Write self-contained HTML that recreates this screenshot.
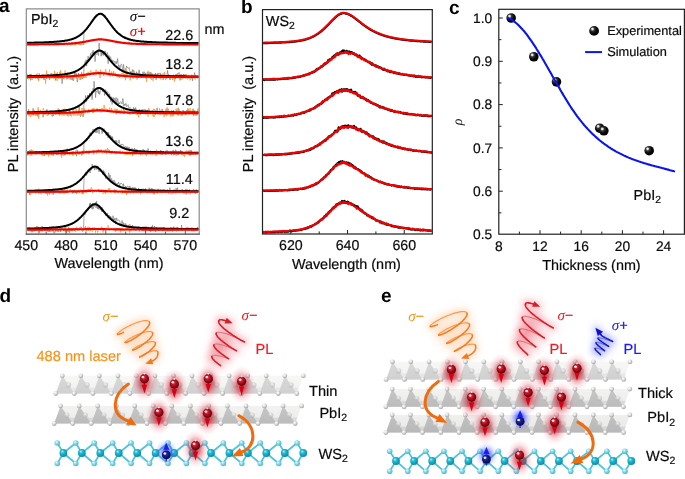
<!DOCTYPE html>
<html><head><meta charset="utf-8"><style>
html,body{margin:0;padding:0;background:#fff;}
svg{display:block;} text{text-rendering:geometricPrecision;}
</style></head><body>
<svg style="will-change:transform" width="685" height="479" viewBox="0 0 685 479">
<defs><radialGradient id="gblk" cx="0.36" cy="0.33" r="0.7" fx="0.33" fy="0.3"><stop offset="0" stop-color="#ffffff"/><stop offset="0.12" stop-color="#e0e0e0"/><stop offset="0.28" stop-color="#3a3a3a"/><stop offset="0.6" stop-color="#080808"/><stop offset="1" stop-color="#000"/></radialGradient>
<filter id="blur3" x="-50%" y="-50%" width="200%" height="200%"><feGaussianBlur stdDeviation="3"/></filter><filter id="blur4" x="-50%" y="-50%" width="200%" height="200%"><feGaussianBlur stdDeviation="4"/></filter>
<radialGradient id="gI" cx="0.42" cy="0.38" r="0.62" fx="0.35" fy="0.3"><stop offset="0" stop-color="#ffffff"/><stop offset="0.45" stop-color="#e2e2e2"/><stop offset="1" stop-color="#a0a0a0"/></radialGradient>
<radialGradient id="gPb" cx="0.4" cy="0.35" r="0.65"><stop offset="0" stop-color="#f4f4f4" stop-opacity="0.8"/><stop offset="1" stop-color="#b0b0b0" stop-opacity="0.6"/></radialGradient>
<radialGradient id="gS" cx="0.42" cy="0.4" r="0.62" fx="0.35" fy="0.3"><stop offset="0" stop-color="#e8fbff"/><stop offset="0.45" stop-color="#86dcee"/><stop offset="1" stop-color="#48b4cc"/></radialGradient>
<radialGradient id="gW" cx="0.42" cy="0.4" r="0.62" fx="0.35" fy="0.3"><stop offset="0" stop-color="#b8f4fc"/><stop offset="0.35" stop-color="#22bcd4"/><stop offset="1" stop-color="#0a8aa2"/></radialGradient>
<radialGradient id="gR" cx="0.45" cy="0.42" r="0.6" fx="0.38" fy="0.34"><stop offset="0" stop-color="#f06070"/><stop offset="0.35" stop-color="#c81828"/><stop offset="0.8" stop-color="#800410"/><stop offset="1" stop-color="#4a0006"/></radialGradient><radialGradient id="gHL" cx="0.5" cy="0.5" r="0.5"><stop offset="0" stop-color="#fff" stop-opacity="1"/><stop offset="0.5" stop-color="#fff" stop-opacity="0.8"/><stop offset="1" stop-color="#fff" stop-opacity="0"/></radialGradient>
<radialGradient id="gB" cx="0.45" cy="0.42" r="0.6" fx="0.38" fy="0.34"><stop offset="0" stop-color="#6070e0"/><stop offset="0.35" stop-color="#1c2490"/><stop offset="0.8" stop-color="#0a0e60"/><stop offset="1" stop-color="#02043a"/></radialGradient>
<radialGradient id="glowR" cx="0.5" cy="0.5" r="0.5"><stop offset="0" stop-color="#b80c1a" stop-opacity="0.85"/><stop offset="0.35" stop-color="#c41c2c" stop-opacity="0.55"/><stop offset="0.7" stop-color="#e05060" stop-opacity="0.18"/><stop offset="1" stop-color="#ff8090" stop-opacity="0"/></radialGradient>
<radialGradient id="glowB" cx="0.5" cy="0.5" r="0.5"><stop offset="0" stop-color="#1018e8" stop-opacity="0.8"/><stop offset="0.35" stop-color="#2030f0" stop-opacity="0.5"/><stop offset="0.7" stop-color="#5060ff" stop-opacity="0.15"/><stop offset="1" stop-color="#8090ff" stop-opacity="0"/></radialGradient>
<radialGradient id="glowO" cx="0.5" cy="0.5" r="0.5"><stop offset="0" stop-color="#fcd2aa" stop-opacity="0.45"/><stop offset="0.6" stop-color="#fde0c8" stop-opacity="0.25"/><stop offset="1" stop-color="#fff0e4" stop-opacity="0"/></radialGradient>
<radialGradient id="glowPL" cx="0.5" cy="0.5" r="0.5"><stop offset="0" stop-color="#d82838" stop-opacity="0.5"/><stop offset="0.5" stop-color="#e85060" stop-opacity="0.25"/><stop offset="1" stop-color="#ffb0b8" stop-opacity="0"/></radialGradient>
<radialGradient id="glowBL" cx="0.5" cy="0.5" r="0.5"><stop offset="0" stop-color="#5060e0" stop-opacity="0.45"/><stop offset="0.6" stop-color="#8090f0" stop-opacity="0.18"/><stop offset="1" stop-color="#c0c8ff" stop-opacity="0"/></radialGradient>
<linearGradient id="band1" gradientUnits="userSpaceOnUse" x1="0" y1="375.8" x2="0" y2="393.5"><stop offset="0" stop-color="#f7f7f6"/><stop offset="0.62" stop-color="#f3f3f2"/><stop offset="0.7" stop-color="#e7e7e7"/><stop offset="1" stop-color="#e7e7e7"/></linearGradient><linearGradient id="tri1" gradientUnits="userSpaceOnUse" x1="0" y1="375.8" x2="0" y2="393.5"><stop offset="0" stop-color="#d9d9d9"/><stop offset="1" stop-color="#d0d0d0"/></linearGradient><linearGradient id="band2" gradientUnits="userSpaceOnUse" x1="0" y1="405.9" x2="0" y2="423.5"><stop offset="0" stop-color="#f2f2f1"/><stop offset="0.62" stop-color="#eeeeed"/><stop offset="0.7" stop-color="#dadada"/><stop offset="1" stop-color="#dadada"/></linearGradient><linearGradient id="tri2" gradientUnits="userSpaceOnUse" x1="0" y1="405.9" x2="0" y2="423.5"><stop offset="0" stop-color="#c6c6c6"/><stop offset="1" stop-color="#bcbcbc"/></linearGradient><linearGradient id="band3" gradientUnits="userSpaceOnUse" x1="0" y1="361.8" x2="0" y2="379.4"><stop offset="0" stop-color="#f7f7f6"/><stop offset="0.62" stop-color="#f3f3f2"/><stop offset="0.7" stop-color="#e7e7e7"/><stop offset="1" stop-color="#e7e7e7"/></linearGradient><linearGradient id="tri3" gradientUnits="userSpaceOnUse" x1="0" y1="361.8" x2="0" y2="379.4"><stop offset="0" stop-color="#d9d9d9"/><stop offset="1" stop-color="#d0d0d0"/></linearGradient><linearGradient id="band4" gradientUnits="userSpaceOnUse" x1="0" y1="389.1" x2="0" y2="406.8"><stop offset="0" stop-color="#f2f2f1"/><stop offset="0.62" stop-color="#eeeeed"/><stop offset="0.7" stop-color="#dadada"/><stop offset="1" stop-color="#dadada"/></linearGradient><linearGradient id="tri4" gradientUnits="userSpaceOnUse" x1="0" y1="389.1" x2="0" y2="406.8"><stop offset="0" stop-color="#c6c6c6"/><stop offset="1" stop-color="#bcbcbc"/></linearGradient><linearGradient id="band5" gradientUnits="userSpaceOnUse" x1="0" y1="414.9" x2="0" y2="432.5"><stop offset="0" stop-color="#efefee"/><stop offset="0.62" stop-color="#ebebea"/><stop offset="0.7" stop-color="#d6d6d6"/><stop offset="1" stop-color="#d6d6d6"/></linearGradient><linearGradient id="tri5" gradientUnits="userSpaceOnUse" x1="0" y1="414.9" x2="0" y2="432.5"><stop offset="0" stop-color="#c2c2c2"/><stop offset="1" stop-color="#b8b8b8"/></linearGradient></defs>
<rect width="685" height="479" fill="#fff"/>
<path d="M27.1,44.7L27.6,43.6L28.1,43.8L28.6,44.0L29.1,43.4L29.6,43.8L30.1,43.8L30.6,42.9L31.1,44.3L31.6,44.1L32.1,43.5L32.6,43.7L33.1,44.1L33.6,43.7L34.1,43.7L34.6,43.1L35.1,44.1L35.6,43.9L36.1,43.9L36.6,43.0L37.1,44.6L37.6,43.9L38.1,43.6L38.6,44.8L39.1,43.8L39.6,43.1L40.1,43.6L40.6,42.6L41.1,44.3L41.6,43.6L42.1,43.4L42.6,44.4L43.1,42.9L43.6,44.1L44.1,42.7L44.6,43.5L45.1,43.2L45.6,44.6L46.1,44.7L46.6,43.6L47.1,44.2L47.6,43.7L48.1,44.1L48.6,43.4L49.1,42.9L49.6,42.9L50.1,44.0L50.6,45.0L51.1,43.9L51.6,43.5L52.1,44.8L52.6,43.9L53.1,43.9L53.6,43.9L54.1,43.7L54.6,43.6L55.1,43.0L55.6,44.1L56.1,43.8L56.6,44.4L57.1,43.6L57.6,42.8L58.1,43.7L58.6,44.7L59.1,43.6L59.6,43.3L60.1,43.2L60.6,43.2L61.1,43.6L61.6,43.2L62.1,44.6L62.6,43.6L63.1,43.9L63.6,44.6L64.1,44.6L64.6,43.7L65.1,44.0L65.6,44.2L66.1,43.7L66.6,42.8L67.1,44.2L67.6,44.3L68.1,44.0L68.6,43.3L69.1,43.7L69.6,43.5L70.1,43.6L70.6,44.5L71.1,44.6L71.6,44.2L72.1,44.1L72.6,44.2L73.1,43.8L73.6,43.8L74.1,43.4L74.6,43.8L75.1,45.1L75.6,44.3L76.1,43.6L76.6,43.5L77.1,43.3L77.6,44.0L78.1,44.0L78.6,42.9L79.1,44.1L79.6,43.5L80.1,44.7L80.6,43.9L81.1,44.9L81.6,43.5L82.1,43.6L82.6,44.0L83.1,44.5L83.6,44.2L84.1,30.8L84.6,31.2L85.1,30.5L85.6,29.7L86.1,28.9L86.6,30.0L87.1,27.9L87.6,26.9L88.1,27.3L88.6,26.3L89.1,25.5L89.6,25.4L90.1,24.5L90.6,23.7L91.1,23.5L91.6,22.3L92.1,20.8L92.6,20.3L93.1,19.5L93.6,19.4L94.1,17.7L94.6,16.4L95.1,17.4L95.6,15.6L96.1,14.5L96.6,16.0L97.1,14.6L97.6,15.3L98.1,14.0L98.6,13.2L99.1,12.9L99.6,13.4L100.1,13.6L100.6,13.1L101.1,13.6L101.6,12.7L102.1,14.3L102.6,13.0L103.1,14.7L103.6,15.9L104.1,16.7L104.6,17.8L105.1,15.5L105.6,18.1L106.1,19.1L106.6,19.5L107.1,18.6L107.6,20.4L108.1,22.3L108.6,20.3L109.1,22.6L109.6,23.8L110.1,23.1L110.6,24.7L111.1,24.2L111.6,25.1L112.1,25.8L112.6,27.1L113.1,27.6L113.6,29.0L114.1,28.2L114.6,29.4L115.1,30.7L115.6,31.0L116.1,30.3L116.6,32.1L117.1,31.9L117.6,32.9L118.1,33.3L118.6,34.3L119.1,34.1L119.6,33.2L120.1,33.9L120.6,35.6L121.1,35.4L121.6,36.5L122.1,36.3L122.6,36.0L123.1,37.4L123.6,36.6L124.1,36.1L124.6,38.8L125.1,36.7L125.6,38.4L126.1,38.8L126.6,38.5L127.1,37.7L127.6,39.4L128.1,38.2L128.6,38.4L129.1,39.1L129.6,39.9L130.1,39.8L130.6,40.2L131.1,39.6L131.6,39.9L132.1,39.5L132.6,40.0L133.1,40.6L133.6,40.2L134.1,40.7L134.6,40.3L135.1,40.3L135.6,40.8L136.1,40.7L136.6,41.2L137.1,41.0L137.6,41.9L138.1,41.0L138.6,41.0L139.1,40.6L139.6,41.3L140.1,41.7L140.6,41.0L141.1,41.4L141.6,41.8L142.1,41.4L142.6,41.3L143.1,42.1L143.6,41.7L144.1,41.9L144.6,42.3L145.1,42.3L145.6,41.6L146.1,41.5L146.6,42.0L147.1,41.8L147.6,40.9L148.1,42.6L148.6,42.0L149.1,42.4L149.6,41.4L150.1,42.7L150.6,41.8L151.1,42.1L151.6,41.4L152.1,42.1L152.6,42.1L153.1,42.1L153.6,42.5L154.1,42.3L154.6,42.8L155.1,42.1L155.6,41.8L156.1,42.3L156.6,42.7L157.1,43.0L157.6,42.8L158.1,41.5L158.6,42.6L159.1,43.2L159.6,42.5L160.1,42.2L160.6,42.7L161.1,42.3L161.6,42.9L162.1,42.5L162.6,43.3L163.1,42.8L163.6,42.2L164.1,42.9L164.6,43.1L165.1,42.3L165.6,42.4L166.1,41.5L166.6,43.1L167.1,42.4L167.6,41.6L168.1,41.8L168.6,42.6L169.1,43.1L169.6,42.7L170.1,43.0L170.6,42.2L171.1,42.1L171.6,43.2L172.1,43.0L172.6,42.8L173.1,43.5L173.6,42.3L174.1,42.6L174.6,43.3L175.1,43.8L175.6,42.8L176.1,43.7L176.6,42.6L177.1,43.0L177.6,42.8L178.1,42.1L178.6,43.0L179.1,43.4L179.6,42.8L180.1,42.9L180.6,43.6L181.1,42.3L181.6,42.2L182.1,42.6L182.6,42.3L183.1,43.6L183.6,43.1L184.1,42.5L184.6,42.7L185.1,44.4L185.6,42.7L186.1,42.6L186.6,43.2L187.1,43.3L187.6,43.1L188.1,42.6L188.6,42.4L189.1,43.3L189.6,43.0L190.1,42.2L190.6,43.6L191.1,43.4L191.6,42.9L192.1,42.9L192.6,43.2L193.1,42.7L193.6,42.4L194.1,43.2L194.6,42.3L195.1,43.3L195.6,42.4L196.1,43.0L196.6,43.0L197.1,44.0L197.6,42.6L198.1,42.4L198.6,42.8" fill="none" stroke="#6e6e6e" stroke-width="0.6"/>
<path d="M27.1,44.1L27.6,45.6L28.1,44.5L28.6,44.4L29.1,44.3L29.6,44.5L30.1,44.9L30.6,44.9L31.1,44.8L31.6,44.5L32.1,44.0L32.6,44.7L33.1,45.2L33.6,45.0L34.1,44.5L34.6,44.9L35.1,44.4L35.6,44.6L36.1,44.1L36.6,44.5L37.1,44.7L37.6,44.5L38.1,44.9L38.6,45.4L39.1,45.1L39.6,44.5L40.1,44.3L40.6,44.3L41.1,44.2L41.6,44.6L42.1,44.8L42.6,44.7L43.1,44.7L43.6,44.7L44.1,44.5L44.6,44.3L45.1,45.3L45.6,45.0L46.1,44.2L46.6,44.2L47.1,44.4L47.6,44.6L48.1,45.1L48.6,45.0L49.1,45.0L49.6,45.0L50.1,45.0L50.6,44.9L51.1,44.8L51.6,44.6L52.1,43.9L52.6,44.5L53.1,45.3L53.6,44.4L54.1,44.3L54.6,45.0L55.1,44.6L55.6,44.4L56.1,45.2L56.6,44.8L57.1,44.9L57.6,44.4L58.1,44.8L58.6,44.8L59.1,44.9L59.6,45.1L60.1,45.1L60.6,44.7L61.1,44.9L61.6,44.1L62.1,44.9L62.6,44.9L63.1,44.4L63.6,44.3L64.1,44.6L64.6,44.1L65.1,44.7L65.6,44.7L66.1,44.2L66.6,44.6L67.1,45.0L67.6,45.0L68.1,45.0L68.6,44.5L69.1,44.5L69.6,44.4L70.1,44.8L70.6,45.5L71.1,45.2L71.6,45.2L72.1,45.1L72.6,44.0L73.1,44.5L73.6,44.4L74.1,45.1L74.6,45.3L75.1,44.3L75.6,44.6L76.1,44.8L76.6,44.4L77.1,44.3L77.6,44.3L78.1,45.0L78.6,44.2L79.1,45.1L79.6,44.6L80.1,44.9L80.6,45.2L81.1,44.3L81.6,44.3L82.1,44.8L82.6,44.2L83.1,44.3L83.6,44.6L84.1,41.9L84.6,41.3L85.1,41.5L85.6,41.8L86.1,42.0L86.6,40.6L87.1,41.8L87.6,41.6L88.1,40.7L88.6,40.4L89.1,41.1L89.6,40.6L90.1,40.8L90.6,41.0L91.1,40.4L91.6,40.5L92.1,40.5L92.6,40.6L93.1,40.8L93.6,40.7L94.1,40.1L94.6,39.8L95.1,40.8L95.6,40.0L96.1,39.8L96.6,39.2L97.1,39.9L97.6,39.2L98.1,39.3L98.6,38.9L99.1,39.2L99.6,39.4L100.1,38.8L100.6,39.0L101.1,39.4L101.6,38.9L102.1,39.0L102.6,39.2L103.1,39.0L103.6,39.8L104.1,39.2L104.6,40.0L105.1,40.1L105.6,39.3L106.1,39.9L106.6,39.8L107.1,39.6L107.6,40.0L108.1,40.1L108.6,40.6L109.1,40.8L109.6,40.1L110.1,40.5L110.6,40.9L111.1,41.3L111.6,40.0L112.1,41.5L112.6,41.1L113.1,41.8L113.6,41.2L114.1,41.1L114.6,41.5L115.1,42.1L115.6,41.7L116.1,40.8L116.6,42.2L117.1,41.3L117.6,41.7L118.1,41.7L118.6,41.5L119.1,41.8L119.6,42.0L120.1,42.2L120.6,42.5L121.1,42.5L121.6,42.1L122.1,42.7L122.6,43.2L123.1,43.2L123.6,43.0L124.1,43.2L124.6,43.4L125.1,43.6L125.6,43.8L126.1,43.1L126.6,43.1L127.1,43.9L127.6,43.9L128.1,44.0L128.6,42.5L129.1,43.4L129.6,42.2L130.1,43.8L130.6,43.6L131.1,43.6L131.6,43.6L132.1,44.2L132.6,43.6L133.1,44.1L133.6,44.0L134.1,43.9L134.6,44.0L135.1,43.9L135.6,43.4L136.1,44.1L136.6,44.2L137.1,43.8L137.6,44.2L138.1,44.3L138.6,43.4L139.1,43.9L139.6,43.8L140.1,43.6L140.6,44.1L141.1,43.7L141.6,43.9L142.1,44.2L142.6,44.2L143.1,44.2L143.6,45.0L144.1,43.9L144.6,44.2L145.1,43.6L145.6,44.3L146.1,44.6L146.6,44.6L147.1,43.9L147.6,44.1L148.1,44.7L148.6,44.2L149.1,44.6L149.6,43.8L150.1,44.8L150.6,44.6L151.1,44.4L151.6,43.9L152.1,44.2L152.6,44.3L153.1,44.4L153.6,44.2L154.1,44.2L154.6,44.4L155.1,44.8L155.6,43.5L156.1,43.7L156.6,43.7L157.1,44.0L157.6,43.6L158.1,44.5L158.6,44.4L159.1,44.2L159.6,44.1L160.1,44.4L160.6,44.4L161.1,44.5L161.6,44.0L162.1,44.6L162.6,43.8L163.1,44.9L163.6,43.1L164.1,44.1L164.6,43.9L165.1,44.7L165.6,43.8L166.1,45.1L166.6,43.8L167.1,45.2L167.6,44.6L168.1,44.4L168.6,44.6L169.1,45.3L169.6,44.8L170.1,43.5L170.6,44.9L171.1,44.5L171.6,43.8L172.1,44.7L172.6,43.9L173.1,44.5L173.6,44.5L174.1,44.2L174.6,44.7L175.1,44.0L175.6,44.5L176.1,44.2L176.6,44.4L177.1,45.2L177.6,44.5L178.1,44.0L178.6,44.4L179.1,44.1L179.6,44.5L180.1,44.5L180.6,44.5L181.1,44.5L181.6,44.2L182.1,44.6L182.6,44.9L183.1,44.2L183.6,44.4L184.1,44.5L184.6,45.0L185.1,44.9L185.6,44.2L186.1,44.5L186.6,43.9L187.1,44.1L187.6,44.5L188.1,44.7L188.6,44.9L189.1,44.3L189.6,43.9L190.1,44.6L190.6,44.4L191.1,44.6L191.6,44.5L192.1,44.8L192.6,44.7L193.1,44.8L193.6,44.3L194.1,44.9L194.6,44.3L195.1,44.5L195.6,45.2L196.1,44.6L196.6,44.0L197.1,45.1L197.6,44.9L198.1,44.9L198.6,44.6" fill="none" stroke="#f39428" stroke-width="0.7"/>
<path d="M27.1,42.8L27.6,42.8L28.1,42.8L28.6,42.8L29.1,42.8L29.6,42.8L30.1,42.7L30.6,42.7L31.1,42.7L31.6,42.7L32.1,42.7L32.6,42.7L33.1,42.7L33.6,42.7L34.1,42.7L34.6,42.6L35.1,42.6L35.6,42.6L36.1,42.6L36.6,42.6L37.1,42.6L37.6,42.6L38.1,42.6L38.6,42.5L39.1,42.5L39.6,42.5L40.1,42.5L40.6,42.5L41.1,42.5L41.6,42.4L42.1,42.4L42.6,42.4L43.1,42.4L43.6,42.4L44.1,42.3L44.6,42.3L45.1,42.3L45.6,42.3L46.1,42.3L46.6,42.2L47.1,42.2L47.6,42.2L48.1,42.2L48.6,42.2L49.1,42.1L49.6,42.1L50.1,42.1L50.6,42.1L51.1,42.0L51.6,42.0L52.1,42.0L52.6,41.9L53.1,41.9L53.6,41.9L54.1,41.8L54.6,41.8L55.1,41.8L55.6,41.7L56.1,41.7L56.6,41.7L57.1,41.6L57.6,41.6L58.1,41.5L58.6,41.5L59.1,41.4L59.6,41.4L60.1,41.3L60.6,41.3L61.1,41.2L61.6,41.2L62.1,41.1L62.6,41.1L63.1,41.0L63.6,40.9L64.1,40.9L64.6,40.8L65.1,40.7L65.6,40.6L66.1,40.6L66.6,40.5L67.1,40.4L67.6,40.3L68.1,40.2L68.6,40.1L69.1,39.9L69.6,39.8L70.1,39.7L70.6,39.6L71.1,39.4L71.6,39.3L72.1,39.1L72.6,39.0L73.1,38.8L73.6,38.6L74.1,38.4L74.6,38.2L75.1,38.0L75.6,37.8L76.1,37.5L76.6,37.3L77.1,37.0L77.6,36.7L78.1,36.4L78.6,36.1L79.1,35.8L79.6,35.4L80.1,35.1L80.6,34.7L81.1,34.3L81.6,33.9L82.1,33.5L82.6,33.0L83.1,32.6L83.6,32.1L84.1,31.6L84.6,31.0L85.1,30.5L85.6,29.9L86.1,29.4L86.6,28.8L87.1,28.2L87.6,27.5L88.1,26.9L88.6,26.2L89.1,25.5L89.6,24.9L90.1,24.2L90.6,23.5L91.1,22.7L91.6,22.0L92.1,21.3L92.6,20.6L93.1,19.9L93.6,19.2L94.1,18.6L94.6,17.9L95.1,17.3L95.6,16.7L96.1,16.2L96.6,15.7L97.1,15.2L97.6,14.8L98.1,14.5L98.6,14.2L99.1,14.0L99.6,13.9L100.1,13.8L100.6,13.8L101.1,13.9L101.6,14.0L102.1,14.3L102.6,14.6L103.1,14.9L103.6,15.3L104.1,15.8L104.6,16.3L105.1,16.8L105.6,17.4L106.1,18.1L106.6,18.7L107.1,19.4L107.6,20.1L108.1,20.8L108.6,21.5L109.1,22.2L109.6,22.9L110.1,23.6L110.6,24.3L111.1,25.0L111.6,25.7L112.1,26.4L112.6,27.0L113.1,27.7L113.6,28.3L114.1,28.9L114.6,29.5L115.1,30.1L115.6,30.6L116.1,31.2L116.6,31.7L117.1,32.2L117.6,32.7L118.1,33.1L118.6,33.6L119.1,34.0L119.6,34.4L120.1,34.8L120.6,35.2L121.1,35.5L121.6,35.9L122.1,36.2L122.6,36.5L123.1,36.8L123.6,37.1L124.1,37.3L124.6,37.6L125.1,37.8L125.6,38.0L126.1,38.2L126.6,38.4L127.1,38.6L127.6,38.8L128.1,39.0L128.6,39.2L129.1,39.3L129.6,39.5L130.1,39.6L130.6,39.7L131.1,39.9L131.6,40.0L132.1,40.1L132.6,40.2L133.1,40.3L133.6,40.4L134.1,40.5L134.6,40.6L135.1,40.7L135.6,40.7L136.1,40.8L136.6,40.9L137.1,40.9L137.6,41.0L138.1,41.1L138.6,41.1L139.1,41.2L139.6,41.2L140.1,41.3L140.6,41.4L141.1,41.4L141.6,41.5L142.1,41.5L142.6,41.5L143.1,41.6L143.6,41.6L144.1,41.7L144.6,41.7L145.1,41.7L145.6,41.8L146.1,41.8L146.6,41.8L147.1,41.9L147.6,41.9L148.1,41.9L148.6,42.0L149.1,42.0L149.6,42.0L150.1,42.1L150.6,42.1L151.1,42.1L151.6,42.1L152.1,42.2L152.6,42.2L153.1,42.2L153.6,42.2L154.1,42.3L154.6,42.3L155.1,42.3L155.6,42.3L156.1,42.3L156.6,42.4L157.1,42.4L157.6,42.4L158.1,42.4L158.6,42.4L159.1,42.4L159.6,42.5L160.1,42.5L160.6,42.5L161.1,42.5L161.6,42.5L162.1,42.5L162.6,42.6L163.1,42.6L163.6,42.6L164.1,42.6L164.6,42.6L165.1,42.6L165.6,42.6L166.1,42.6L166.6,42.7L167.1,42.7L167.6,42.7L168.1,42.7L168.6,42.7L169.1,42.7L169.6,42.7L170.1,42.7L170.6,42.7L171.1,42.8L171.6,42.8L172.1,42.8L172.6,42.8L173.1,42.8L173.6,42.8L174.1,42.8L174.6,42.8L175.1,42.8L175.6,42.8L176.1,42.9L176.6,42.9L177.1,42.9L177.6,42.9L178.1,42.9L178.6,42.9L179.1,42.9L179.6,42.9L180.1,42.9L180.6,42.9L181.1,42.9L181.6,42.9L182.1,42.9L182.6,42.9L183.1,43.0L183.6,43.0L184.1,43.0L184.6,43.0L185.1,43.0L185.6,43.0L186.1,43.0L186.6,43.0L187.1,43.0L187.6,43.0L188.1,43.0L188.6,43.0L189.1,43.0L189.6,43.0L190.1,43.0L190.6,43.0L191.1,43.0L191.6,43.0L192.1,43.1L192.6,43.1L193.1,43.1L193.6,43.1L194.1,43.1L194.6,43.1L195.1,43.1L195.6,43.1L196.1,43.1L196.6,43.1L197.1,43.1L197.6,43.1L198.1,43.1L198.6,43.1" fill="none" stroke="#000" stroke-width="2.0" stroke-linejoin="round"/>
<path d="M27.1,44.4L27.6,44.4L28.1,44.4L28.6,44.4L29.1,44.4L29.6,44.4L30.1,44.4L30.6,44.4L31.1,44.4L31.6,44.4L32.1,44.4L32.6,44.4L33.1,44.4L33.6,44.4L34.1,44.4L34.6,44.4L35.1,44.4L35.6,44.4L36.1,44.4L36.6,44.4L37.1,44.4L37.6,44.4L38.1,44.3L38.6,44.3L39.1,44.3L39.6,44.3L40.1,44.3L40.6,44.3L41.1,44.3L41.6,44.3L42.1,44.3L42.6,44.3L43.1,44.3L43.6,44.3L44.1,44.3L44.6,44.3L45.1,44.3L45.6,44.3L46.1,44.3L46.6,44.3L47.1,44.3L47.6,44.3L48.1,44.2L48.6,44.2L49.1,44.2L49.6,44.2L50.1,44.2L50.6,44.2L51.1,44.2L51.6,44.2L52.1,44.2L52.6,44.2L53.1,44.2L53.6,44.2L54.1,44.2L54.6,44.1L55.1,44.1L55.6,44.1L56.1,44.1L56.6,44.1L57.1,44.1L57.6,44.1L58.1,44.1L58.6,44.1L59.1,44.0L59.6,44.0L60.1,44.0L60.6,44.0L61.1,44.0L61.6,44.0L62.1,44.0L62.6,43.9L63.1,43.9L63.6,43.9L64.1,43.9L64.6,43.9L65.1,43.8L65.6,43.8L66.1,43.8L66.6,43.8L67.1,43.7L67.6,43.7L68.1,43.7L68.6,43.6L69.1,43.6L69.6,43.6L70.1,43.5L70.6,43.5L71.1,43.5L71.6,43.4L72.1,43.4L72.6,43.4L73.1,43.3L73.6,43.3L74.1,43.2L74.6,43.2L75.1,43.1L75.6,43.1L76.1,43.0L76.6,43.0L77.1,42.9L77.6,42.8L78.1,42.8L78.6,42.7L79.1,42.6L79.6,42.6L80.1,42.5L80.6,42.4L81.1,42.4L81.6,42.3L82.1,42.2L82.6,42.1L83.1,42.0L83.6,41.9L84.1,41.9L84.6,41.8L85.1,41.7L85.6,41.6L86.1,41.5L86.6,41.4L87.1,41.3L87.6,41.2L88.1,41.1L88.6,41.0L89.1,40.9L89.6,40.8L90.1,40.7L90.6,40.6L91.1,40.5L91.6,40.4L92.1,40.3L92.6,40.2L93.1,40.1L93.6,40.0L94.1,40.0L94.6,39.9L95.1,39.8L95.6,39.7L96.1,39.7L96.6,39.6L97.1,39.6L97.6,39.5L98.1,39.5L98.6,39.4L99.1,39.4L99.6,39.4L100.1,39.4L100.6,39.4L101.1,39.4L101.6,39.4L102.1,39.5L102.6,39.5L103.1,39.5L103.6,39.6L104.1,39.6L104.6,39.7L105.1,39.8L105.6,39.8L106.1,39.9L106.6,40.0L107.1,40.1L107.6,40.2L108.1,40.2L108.6,40.3L109.1,40.4L109.6,40.5L110.1,40.6L110.6,40.7L111.1,40.8L111.6,40.9L112.1,41.0L112.6,41.1L113.1,41.2L113.6,41.3L114.1,41.4L114.6,41.5L115.1,41.6L115.6,41.7L116.1,41.8L116.6,41.9L117.1,42.0L117.6,42.1L118.1,42.1L118.6,42.2L119.1,42.3L119.6,42.4L120.1,42.4L120.6,42.5L121.1,42.6L121.6,42.7L122.1,42.7L122.6,42.8L123.1,42.9L123.6,42.9L124.1,43.0L124.6,43.0L125.1,43.1L125.6,43.1L126.1,43.2L126.6,43.2L127.1,43.3L127.6,43.3L128.1,43.4L128.6,43.4L129.1,43.4L129.6,43.5L130.1,43.5L130.6,43.6L131.1,43.6L131.6,43.6L132.1,43.7L132.6,43.7L133.1,43.7L133.6,43.7L134.1,43.8L134.6,43.8L135.1,43.8L135.6,43.8L136.1,43.9L136.6,43.9L137.1,43.9L137.6,43.9L138.1,43.9L138.6,44.0L139.1,44.0L139.6,44.0L140.1,44.0L140.6,44.0L141.1,44.0L141.6,44.0L142.1,44.1L142.6,44.1L143.1,44.1L143.6,44.1L144.1,44.1L144.6,44.1L145.1,44.1L145.6,44.1L146.1,44.1L146.6,44.2L147.1,44.2L147.6,44.2L148.1,44.2L148.6,44.2L149.1,44.2L149.6,44.2L150.1,44.2L150.6,44.2L151.1,44.2L151.6,44.2L152.1,44.2L152.6,44.2L153.1,44.3L153.6,44.3L154.1,44.3L154.6,44.3L155.1,44.3L155.6,44.3L156.1,44.3L156.6,44.3L157.1,44.3L157.6,44.3L158.1,44.3L158.6,44.3L159.1,44.3L159.6,44.3L160.1,44.3L160.6,44.3L161.1,44.3L161.6,44.3L162.1,44.3L162.6,44.3L163.1,44.4L163.6,44.4L164.1,44.4L164.6,44.4L165.1,44.4L165.6,44.4L166.1,44.4L166.6,44.4L167.1,44.4L167.6,44.4L168.1,44.4L168.6,44.4L169.1,44.4L169.6,44.4L170.1,44.4L170.6,44.4L171.1,44.4L171.6,44.4L172.1,44.4L172.6,44.4L173.1,44.4L173.6,44.4L174.1,44.4L174.6,44.4L175.1,44.4L175.6,44.4L176.1,44.4L176.6,44.4L177.1,44.4L177.6,44.4L178.1,44.4L178.6,44.4L179.1,44.4L179.6,44.4L180.1,44.4L180.6,44.4L181.1,44.4L181.6,44.4L182.1,44.4L182.6,44.5L183.1,44.5L183.6,44.5L184.1,44.5L184.6,44.5L185.1,44.5L185.6,44.5L186.1,44.5L186.6,44.5L187.1,44.5L187.6,44.5L188.1,44.5L188.6,44.5L189.1,44.5L189.6,44.5L190.1,44.5L190.6,44.5L191.1,44.5L191.6,44.5L192.1,44.5L192.6,44.5L193.1,44.5L193.6,44.5L194.1,44.5L194.6,44.5L195.1,44.5L195.6,44.5L196.1,44.5L196.6,44.5L197.1,44.5L197.6,44.5L198.1,44.5L198.6,44.5" fill="none" stroke="#f40000" stroke-width="2.1" stroke-linejoin="round"/>
<path d="M27.1,73.7L27.6,78.9L28.1,77.6L28.6,77.1L29.1,75.7L29.6,78.5L30.1,73.9L30.6,80.4L31.1,77.7L31.6,74.3L32.1,78.3L32.6,76.1L33.1,76.1L33.6,76.6L34.1,76.8L34.6,77.5L35.1,78.4L35.6,77.8L36.1,75.7L36.6,74.6L37.1,75.5L37.6,77.7L38.1,78.6L38.6,80.3L39.1,74.6L39.6,77.1L40.1,76.6L40.6,76.3L41.1,77.2L41.6,76.5L42.1,76.5L42.6,75.8L43.1,77.7L43.6,78.9L44.1,80.0L44.6,76.0L45.1,75.1L45.6,76.5L46.1,75.5L46.6,78.9L47.1,75.5L47.6,77.1L48.1,74.5L48.6,76.4L49.1,77.3L49.6,79.8L50.1,75.7L50.6,77.7L51.1,73.2L51.6,74.8L52.1,75.5L52.6,76.1L53.1,77.8L53.6,78.1L54.1,74.0L54.6,78.0L55.1,74.9L55.6,80.4L56.1,77.6L56.6,77.3L57.1,76.7L57.6,76.9L58.1,77.0L58.6,75.7L59.1,78.4L59.6,77.5L60.1,78.4L60.6,76.9L61.1,78.3L61.6,75.6L62.1,83.7L62.6,75.6L63.1,76.1L63.6,78.8L64.1,79.3L64.6,75.5L65.1,73.8L65.6,74.3L66.1,75.1L66.6,75.5L67.1,76.7L67.6,79.0L68.1,79.1L68.6,75.8L69.1,78.0L69.6,76.6L70.1,79.7L70.6,76.7L71.1,75.5L71.6,78.4L72.1,80.0L72.6,75.9L73.1,80.9L73.6,80.4L74.1,76.4L74.6,72.8L75.1,75.7L75.6,76.2L76.1,78.1L76.6,73.5L77.1,82.0L77.6,81.9L78.1,75.4L78.6,73.0L79.1,76.6L79.6,77.9L80.1,79.9L80.6,78.5L81.1,76.5L81.6,72.7L82.1,78.1L82.6,78.9L83.1,76.2L83.6,77.6L84.1,65.7L84.6,64.2L85.1,61.5L85.6,64.6L86.1,59.7L86.6,66.2L87.1,59.8L87.6,62.8L88.1,56.1L88.6,61.3L89.1,59.2L89.6,60.6L90.1,56.0L90.6,53.5L91.1,56.6L91.6,55.9L92.1,52.0L92.6,53.8L93.1,50.0L93.6,55.2L94.1,51.7L94.6,54.1L95.1,61.6L95.6,53.9L96.1,54.3L96.6,54.8L97.1,52.3L97.6,50.7L98.1,55.2L98.6,55.6L99.1,43.0L99.6,51.7L100.1,51.2L100.6,50.5L101.1,56.3L101.6,50.8L102.1,55.3L102.6,51.1L103.1,51.7L103.6,55.4L104.1,51.2L104.6,53.3L105.1,50.8L105.6,51.9L106.1,57.0L106.6,57.0L107.1,52.5L107.6,52.9L108.1,63.7L108.6,55.4L109.1,55.2L109.6,58.8L110.1,56.5L110.6,58.0L111.1,57.9L111.6,62.4L112.1,59.8L112.6,64.0L113.1,60.7L113.6,60.8L114.1,61.8L114.6,61.4L115.1,63.7L115.6,63.4L116.1,61.2L116.6,63.7L117.1,62.4L117.6,58.7L118.1,63.8L118.6,66.6L119.1,65.2L119.6,67.6L120.1,68.4L120.6,65.3L121.1,64.3L121.6,64.2L122.1,66.8L122.6,68.3L123.1,70.0L123.6,64.4L124.1,69.2L124.6,69.9L125.1,72.9L125.6,68.7L126.1,68.6L126.6,65.9L127.1,67.7L127.6,67.4L128.1,67.9L128.6,68.4L129.1,67.5L129.6,70.6L130.1,71.8L130.6,72.8L131.1,71.4L131.6,73.8L132.1,74.1L132.6,69.4L133.1,72.0L133.6,70.3L134.1,71.0L134.6,73.4L135.1,73.0L135.6,76.1L136.1,77.4L136.6,71.7L137.1,73.4L137.6,73.6L138.1,74.0L138.6,75.2L139.1,69.8L139.6,75.4L140.1,73.9L140.6,76.4L141.1,77.1L141.6,77.8L142.1,74.4L142.6,72.2L143.1,71.7L143.6,74.3L144.1,72.3L144.6,71.9L145.1,74.3L145.6,73.2L146.1,76.3L146.6,78.7L147.1,74.7L147.6,75.8L148.1,72.3L148.6,75.6L149.1,74.0L149.6,73.3L150.1,71.9L150.6,78.3L151.1,72.5L151.6,73.2L152.1,75.5L152.6,76.0L153.1,76.0L153.6,75.7L154.1,73.9L154.6,77.0L155.1,75.9L155.6,73.0L156.1,79.9L156.6,75.0L157.1,77.4L157.6,73.1L158.1,73.6L158.6,74.7L159.1,75.4L159.6,77.6L160.1,72.8L160.6,76.1L161.1,74.0L161.6,76.8L162.1,76.2L162.6,74.9L163.1,79.9L163.6,75.8L164.1,77.9L164.6,73.7L165.1,75.7L165.6,76.1L166.1,76.2L166.6,75.3L167.1,74.5L167.6,70.4L168.1,75.0L168.6,74.4L169.1,75.6L169.6,77.6L170.1,80.0L170.6,77.0L171.1,77.9L171.6,77.2L172.1,77.4L172.6,77.2L173.1,75.6L173.6,75.5L174.1,76.7L174.6,79.4L175.1,77.6L175.6,79.0L176.1,73.9L176.6,76.7L177.1,76.9L177.6,77.1L178.1,73.8L178.6,72.9L179.1,72.4L179.6,75.5L180.1,80.4L180.6,75.0L181.1,74.1L181.6,76.9L182.1,75.7L182.6,76.6L183.1,75.5L183.6,74.0L184.1,75.3L184.6,77.6L185.1,76.9L185.6,78.5L186.1,74.4L186.6,78.2L187.1,76.5L187.6,76.7L188.1,78.6L188.6,76.1L189.1,76.9L189.6,77.5L190.1,77.6L190.6,77.9L191.1,78.7L191.6,77.4L192.1,75.6L192.6,80.8L193.1,76.4L193.6,77.1L194.1,75.1L194.6,72.6L195.1,75.1L195.6,76.6L196.1,77.4L196.6,76.5L197.1,76.7L197.6,78.3L198.1,78.3L198.6,76.5" fill="none" stroke="#6e6e6e" stroke-width="0.6"/>
<path d="M27.1,76.9L27.6,75.9L28.1,77.3L28.6,79.3L29.1,77.7L29.6,76.7L30.1,74.6L30.6,76.5L31.1,74.8L31.6,77.8L32.1,80.0L32.6,79.1L33.1,75.9L33.6,75.2L34.1,75.5L34.6,77.9L35.1,74.6L35.6,78.6L36.1,77.7L36.6,74.7L37.1,73.4L37.6,79.2L38.1,75.5L38.6,80.8L39.1,73.0L39.6,74.9L40.1,75.3L40.6,77.6L41.1,78.4L41.6,76.0L42.1,78.2L42.6,74.5L43.1,76.1L43.6,74.7L44.1,76.0L44.6,75.8L45.1,77.7L45.6,83.7L46.1,74.4L46.6,70.5L47.1,78.4L47.6,77.2L48.1,74.6L48.6,75.1L49.1,78.6L49.6,75.5L50.1,78.6L50.6,77.4L51.1,77.5L51.6,75.9L52.1,73.5L52.6,74.9L53.1,78.4L53.6,76.5L54.1,78.5L54.6,70.8L55.1,78.3L55.6,79.0L56.1,72.8L56.6,77.7L57.1,80.8L57.6,72.2L58.1,79.0L58.6,77.1L59.1,78.7L59.6,71.8L60.1,75.6L60.6,70.3L61.1,76.4L61.6,75.9L62.1,75.4L62.6,79.2L63.1,75.9L63.6,74.7L64.1,75.3L64.6,74.7L65.1,70.5L65.6,78.0L66.1,78.5L66.6,79.5L67.1,72.2L67.6,75.5L68.1,77.4L68.6,77.4L69.1,75.8L69.6,77.2L70.1,76.3L70.6,74.5L71.1,76.7L71.6,77.2L72.1,79.4L72.6,77.3L73.1,79.7L73.6,79.5L74.1,75.6L74.6,74.9L75.1,75.9L75.6,70.5L76.1,75.5L76.6,78.4L77.1,78.4L77.6,79.4L78.1,77.6L78.6,76.2L79.1,77.9L79.6,75.3L80.1,77.4L80.6,75.6L81.1,79.3L81.6,71.9L82.1,78.7L82.6,78.8L83.1,77.0L83.6,77.8L84.1,75.3L84.6,77.3L85.1,77.9L85.6,74.7L86.1,77.8L86.6,73.3L87.1,75.2L87.6,75.2L88.1,71.8L88.6,74.8L89.1,72.8L89.6,75.6L90.1,72.3L90.6,70.5L91.1,71.3L91.6,73.8L92.1,74.0L92.6,74.3L93.1,72.1L93.6,75.0L94.1,72.4L94.6,73.0L95.1,75.2L95.6,73.0L96.1,69.6L96.6,74.6L97.1,73.2L97.6,72.4L98.1,71.1L98.6,71.9L99.1,74.4L99.6,73.4L100.1,78.1L100.6,69.6L101.1,73.5L101.6,73.8L102.1,72.3L102.6,71.5L103.1,72.0L103.6,76.0L104.1,72.5L104.6,73.9L105.1,73.4L105.6,69.2L106.1,72.4L106.6,72.6L107.1,73.6L107.6,74.0L108.1,76.0L108.6,74.9L109.1,72.3L109.6,69.4L110.1,76.6L110.6,73.1L111.1,74.1L111.6,71.5L112.1,72.4L112.6,76.2L113.1,74.5L113.6,71.1L114.1,74.7L114.6,74.4L115.1,72.7L115.6,75.6L116.1,74.5L116.6,75.1L117.1,77.0L117.6,74.0L118.1,77.4L118.6,74.8L119.1,74.9L119.6,78.0L120.1,76.3L120.6,74.8L121.1,75.4L121.6,76.1L122.1,72.9L122.6,77.1L123.1,75.8L123.6,73.3L124.1,74.1L124.6,77.6L125.1,73.5L125.6,80.2L126.1,68.6L126.6,76.5L127.1,71.2L127.6,76.0L128.1,75.2L128.6,77.1L129.1,76.6L129.6,75.6L130.1,80.4L130.6,77.8L131.1,74.9L131.6,77.0L132.1,70.8L132.6,75.2L133.1,78.8L133.6,71.5L134.1,74.4L134.6,74.2L135.1,78.0L135.6,76.7L136.1,76.5L136.6,78.3L137.1,79.7L137.6,78.1L138.1,73.2L138.6,77.3L139.1,77.1L139.6,74.3L140.1,73.4L140.6,75.8L141.1,76.0L141.6,76.5L142.1,75.2L142.6,76.9L143.1,77.2L143.6,76.1L144.1,73.8L144.6,75.5L145.1,73.6L145.6,76.6L146.1,78.4L146.6,81.9L147.1,72.5L147.6,75.7L148.1,70.8L148.6,77.2L149.1,75.0L149.6,76.9L150.1,78.6L150.6,76.5L151.1,76.6L151.6,79.9L152.1,78.4L152.6,73.6L153.1,80.8L153.6,75.4L154.1,77.3L154.6,75.9L155.1,75.9L155.6,75.4L156.1,78.0L156.6,75.3L157.1,74.3L157.6,75.7L158.1,76.8L158.6,72.9L159.1,78.3L159.6,75.4L160.1,78.2L160.6,79.5L161.1,77.4L161.6,77.8L162.1,75.9L162.6,75.5L163.1,73.1L163.6,76.5L164.1,75.8L164.6,72.2L165.1,77.4L165.6,79.8L166.1,77.6L166.6,79.1L167.1,76.3L167.6,74.9L168.1,77.0L168.6,76.2L169.1,74.7L169.6,78.9L170.1,77.2L170.6,75.6L171.1,77.2L171.6,75.6L172.1,78.1L172.6,80.0L173.1,75.7L173.6,74.6L174.1,79.6L174.6,81.5L175.1,75.7L175.6,75.1L176.1,74.6L176.6,76.9L177.1,77.1L177.6,73.1L178.1,78.5L178.6,75.3L179.1,75.8L179.6,74.5L180.1,79.6L180.6,79.0L181.1,79.5L181.6,75.3L182.1,79.5L182.6,77.5L183.1,78.3L183.6,78.1L184.1,76.3L184.6,76.6L185.1,74.0L185.6,75.9L186.1,76.5L186.6,74.7L187.1,77.1L187.6,79.4L188.1,76.0L188.6,75.1L189.1,75.3L189.6,77.3L190.1,80.3L190.6,77.3L191.1,77.1L191.6,74.6L192.1,77.6L192.6,78.2L193.1,76.2L193.6,76.9L194.1,75.7L194.6,78.4L195.1,79.6L195.6,77.7L196.1,78.0L196.6,77.1L197.1,75.7L197.6,75.5L198.1,76.2L198.6,77.2" fill="none" stroke="#f39428" stroke-width="0.7"/>
<path d="M27.1,76.2L27.6,76.2L28.1,76.2L28.6,76.1L29.1,76.1L29.6,76.1L30.1,76.1L30.6,76.1L31.1,76.1L31.6,76.1L32.1,76.1L32.6,76.1L33.1,76.1L33.6,76.0L34.1,76.0L34.6,76.0L35.1,76.0L35.6,76.0L36.1,76.0L36.6,76.0L37.1,76.0L37.6,76.0L38.1,75.9L38.6,75.9L39.1,75.9L39.6,75.9L40.1,75.9L40.6,75.9L41.1,75.9L41.6,75.8L42.1,75.8L42.6,75.8L43.1,75.8L43.6,75.8L44.1,75.8L44.6,75.7L45.1,75.7L45.6,75.7L46.1,75.7L46.6,75.7L47.1,75.6L47.6,75.6L48.1,75.6L48.6,75.6L49.1,75.5L49.6,75.5L50.1,75.5L50.6,75.5L51.1,75.5L51.6,75.4L52.1,75.4L52.6,75.4L53.1,75.3L53.6,75.3L54.1,75.3L54.6,75.2L55.1,75.2L55.6,75.2L56.1,75.1L56.6,75.1L57.1,75.1L57.6,75.0L58.1,75.0L58.6,75.0L59.1,74.9L59.6,74.9L60.1,74.8L60.6,74.8L61.1,74.7L61.6,74.7L62.1,74.6L62.6,74.6L63.1,74.5L63.6,74.4L64.1,74.4L64.6,74.3L65.1,74.2L65.6,74.1L66.1,74.1L66.6,74.0L67.1,73.9L67.6,73.8L68.1,73.7L68.6,73.6L69.1,73.5L69.6,73.4L70.1,73.2L70.6,73.1L71.1,73.0L71.6,72.8L72.1,72.7L72.6,72.5L73.1,72.4L73.6,72.2L74.1,72.0L74.6,71.8L75.1,71.6L75.6,71.4L76.1,71.1L76.6,70.9L77.1,70.6L77.6,70.4L78.1,70.1L78.6,69.8L79.1,69.5L79.6,69.2L80.1,68.8L80.6,68.5L81.1,68.1L81.6,67.7L82.1,67.3L82.6,66.9L83.1,66.4L83.6,66.0L84.1,65.5L84.6,65.0L85.1,64.5L85.6,64.0L86.1,63.4L86.6,62.9L87.1,62.3L87.6,61.7L88.1,61.1L88.6,60.5L89.1,59.9L89.6,59.3L90.1,58.7L90.6,58.0L91.1,57.4L91.6,56.8L92.1,56.2L92.6,55.6L93.1,55.0L93.6,54.4L94.1,53.8L94.6,53.3L95.1,52.8L95.6,52.3L96.1,51.9L96.6,51.5L97.1,51.2L97.6,51.0L98.1,50.8L98.6,50.6L99.1,50.5L99.6,50.5L100.1,50.5L100.6,50.7L101.1,50.8L101.6,51.1L102.1,51.3L102.6,51.7L103.1,52.1L103.6,52.5L104.1,53.0L104.6,53.5L105.1,54.0L105.6,54.6L106.1,55.2L106.6,55.8L107.1,56.4L107.6,57.0L108.1,57.7L108.6,58.3L109.1,58.9L109.6,59.6L110.1,60.2L110.6,60.8L111.1,61.4L111.6,62.0L112.1,62.5L112.6,63.1L113.1,63.6L113.6,64.2L114.1,64.7L114.6,65.2L115.1,65.7L115.6,66.1L116.1,66.6L116.6,67.0L117.1,67.4L117.6,67.8L118.1,68.2L118.6,68.6L119.1,68.9L119.6,69.3L120.1,69.6L120.6,69.9L121.1,70.2L121.6,70.5L122.1,70.7L122.6,71.0L123.1,71.2L123.6,71.5L124.1,71.7L124.6,71.9L125.1,72.1L125.6,72.3L126.1,72.4L126.6,72.6L127.1,72.7L127.6,72.9L128.1,73.0L128.6,73.2L129.1,73.3L129.6,73.4L130.1,73.5L130.6,73.6L131.1,73.7L131.6,73.8L132.1,73.9L132.6,74.0L133.1,74.1L133.6,74.2L134.1,74.2L134.6,74.3L135.1,74.4L135.6,74.5L136.1,74.5L136.6,74.6L137.1,74.6L137.6,74.7L138.1,74.7L138.6,74.8L139.1,74.8L139.6,74.9L140.1,74.9L140.6,75.0L141.1,75.0L141.6,75.1L142.1,75.1L142.6,75.1L143.1,75.2L143.6,75.2L144.1,75.2L144.6,75.3L145.1,75.3L145.6,75.3L146.1,75.4L146.6,75.4L147.1,75.4L147.6,75.4L148.1,75.5L148.6,75.5L149.1,75.5L149.6,75.5L150.1,75.6L150.6,75.6L151.1,75.6L151.6,75.6L152.1,75.6L152.6,75.7L153.1,75.7L153.6,75.7L154.1,75.7L154.6,75.7L155.1,75.8L155.6,75.8L156.1,75.8L156.6,75.8L157.1,75.8L157.6,75.8L158.1,75.9L158.6,75.9L159.1,75.9L159.6,75.9L160.1,75.9L160.6,75.9L161.1,75.9L161.6,76.0L162.1,76.0L162.6,76.0L163.1,76.0L163.6,76.0L164.1,76.0L164.6,76.0L165.1,76.0L165.6,76.1L166.1,76.1L166.6,76.1L167.1,76.1L167.6,76.1L168.1,76.1L168.6,76.1L169.1,76.1L169.6,76.1L170.1,76.1L170.6,76.2L171.1,76.2L171.6,76.2L172.1,76.2L172.6,76.2L173.1,76.2L173.6,76.2L174.1,76.2L174.6,76.2L175.1,76.2L175.6,76.2L176.1,76.2L176.6,76.2L177.1,76.3L177.6,76.3L178.1,76.3L178.6,76.3L179.1,76.3L179.6,76.3L180.1,76.3L180.6,76.3L181.1,76.3L181.6,76.3L182.1,76.3L182.6,76.3L183.1,76.3L183.6,76.3L184.1,76.3L184.6,76.3L185.1,76.3L185.6,76.4L186.1,76.4L186.6,76.4L187.1,76.4L187.6,76.4L188.1,76.4L188.6,76.4L189.1,76.4L189.6,76.4L190.1,76.4L190.6,76.4L191.1,76.4L191.6,76.4L192.1,76.4L192.6,76.4L193.1,76.4L193.6,76.4L194.1,76.4L194.6,76.4L195.1,76.4L195.6,76.4L196.1,76.4L196.6,76.4L197.1,76.4L197.6,76.5L198.1,76.5L198.6,76.5" fill="none" stroke="#000" stroke-width="2.0" stroke-linejoin="round"/>
<path d="M27.1,77.0L27.6,77.0L28.1,76.9L28.6,76.9L29.1,76.9L29.6,76.9L30.1,76.9L30.6,76.9L31.1,76.9L31.6,76.9L32.1,76.9L32.6,76.9L33.1,76.9L33.6,76.9L34.1,76.9L34.6,76.9L35.1,76.9L35.6,76.9L36.1,76.9L36.6,76.9L37.1,76.9L37.6,76.9L38.1,76.9L38.6,76.9L39.1,76.9L39.6,76.9L40.1,76.9L40.6,76.9L41.1,76.9L41.6,76.9L42.1,76.9L42.6,76.9L43.1,76.9L43.6,76.9L44.1,76.9L44.6,76.9L45.1,76.8L45.6,76.8L46.1,76.8L46.6,76.8L47.1,76.8L47.6,76.8L48.1,76.8L48.6,76.8L49.1,76.8L49.6,76.8L50.1,76.8L50.6,76.8L51.1,76.8L51.6,76.8L52.1,76.8L52.6,76.8L53.1,76.8L53.6,76.8L54.1,76.7L54.6,76.7L55.1,76.7L55.6,76.7L56.1,76.7L56.6,76.7L57.1,76.7L57.6,76.7L58.1,76.7L58.6,76.7L59.1,76.7L59.6,76.6L60.1,76.6L60.6,76.6L61.1,76.6L61.6,76.6L62.1,76.6L62.6,76.6L63.1,76.5L63.6,76.5L64.1,76.5L64.6,76.5L65.1,76.5L65.6,76.5L66.1,76.4L66.6,76.4L67.1,76.4L67.6,76.4L68.1,76.4L68.6,76.3L69.1,76.3L69.6,76.3L70.1,76.2L70.6,76.2L71.1,76.2L71.6,76.2L72.1,76.1L72.6,76.1L73.1,76.1L73.6,76.0L74.1,76.0L74.6,75.9L75.1,75.9L75.6,75.9L76.1,75.8L76.6,75.8L77.1,75.7L77.6,75.7L78.1,75.6L78.6,75.6L79.1,75.5L79.6,75.5L80.1,75.4L80.6,75.3L81.1,75.3L81.6,75.2L82.1,75.2L82.6,75.1L83.1,75.0L83.6,75.0L84.1,74.9L84.6,74.8L85.1,74.7L85.6,74.7L86.1,74.6L86.6,74.5L87.1,74.4L87.6,74.4L88.1,74.3L88.6,74.2L89.1,74.1L89.6,74.1L90.1,74.0L90.6,73.9L91.1,73.8L91.6,73.8L92.1,73.7L92.6,73.6L93.1,73.6L93.6,73.5L94.1,73.4L94.6,73.4L95.1,73.3L95.6,73.3L96.1,73.2L96.6,73.2L97.1,73.2L97.6,73.1L98.1,73.1L98.6,73.1L99.1,73.1L99.6,73.1L100.1,73.1L100.6,73.1L101.1,73.1L101.6,73.2L102.1,73.2L102.6,73.2L103.1,73.3L103.6,73.3L104.1,73.4L104.6,73.4L105.1,73.5L105.6,73.5L106.1,73.6L106.6,73.7L107.1,73.7L107.6,73.8L108.1,73.9L108.6,73.9L109.1,74.0L109.6,74.1L110.1,74.2L110.6,74.2L111.1,74.3L111.6,74.4L112.1,74.5L112.6,74.5L113.1,74.6L113.6,74.7L114.1,74.8L114.6,74.8L115.1,74.9L115.6,75.0L116.1,75.0L116.6,75.1L117.1,75.2L117.6,75.2L118.1,75.3L118.6,75.4L119.1,75.4L119.6,75.5L120.1,75.5L120.6,75.6L121.1,75.6L121.6,75.7L122.1,75.7L122.6,75.8L123.1,75.8L123.6,75.9L124.1,75.9L124.6,76.0L125.1,76.0L125.6,76.0L126.1,76.1L126.6,76.1L127.1,76.1L127.6,76.2L128.1,76.2L128.6,76.2L129.1,76.3L129.6,76.3L130.1,76.3L130.6,76.3L131.1,76.4L131.6,76.4L132.1,76.4L132.6,76.4L133.1,76.4L133.6,76.5L134.1,76.5L134.6,76.5L135.1,76.5L135.6,76.5L136.1,76.6L136.6,76.6L137.1,76.6L137.6,76.6L138.1,76.6L138.6,76.6L139.1,76.6L139.6,76.6L140.1,76.7L140.6,76.7L141.1,76.7L141.6,76.7L142.1,76.7L142.6,76.7L143.1,76.7L143.6,76.7L144.1,76.7L144.6,76.7L145.1,76.8L145.6,76.8L146.1,76.8L146.6,76.8L147.1,76.8L147.6,76.8L148.1,76.8L148.6,76.8L149.1,76.8L149.6,76.8L150.1,76.8L150.6,76.8L151.1,76.8L151.6,76.8L152.1,76.8L152.6,76.8L153.1,76.8L153.6,76.8L154.1,76.9L154.6,76.9L155.1,76.9L155.6,76.9L156.1,76.9L156.6,76.9L157.1,76.9L157.6,76.9L158.1,76.9L158.6,76.9L159.1,76.9L159.6,76.9L160.1,76.9L160.6,76.9L161.1,76.9L161.6,76.9L162.1,76.9L162.6,76.9L163.1,76.9L163.6,76.9L164.1,76.9L164.6,76.9L165.1,76.9L165.6,76.9L166.1,76.9L166.6,76.9L167.1,76.9L167.6,76.9L168.1,76.9L168.6,76.9L169.1,76.9L169.6,76.9L170.1,76.9L170.6,76.9L171.1,77.0L171.6,77.0L172.1,77.0L172.6,77.0L173.1,77.0L173.6,77.0L174.1,77.0L174.6,77.0L175.1,77.0L175.6,77.0L176.1,77.0L176.6,77.0L177.1,77.0L177.6,77.0L178.1,77.0L178.6,77.0L179.1,77.0L179.6,77.0L180.1,77.0L180.6,77.0L181.1,77.0L181.6,77.0L182.1,77.0L182.6,77.0L183.1,77.0L183.6,77.0L184.1,77.0L184.6,77.0L185.1,77.0L185.6,77.0L186.1,77.0L186.6,77.0L187.1,77.0L187.6,77.0L188.1,77.0L188.6,77.0L189.1,77.0L189.6,77.0L190.1,77.0L190.6,77.0L191.1,77.0L191.6,77.0L192.1,77.0L192.6,77.0L193.1,77.0L193.6,77.0L194.1,77.0L194.6,77.0L195.1,77.0L195.6,77.0L196.1,77.0L196.6,77.0L197.1,77.0L197.6,77.0L198.1,77.0L198.6,77.0" fill="none" stroke="#f40000" stroke-width="2.1" stroke-linejoin="round"/>
<path d="M27.1,114.1L27.6,112.8L28.1,114.6L28.6,111.4L29.1,113.9L29.6,114.2L30.1,113.2L30.6,112.9L31.1,113.5L31.6,112.3L32.1,112.9L32.6,114.6L33.1,108.4L33.6,115.4L34.1,114.1L34.6,113.7L35.1,111.6L35.6,112.6L36.1,112.3L36.6,114.5L37.1,114.4L37.6,115.3L38.1,113.4L38.6,109.8L39.1,111.6L39.6,112.7L40.1,113.8L40.6,110.7L41.1,112.4L41.6,113.4L42.1,112.2L42.6,112.9L43.1,117.2L43.6,113.2L44.1,114.3L44.6,113.7L45.1,112.0L45.6,114.2L46.1,112.5L46.6,109.7L47.1,109.4L47.6,113.8L48.1,112.2L48.6,115.2L49.1,113.4L49.6,112.6L50.1,112.7L50.6,111.4L51.1,112.6L51.6,111.9L52.1,116.5L52.6,113.0L53.1,110.8L53.6,115.8L54.1,113.9L54.6,111.0L55.1,114.1L55.6,114.9L56.1,114.2L56.6,114.1L57.1,113.5L57.6,112.4L58.1,112.5L58.6,112.1L59.1,113.5L59.6,115.5L60.1,111.5L60.6,112.1L61.1,111.5L61.6,113.1L62.1,115.0L62.6,112.6L63.1,113.7L63.6,109.1L64.1,112.9L64.6,114.1L65.1,112.1L65.6,110.3L66.1,114.0L66.6,113.0L67.1,115.7L67.6,112.1L68.1,112.9L68.6,112.5L69.1,113.4L69.6,109.9L70.1,115.7L70.6,114.4L71.1,112.8L71.6,112.5L72.1,114.2L72.6,113.9L73.1,112.4L73.6,112.9L74.1,113.9L74.6,112.4L75.1,112.6L75.6,112.4L76.1,112.5L76.6,110.7L77.1,111.3L77.6,113.9L78.1,114.6L78.6,113.1L79.1,105.9L79.6,110.2L80.1,114.0L80.6,116.7L81.1,115.7L81.6,112.8L82.1,112.4L82.6,112.3L83.1,117.0L83.6,113.7L84.1,99.6L84.6,103.4L85.1,102.6L85.6,95.5L86.1,98.2L86.6,102.0L87.1,97.1L87.6,95.0L88.1,97.5L88.6,99.1L89.1,97.3L89.6,93.2L90.1,94.8L90.6,96.5L91.1,95.5L91.6,91.3L92.1,99.6L92.6,93.4L93.1,88.2L93.6,91.0L94.1,81.2L94.6,89.3L95.1,90.8L95.6,97.6L96.1,91.0L96.6,91.3L97.1,92.3L97.6,90.6L98.1,88.1L98.6,93.9L99.1,91.4L99.6,94.4L100.1,92.9L100.6,87.2L101.1,88.7L101.6,89.0L102.1,89.3L102.6,91.9L103.1,90.3L103.6,88.8L104.1,91.9L104.6,95.5L105.1,92.2L105.6,89.6L106.1,91.2L106.6,91.3L107.1,91.4L107.6,91.7L108.1,93.1L108.6,95.9L109.1,96.6L109.6,93.7L110.1,97.2L110.6,101.7L111.1,97.9L111.6,96.8L112.1,104.4L112.6,99.2L113.1,97.4L113.6,101.1L114.1,97.9L114.6,99.0L115.1,102.3L115.6,99.1L116.1,97.5L116.6,102.4L117.1,102.9L117.6,98.6L118.1,100.9L118.6,104.1L119.1,102.6L119.6,104.0L120.1,102.4L120.6,101.6L121.1,102.1L121.6,102.8L122.1,104.0L122.6,98.8L123.1,98.6L123.6,105.6L124.1,106.1L124.6,103.9L125.1,105.4L125.6,103.7L126.1,103.4L126.6,106.6L127.1,106.4L127.6,105.9L128.1,104.7L128.6,107.5L129.1,107.5L129.6,107.4L130.1,107.9L130.6,107.7L131.1,109.5L131.6,109.5L132.1,112.1L132.6,111.6L133.1,109.2L133.6,107.3L134.1,110.8L134.6,108.7L135.1,112.6L135.6,107.5L136.1,109.4L136.6,113.0L137.1,110.4L137.6,111.8L138.1,111.7L138.6,109.8L139.1,112.2L139.6,109.3L140.1,110.3L140.6,114.6L141.1,110.7L141.6,111.7L142.1,109.3L142.6,113.5L143.1,109.7L143.6,110.0L144.1,110.3L144.6,109.8L145.1,109.0L145.6,110.9L146.1,110.6L146.6,111.3L147.1,109.9L147.6,110.0L148.1,111.0L148.6,111.6L149.1,110.1L149.6,111.6L150.1,111.3L150.6,113.5L151.1,112.8L151.6,112.6L152.1,113.5L152.6,110.7L153.1,114.1L153.6,112.1L154.1,111.0L154.6,112.5L155.1,110.1L155.6,114.9L156.1,112.3L156.6,109.4L157.1,107.7L157.6,111.1L158.1,111.1L158.6,112.7L159.1,113.5L159.6,111.4L160.1,112.9L160.6,110.5L161.1,113.9L161.6,114.1L162.1,108.9L162.6,111.2L163.1,111.5L163.6,110.8L164.1,113.9L164.6,112.9L165.1,112.3L165.6,110.2L166.1,108.8L166.6,110.6L167.1,111.9L167.6,110.7L168.1,108.7L168.6,109.7L169.1,111.5L169.6,112.8L170.1,111.4L170.6,111.9L171.1,112.1L171.6,112.1L172.1,114.2L172.6,111.0L173.1,112.6L173.6,110.1L174.1,114.2L174.6,113.5L175.1,113.9L175.6,112.5L176.1,112.1L176.6,110.2L177.1,112.9L177.6,114.6L178.1,107.8L178.6,115.3L179.1,111.0L179.6,113.2L180.1,111.0L180.6,112.1L181.1,113.7L181.6,112.1L182.1,115.4L182.6,112.5L183.1,110.0L183.6,111.4L184.1,111.6L184.6,111.8L185.1,113.3L185.6,115.2L186.1,112.5L186.6,110.3L187.1,110.7L187.6,110.2L188.1,113.3L188.6,112.5L189.1,110.7L189.6,111.9L190.1,114.0L190.6,113.3L191.1,111.6L191.6,113.8L192.1,113.2L192.6,111.6L193.1,108.7L193.6,115.6L194.1,110.7L194.6,114.2L195.1,112.3L195.6,113.6L196.1,113.2L196.6,113.0L197.1,112.3L197.6,112.6L198.1,113.7L198.6,113.3" fill="none" stroke="#6e6e6e" stroke-width="0.6"/>
<path d="M27.1,115.2L27.6,115.0L28.1,113.9L28.6,109.0L29.1,116.3L29.6,113.1L30.1,114.2L30.6,116.8L31.1,115.6L31.6,113.1L32.1,115.2L32.6,114.3L33.1,112.2L33.6,113.5L34.1,110.0L34.6,110.4L35.1,113.6L35.6,115.8L36.1,111.4L36.6,115.4L37.1,113.5L37.6,116.5L38.1,107.3L38.6,118.7L39.1,114.1L39.6,112.8L40.1,113.7L40.6,109.9L41.1,113.9L41.6,112.7L42.1,114.2L42.6,112.7L43.1,108.3L43.6,108.5L44.1,112.0L44.6,110.9L45.1,114.8L45.6,111.2L46.1,114.0L46.6,112.9L47.1,116.1L47.6,113.4L48.1,113.6L48.6,111.4L49.1,113.9L49.6,114.4L50.1,113.0L50.6,114.5L51.1,111.3L51.6,112.8L52.1,114.0L52.6,112.6L53.1,115.5L53.6,114.4L54.1,112.1L54.6,111.5L55.1,113.2L55.6,111.9L56.1,112.5L56.6,111.1L57.1,114.6L57.6,113.5L58.1,108.3L58.6,114.7L59.1,109.0L59.6,114.3L60.1,112.8L60.6,114.5L61.1,114.1L61.6,114.2L62.1,115.6L62.6,109.8L63.1,111.3L63.6,115.4L64.1,115.9L64.6,108.6L65.1,115.3L65.6,114.8L66.1,110.7L66.6,112.1L67.1,113.8L67.6,113.1L68.1,116.5L68.6,114.3L69.1,114.9L69.6,112.0L70.1,111.0L70.6,112.1L71.1,115.8L71.6,116.6L72.1,111.7L72.6,113.0L73.1,108.6L73.6,115.6L74.1,110.9L74.6,111.0L75.1,115.6L75.6,111.7L76.1,109.0L76.6,114.5L77.1,115.7L77.6,112.2L78.1,111.3L78.6,109.5L79.1,115.5L79.6,111.2L80.1,111.8L80.6,115.3L81.1,113.6L81.6,111.7L82.1,107.8L82.6,114.1L83.1,115.1L83.6,113.7L84.1,111.6L84.6,108.5L85.1,112.5L85.6,112.4L86.1,111.8L86.6,111.4L87.1,111.5L87.6,113.0L88.1,110.5L88.6,108.9L89.1,112.7L89.6,110.3L90.1,110.4L90.6,111.7L91.1,110.4L91.6,110.7L92.1,108.7L92.6,113.1L93.1,108.2L93.6,113.0L94.1,108.3L94.6,109.2L95.1,109.7L95.6,112.1L96.1,110.8L96.6,109.6L97.1,108.1L97.6,112.2L98.1,110.5L98.6,111.2L99.1,110.0L99.6,109.5L100.1,111.6L100.6,110.9L101.1,112.5L101.6,110.8L102.1,107.9L102.6,111.9L103.1,110.6L103.6,110.1L104.1,104.9L104.6,109.1L105.1,111.0L105.6,109.6L106.1,108.5L106.6,111.9L107.1,110.8L107.6,109.2L108.1,111.8L108.6,111.7L109.1,110.6L109.6,107.7L110.1,108.9L110.6,112.7L111.1,110.8L111.6,108.1L112.1,111.1L112.6,111.5L113.1,112.7L113.6,112.3L114.1,112.3L114.6,110.2L115.1,108.6L115.6,110.6L116.1,114.3L116.6,108.9L117.1,113.5L117.6,109.2L118.1,109.6L118.6,112.2L119.1,110.5L119.6,111.6L120.1,110.0L120.6,112.4L121.1,113.7L121.6,109.5L122.1,113.2L122.6,112.9L123.1,113.7L123.6,108.1L124.1,114.0L124.6,110.2L125.1,111.9L125.6,111.6L126.1,110.6L126.6,110.9L127.1,111.1L127.6,112.8L128.1,113.7L128.6,112.0L129.1,114.0L129.6,112.8L130.1,114.7L130.6,110.2L131.1,112.9L131.6,112.6L132.1,112.9L132.6,113.3L133.1,114.2L133.6,113.0L134.1,113.7L134.6,112.2L135.1,112.5L135.6,111.6L136.1,114.7L136.6,114.2L137.1,115.1L137.6,111.9L138.1,112.5L138.6,117.3L139.1,114.8L139.6,110.2L140.1,114.2L140.6,113.5L141.1,112.2L141.6,110.9L142.1,111.3L142.6,111.9L143.1,111.4L143.6,110.7L144.1,112.2L144.6,111.3L145.1,114.2L145.6,114.8L146.1,112.6L146.6,112.3L147.1,114.1L147.6,112.7L148.1,116.6L148.6,108.1L149.1,108.6L149.6,110.9L150.1,113.8L150.6,114.3L151.1,112.1L151.6,113.0L152.1,112.4L152.6,113.8L153.1,116.6L153.6,108.8L154.1,117.0L154.6,109.1L155.1,112.4L155.6,113.9L156.1,112.9L156.6,113.9L157.1,113.9L157.6,114.4L158.1,111.2L158.6,114.1L159.1,111.8L159.6,108.2L160.1,114.5L160.6,112.2L161.1,113.6L161.6,113.6L162.1,113.2L162.6,110.8L163.1,113.9L163.6,113.4L164.1,117.1L164.6,111.1L165.1,115.0L165.6,112.3L166.1,112.5L166.6,116.2L167.1,107.3L167.6,114.5L168.1,113.3L168.6,111.4L169.1,112.7L169.6,112.7L170.1,112.7L170.6,116.5L171.1,113.9L171.6,109.9L172.1,116.5L172.6,113.8L173.1,114.7L173.6,116.0L174.1,111.6L174.6,113.7L175.1,112.8L175.6,112.5L176.1,108.5L176.6,113.3L177.1,115.2L177.6,114.5L178.1,113.6L178.6,115.3L179.1,108.9L179.6,113.2L180.1,113.8L180.6,113.7L181.1,115.7L181.6,111.9L182.1,115.6L182.6,112.8L183.1,114.4L183.6,113.3L184.1,112.7L184.6,114.1L185.1,114.2L185.6,111.5L186.1,114.9L186.6,112.7L187.1,113.3L187.6,108.2L188.1,113.1L188.6,108.8L189.1,114.7L189.6,112.7L190.1,108.3L190.6,112.8L191.1,110.7L191.6,113.2L192.1,110.9L192.6,112.8L193.1,114.7L193.6,115.5L194.1,115.8L194.6,110.1L195.1,111.4L195.6,115.0L196.1,116.0L196.6,111.6L197.1,115.6L197.6,109.0L198.1,108.3L198.6,113.3" fill="none" stroke="#f39428" stroke-width="0.7"/>
<path d="M27.1,112.3L27.6,112.3L28.1,112.3L28.6,112.3L29.1,112.3L29.6,112.3L30.1,112.2L30.6,112.2L31.1,112.2L31.6,112.2L32.1,112.2L32.6,112.2L33.1,112.2L33.6,112.2L34.1,112.2L34.6,112.2L35.1,112.1L35.6,112.1L36.1,112.1L36.6,112.1L37.1,112.1L37.6,112.1L38.1,112.1L38.6,112.1L39.1,112.0L39.6,112.0L40.1,112.0L40.6,112.0L41.1,112.0L41.6,112.0L42.1,112.0L42.6,111.9L43.1,111.9L43.6,111.9L44.1,111.9L44.6,111.9L45.1,111.9L45.6,111.8L46.1,111.8L46.6,111.8L47.1,111.8L47.6,111.8L48.1,111.7L48.6,111.7L49.1,111.7L49.6,111.7L50.1,111.6L50.6,111.6L51.1,111.6L51.6,111.6L52.1,111.5L52.6,111.5L53.1,111.5L53.6,111.5L54.1,111.4L54.6,111.4L55.1,111.4L55.6,111.3L56.1,111.3L56.6,111.3L57.1,111.2L57.6,111.2L58.1,111.2L58.6,111.1L59.1,111.1L59.6,111.0L60.1,111.0L60.6,110.9L61.1,110.9L61.6,110.8L62.1,110.8L62.6,110.7L63.1,110.7L63.6,110.6L64.1,110.5L64.6,110.5L65.1,110.4L65.6,110.3L66.1,110.2L66.6,110.1L67.1,110.1L67.6,110.0L68.1,109.9L68.6,109.8L69.1,109.7L69.6,109.5L70.1,109.4L70.6,109.3L71.1,109.1L71.6,109.0L72.1,108.9L72.6,108.7L73.1,108.5L73.6,108.4L74.1,108.2L74.6,108.0L75.1,107.8L75.6,107.5L76.1,107.3L76.6,107.1L77.1,106.8L77.6,106.5L78.1,106.3L78.6,106.0L79.1,105.7L79.6,105.3L80.1,105.0L80.6,104.6L81.1,104.3L81.6,103.9L82.1,103.5L82.6,103.1L83.1,102.6L83.6,102.2L84.1,101.7L84.6,101.2L85.1,100.8L85.6,100.2L86.1,99.7L86.6,99.2L87.1,98.6L87.6,98.1L88.1,97.5L88.6,96.9L89.1,96.3L89.6,95.7L90.1,95.1L90.6,94.5L91.1,94.0L91.6,93.4L92.1,92.8L92.6,92.2L93.1,91.7L93.6,91.1L94.1,90.6L94.6,90.2L95.1,89.7L95.6,89.3L96.1,89.0L96.6,88.7L97.1,88.4L97.6,88.2L98.1,88.1L98.6,88.0L99.1,88.0L99.6,88.0L100.1,88.1L100.6,88.3L101.1,88.5L101.6,88.8L102.1,89.1L102.6,89.5L103.1,89.9L103.6,90.4L104.1,90.8L104.6,91.4L105.1,91.9L105.6,92.4L106.1,93.0L106.6,93.6L107.1,94.2L107.6,94.8L108.1,95.4L108.6,96.0L109.1,96.6L109.6,97.2L110.1,97.7L110.6,98.3L111.1,98.9L111.6,99.4L112.1,99.9L112.6,100.5L113.1,101.0L113.6,101.4L114.1,101.9L114.6,102.4L115.1,102.8L115.6,103.2L116.1,103.6L116.6,104.0L117.1,104.4L117.6,104.8L118.1,105.1L118.6,105.5L119.1,105.8L119.6,106.1L120.1,106.4L120.6,106.7L121.1,106.9L121.6,107.2L122.1,107.4L122.6,107.6L123.1,107.8L123.6,108.0L124.1,108.2L124.6,108.4L125.1,108.6L125.6,108.8L126.1,108.9L126.6,109.1L127.1,109.2L127.6,109.3L128.1,109.5L128.6,109.6L129.1,109.7L129.6,109.8L130.1,109.9L130.6,110.0L131.1,110.1L131.6,110.2L132.1,110.3L132.6,110.3L133.1,110.4L133.6,110.5L134.1,110.6L134.6,110.6L135.1,110.7L135.6,110.7L136.1,110.8L136.6,110.8L137.1,110.9L137.6,110.9L138.1,111.0L138.6,111.0L139.1,111.1L139.6,111.1L140.1,111.2L140.6,111.2L141.1,111.2L141.6,111.3L142.1,111.3L142.6,111.3L143.1,111.4L143.6,111.4L144.1,111.4L144.6,111.5L145.1,111.5L145.6,111.5L146.1,111.6L146.6,111.6L147.1,111.6L147.6,111.6L148.1,111.7L148.6,111.7L149.1,111.7L149.6,111.7L150.1,111.7L150.6,111.8L151.1,111.8L151.6,111.8L152.1,111.8L152.6,111.8L153.1,111.9L153.6,111.9L154.1,111.9L154.6,111.9L155.1,111.9L155.6,111.9L156.1,112.0L156.6,112.0L157.1,112.0L157.6,112.0L158.1,112.0L158.6,112.0L159.1,112.1L159.6,112.1L160.1,112.1L160.6,112.1L161.1,112.1L161.6,112.1L162.1,112.1L162.6,112.1L163.1,112.1L163.6,112.2L164.1,112.2L164.6,112.2L165.1,112.2L165.6,112.2L166.1,112.2L166.6,112.2L167.1,112.2L167.6,112.2L168.1,112.2L168.6,112.3L169.1,112.3L169.6,112.3L170.1,112.3L170.6,112.3L171.1,112.3L171.6,112.3L172.1,112.3L172.6,112.3L173.1,112.3L173.6,112.3L174.1,112.3L174.6,112.4L175.1,112.4L175.6,112.4L176.1,112.4L176.6,112.4L177.1,112.4L177.6,112.4L178.1,112.4L178.6,112.4L179.1,112.4L179.6,112.4L180.1,112.4L180.6,112.4L181.1,112.4L181.6,112.4L182.1,112.4L182.6,112.5L183.1,112.5L183.6,112.5L184.1,112.5L184.6,112.5L185.1,112.5L185.6,112.5L186.1,112.5L186.6,112.5L187.1,112.5L187.6,112.5L188.1,112.5L188.6,112.5L189.1,112.5L189.6,112.5L190.1,112.5L190.6,112.5L191.1,112.5L191.6,112.5L192.1,112.5L192.6,112.5L193.1,112.5L193.6,112.5L194.1,112.6L194.6,112.6L195.1,112.6L195.6,112.6L196.1,112.6L196.6,112.6L197.1,112.6L197.6,112.6L198.1,112.6L198.6,112.6" fill="none" stroke="#000" stroke-width="2.0" stroke-linejoin="round"/>
<path d="M27.1,113.1L27.6,113.1L28.1,113.1L28.6,113.1L29.1,113.1L29.6,113.1L30.1,113.1L30.6,113.1L31.1,113.1L31.6,113.1L32.1,113.1L32.6,113.1L33.1,113.1L33.6,113.1L34.1,113.1L34.6,113.1L35.1,113.1L35.6,113.1L36.1,113.1L36.6,113.1L37.1,113.1L37.6,113.1L38.1,113.1L38.6,113.1L39.1,113.1L39.6,113.1L40.1,113.0L40.6,113.0L41.1,113.0L41.6,113.0L42.1,113.0L42.6,113.0L43.1,113.0L43.6,113.0L44.1,113.0L44.6,113.0L45.1,113.0L45.6,113.0L46.1,113.0L46.6,113.0L47.1,113.0L47.6,113.0L48.1,113.0L48.6,113.0L49.1,113.0L49.6,113.0L50.1,113.0L50.6,113.0L51.1,113.0L51.6,113.0L52.1,113.0L52.6,113.0L53.1,113.0L53.6,113.0L54.1,112.9L54.6,112.9L55.1,112.9L55.6,112.9L56.1,112.9L56.6,112.9L57.1,112.9L57.6,112.9L58.1,112.9L58.6,112.9L59.1,112.9L59.6,112.9L60.1,112.9L60.6,112.9L61.1,112.8L61.6,112.8L62.1,112.8L62.6,112.8L63.1,112.8L63.6,112.8L64.1,112.8L64.6,112.8L65.1,112.8L65.6,112.7L66.1,112.7L66.6,112.7L67.1,112.7L67.6,112.7L68.1,112.7L68.6,112.6L69.1,112.6L69.6,112.6L70.1,112.6L70.6,112.6L71.1,112.5L71.6,112.5L72.1,112.5L72.6,112.5L73.1,112.4L73.6,112.4L74.1,112.4L74.6,112.4L75.1,112.3L75.6,112.3L76.1,112.3L76.6,112.2L77.1,112.2L77.6,112.2L78.1,112.1L78.6,112.1L79.1,112.0L79.6,112.0L80.1,112.0L80.6,111.9L81.1,111.9L81.6,111.8L82.1,111.8L82.6,111.7L83.1,111.7L83.6,111.6L84.1,111.6L84.6,111.5L85.1,111.5L85.6,111.4L86.1,111.4L86.6,111.3L87.1,111.3L87.6,111.2L88.1,111.2L88.6,111.1L89.1,111.1L89.6,111.0L90.1,111.0L90.6,110.9L91.1,110.9L91.6,110.8L92.1,110.8L92.6,110.7L93.1,110.7L93.6,110.6L94.1,110.6L94.6,110.6L95.1,110.5L95.6,110.5L96.1,110.5L96.6,110.4L97.1,110.4L97.6,110.4L98.1,110.4L98.6,110.4L99.1,110.4L99.6,110.4L100.1,110.4L100.6,110.4L101.1,110.4L101.6,110.5L102.1,110.5L102.6,110.5L103.1,110.5L103.6,110.6L104.1,110.6L104.6,110.7L105.1,110.7L105.6,110.7L106.1,110.8L106.6,110.8L107.1,110.9L107.6,110.9L108.1,111.0L108.6,111.0L109.1,111.1L109.6,111.1L110.1,111.2L110.6,111.3L111.1,111.3L111.6,111.4L112.1,111.4L112.6,111.5L113.1,111.5L113.6,111.6L114.1,111.6L114.6,111.7L115.1,111.7L115.6,111.8L116.1,111.8L116.6,111.9L117.1,111.9L117.6,111.9L118.1,112.0L118.6,112.0L119.1,112.1L119.6,112.1L120.1,112.1L120.6,112.2L121.1,112.2L121.6,112.2L122.1,112.3L122.6,112.3L123.1,112.3L123.6,112.4L124.1,112.4L124.6,112.4L125.1,112.5L125.6,112.5L126.1,112.5L126.6,112.5L127.1,112.5L127.6,112.6L128.1,112.6L128.6,112.6L129.1,112.6L129.6,112.6L130.1,112.7L130.6,112.7L131.1,112.7L131.6,112.7L132.1,112.7L132.6,112.7L133.1,112.8L133.6,112.8L134.1,112.8L134.6,112.8L135.1,112.8L135.6,112.8L136.1,112.8L136.6,112.8L137.1,112.8L137.6,112.9L138.1,112.9L138.6,112.9L139.1,112.9L139.6,112.9L140.1,112.9L140.6,112.9L141.1,112.9L141.6,112.9L142.1,112.9L142.6,112.9L143.1,112.9L143.6,112.9L144.1,112.9L144.6,113.0L145.1,113.0L145.6,113.0L146.1,113.0L146.6,113.0L147.1,113.0L147.6,113.0L148.1,113.0L148.6,113.0L149.1,113.0L149.6,113.0L150.1,113.0L150.6,113.0L151.1,113.0L151.6,113.0L152.1,113.0L152.6,113.0L153.1,113.0L153.6,113.0L154.1,113.0L154.6,113.0L155.1,113.0L155.6,113.0L156.1,113.0L156.6,113.0L157.1,113.0L157.6,113.0L158.1,113.1L158.6,113.1L159.1,113.1L159.6,113.1L160.1,113.1L160.6,113.1L161.1,113.1L161.6,113.1L162.1,113.1L162.6,113.1L163.1,113.1L163.6,113.1L164.1,113.1L164.6,113.1L165.1,113.1L165.6,113.1L166.1,113.1L166.6,113.1L167.1,113.1L167.6,113.1L168.1,113.1L168.6,113.1L169.1,113.1L169.6,113.1L170.1,113.1L170.6,113.1L171.1,113.1L171.6,113.1L172.1,113.1L172.6,113.1L173.1,113.1L173.6,113.1L174.1,113.1L174.6,113.1L175.1,113.1L175.6,113.1L176.1,113.1L176.6,113.1L177.1,113.1L177.6,113.1L178.1,113.1L178.6,113.1L179.1,113.1L179.6,113.1L180.1,113.1L180.6,113.1L181.1,113.1L181.6,113.1L182.1,113.1L182.6,113.1L183.1,113.1L183.6,113.1L184.1,113.1L184.6,113.1L185.1,113.1L185.6,113.1L186.1,113.1L186.6,113.1L187.1,113.1L187.6,113.1L188.1,113.1L188.6,113.1L189.1,113.1L189.6,113.1L190.1,113.1L190.6,113.1L191.1,113.1L191.6,113.1L192.1,113.1L192.6,113.1L193.1,113.1L193.6,113.1L194.1,113.1L194.6,113.1L195.1,113.1L195.6,113.1L196.1,113.1L196.6,113.1L197.1,113.1L197.6,113.1L198.1,113.1L198.6,113.1" fill="none" stroke="#f40000" stroke-width="2.1" stroke-linejoin="round"/>
<path d="M27.1,154.1L27.6,155.3L28.1,153.5L28.6,151.3L29.1,154.3L29.6,153.6L30.1,152.4L30.6,152.3L31.1,149.5L31.6,152.4L32.1,153.1L32.6,154.0L33.1,153.3L33.6,152.1L34.1,152.9L34.6,153.4L35.1,154.1L35.6,153.7L36.1,154.4L36.6,151.0L37.1,153.6L37.6,153.7L38.1,152.2L38.6,153.6L39.1,152.7L39.6,151.9L40.1,151.8L40.6,154.0L41.1,154.1L41.6,154.7L42.1,154.3L42.6,154.0L43.1,152.0L43.6,153.1L44.1,153.0L44.6,155.9L45.1,152.3L45.6,151.8L46.1,152.1L46.6,154.6L47.1,152.6L47.6,154.3L48.1,152.7L48.6,153.5L49.1,151.5L49.6,152.8L50.1,152.0L50.6,153.1L51.1,152.3L51.6,155.2L52.1,151.6L52.6,152.3L53.1,154.8L53.6,155.5L54.1,153.4L54.6,151.8L55.1,151.8L55.6,152.3L56.1,153.3L56.6,155.1L57.1,154.5L57.6,154.6L58.1,152.8L58.6,154.3L59.1,154.4L59.6,153.9L60.1,153.4L60.6,152.9L61.1,154.8L61.6,155.4L62.1,153.1L62.6,153.9L63.1,154.8L63.6,155.4L64.1,155.7L64.6,153.4L65.1,155.1L65.6,151.8L66.1,150.5L66.6,152.8L67.1,153.9L67.6,151.4L68.1,153.2L68.6,153.6L69.1,153.4L69.6,153.8L70.1,154.9L70.6,153.1L71.1,152.8L71.6,154.1L72.1,154.9L72.6,152.8L73.1,155.3L73.6,154.4L74.1,153.0L74.6,153.4L75.1,152.3L75.6,154.4L76.1,153.5L76.6,156.2L77.1,149.7L77.6,151.6L78.1,152.7L78.6,154.2L79.1,152.9L79.6,152.3L80.1,154.0L80.6,152.8L81.1,153.8L81.6,154.8L82.1,154.9L82.6,150.9L83.1,152.2L83.6,154.1L84.1,141.7L84.6,140.3L85.1,142.0L85.6,140.7L86.1,140.8L86.6,141.0L87.1,138.3L87.6,140.2L88.1,138.1L88.6,137.7L89.1,138.6L89.6,133.1L90.1,132.4L90.6,132.8L91.1,136.0L91.6,134.1L92.1,132.2L92.6,130.7L93.1,128.9L93.6,132.4L94.1,131.3L94.6,131.8L95.1,132.5L95.6,130.9L96.1,132.8L96.6,128.9L97.1,132.7L97.6,130.3L98.1,128.1L98.6,129.5L99.1,133.9L99.6,126.4L100.1,127.8L100.6,128.3L101.1,129.7L101.6,129.7L102.1,133.7L102.6,129.6L103.1,131.7L103.6,129.6L104.1,128.7L104.6,131.1L105.1,131.3L105.6,133.6L106.1,135.3L106.6,132.3L107.1,135.8L107.6,132.3L108.1,138.0L108.6,132.5L109.1,134.8L109.6,136.7L110.1,136.1L110.6,135.2L111.1,138.9L111.6,136.5L112.1,140.2L112.6,136.6L113.1,141.2L113.6,141.2L114.1,141.1L114.6,142.3L115.1,140.7L115.6,140.2L116.1,143.5L116.6,140.4L117.1,141.9L117.6,142.3L118.1,142.6L118.6,142.8L119.1,139.9L119.6,143.7L120.1,144.4L120.6,146.0L121.1,145.6L121.6,143.9L122.1,144.6L122.6,144.0L123.1,145.0L123.6,145.0L124.1,147.5L124.6,146.8L125.1,147.4L125.6,146.3L126.1,146.8L126.6,148.0L127.1,146.5L127.6,148.4L128.1,149.1L128.6,147.4L129.1,148.4L129.6,147.5L130.1,150.9L130.6,149.5L131.1,150.6L131.6,149.0L132.1,148.3L132.6,149.5L133.1,151.5L133.6,152.0L134.1,150.7L134.6,148.2L135.1,150.8L135.6,151.8L136.1,149.2L136.6,151.7L137.1,149.7L137.6,151.1L138.1,151.8L138.6,151.3L139.1,151.1L139.6,152.7L140.1,150.6L140.6,150.8L141.1,150.1L141.6,151.5L142.1,152.3L142.6,151.3L143.1,149.1L143.6,152.0L144.1,152.3L144.6,150.1L145.1,151.3L145.6,151.7L146.1,150.7L146.6,152.0L147.1,151.8L147.6,150.3L148.1,148.4L148.6,150.7L149.1,153.6L149.6,153.3L150.1,151.5L150.6,150.6L151.1,153.7L151.6,152.8L152.1,153.5L152.6,154.2L153.1,152.5L153.6,152.1L154.1,151.1L154.6,152.2L155.1,150.9L155.6,153.4L156.1,151.8L156.6,154.1L157.1,151.7L157.6,152.7L158.1,151.2L158.6,153.3L159.1,151.2L159.6,153.8L160.1,152.9L160.6,150.0L161.1,150.6L161.6,152.6L162.1,152.2L162.6,154.7L163.1,151.2L163.6,152.1L164.1,152.3L164.6,152.6L165.1,154.5L165.6,152.3L166.1,150.4L166.6,154.3L167.1,152.9L167.6,150.6L168.1,151.6L168.6,152.1L169.1,152.6L169.6,153.4L170.1,152.2L170.6,151.8L171.1,151.3L171.6,152.3L172.1,152.6L172.6,153.1L173.1,149.9L173.6,151.4L174.1,153.1L174.6,154.6L175.1,153.6L175.6,149.8L176.1,150.2L176.6,153.2L177.1,152.6L177.6,152.7L178.1,155.0L178.6,151.5L179.1,154.1L179.6,152.7L180.1,151.9L180.6,150.1L181.1,151.2L181.6,154.5L182.1,152.7L182.6,153.6L183.1,153.3L183.6,152.0L184.1,153.7L184.6,153.0L185.1,152.4L185.6,152.3L186.1,151.8L186.6,153.0L187.1,152.5L187.6,154.0L188.1,152.3L188.6,151.6L189.1,150.4L189.6,153.6L190.1,155.7L190.6,152.7L191.1,150.0L191.6,153.8L192.1,151.9L192.6,153.6L193.1,153.2L193.6,153.6L194.1,152.9L194.6,152.4L195.1,154.0L195.6,152.4L196.1,154.2L196.6,152.0L197.1,152.9L197.6,151.9L198.1,153.9L198.6,152.0" fill="none" stroke="#6e6e6e" stroke-width="0.6"/>
<path d="M27.1,153.8L27.6,154.3L28.1,155.1L28.6,151.7L29.1,151.0L29.6,150.1L30.1,154.1L30.6,154.5L31.1,155.7L31.6,152.7L32.1,154.6L32.6,150.3L33.1,153.4L33.6,150.6L34.1,152.4L34.6,151.9L35.1,151.5L35.6,153.3L36.1,152.0L36.6,151.9L37.1,152.3L37.6,152.7L38.1,154.0L38.6,152.8L39.1,152.2L39.6,151.2L40.1,151.7L40.6,153.7L41.1,154.1L41.6,152.5L42.1,154.9L42.6,154.0L43.1,156.2L43.6,152.9L44.1,154.4L44.6,155.4L45.1,153.0L45.6,153.3L46.1,152.7L46.6,153.0L47.1,154.4L47.6,153.6L48.1,152.0L48.6,156.5L49.1,152.4L49.6,154.8L50.1,154.2L50.6,154.2L51.1,154.1L51.6,154.4L52.1,154.4L52.6,155.5L53.1,152.5L53.6,151.7L54.1,151.3L54.6,150.8L55.1,154.0L55.6,151.2L56.1,152.0L56.6,153.7L57.1,153.0L57.6,153.5L58.1,149.9L58.6,151.7L59.1,151.4L59.6,153.3L60.1,153.3L60.6,153.8L61.1,154.9L61.6,157.7L62.1,152.7L62.6,154.2L63.1,154.5L63.6,153.2L64.1,152.1L64.6,152.1L65.1,154.5L65.6,154.0L66.1,152.6L66.6,150.5L67.1,148.5L67.6,154.9L68.1,154.9L68.6,152.1L69.1,153.7L69.6,155.0L70.1,155.0L70.6,152.2L71.1,153.1L71.6,153.3L72.1,151.9L72.6,155.6L73.1,151.1L73.6,153.9L74.1,154.7L74.6,153.9L75.1,154.3L75.6,150.5L76.1,153.4L76.6,154.0L77.1,153.7L77.6,151.7L78.1,153.1L78.6,152.3L79.1,155.1L79.6,152.5L80.1,153.2L80.6,153.1L81.1,153.1L81.6,155.5L82.1,155.2L82.6,153.9L83.1,153.0L83.6,152.8L84.1,149.9L84.6,152.3L85.1,152.6L85.6,151.9L86.1,150.9L86.6,150.8L87.1,153.0L87.6,152.2L88.1,154.0L88.6,152.3L89.1,154.2L89.6,151.6L90.1,152.0L90.6,151.0L91.1,152.9L91.6,151.1L92.1,152.2L92.6,151.8L93.1,150.7L93.6,154.4L94.1,153.0L94.6,151.2L95.1,152.6L95.6,151.9L96.1,150.9L96.6,153.8L97.1,152.5L97.6,151.3L98.1,152.1L98.6,149.1L99.1,152.4L99.6,151.7L100.1,151.7L100.6,151.6L101.1,149.5L101.6,151.2L102.1,153.0L102.6,153.5L103.1,151.8L103.6,150.5L104.1,152.9L104.6,150.6L105.1,150.3L105.6,149.9L106.1,149.1L106.6,154.1L107.1,151.8L107.6,148.2L108.1,150.8L108.6,149.7L109.1,149.9L109.6,151.1L110.1,151.0L110.6,152.8L111.1,154.1L111.6,151.1L112.1,152.0L112.6,150.9L113.1,153.3L113.6,152.5L114.1,152.4L114.6,151.2L115.1,154.2L115.6,152.0L116.1,153.9L116.6,154.0L117.1,151.0L117.6,152.2L118.1,152.8L118.6,151.2L119.1,152.4L119.6,153.0L120.1,150.5L120.6,152.2L121.1,153.1L121.6,152.1L122.1,152.0L122.6,150.9L123.1,152.8L123.6,153.0L124.1,152.7L124.6,154.5L125.1,152.8L125.6,152.3L126.1,155.1L126.6,153.8L127.1,154.3L127.6,154.6L128.1,152.3L128.6,151.7L129.1,155.1L129.6,150.6L130.1,152.3L130.6,155.0L131.1,152.2L131.6,154.0L132.1,152.0L132.6,156.1L133.1,153.0L133.6,154.1L134.1,151.4L134.6,154.0L135.1,154.0L135.6,152.5L136.1,154.0L136.6,152.9L137.1,153.7L137.6,152.5L138.1,152.6L138.6,151.6L139.1,153.7L139.6,152.9L140.1,152.3L140.6,155.3L141.1,153.2L141.6,153.0L142.1,152.3L142.6,154.4L143.1,153.4L143.6,152.2L144.1,152.9L144.6,154.0L145.1,153.4L145.6,154.7L146.1,154.6L146.6,156.0L147.1,152.4L147.6,153.2L148.1,153.0L148.6,153.0L149.1,153.4L149.6,152.8L150.1,154.4L150.6,151.7L151.1,153.4L151.6,154.1L152.1,154.6L152.6,153.3L153.1,153.7L153.6,153.4L154.1,153.9L154.6,153.1L155.1,154.2L155.6,155.0L156.1,156.0L156.6,149.7L157.1,154.4L157.6,153.7L158.1,153.9L158.6,152.8L159.1,153.5L159.6,154.0L160.1,153.4L160.6,152.8L161.1,154.9L161.6,153.5L162.1,153.1L162.6,153.4L163.1,153.1L163.6,152.4L164.1,154.0L164.6,153.1L165.1,151.8L165.6,154.6L166.1,152.9L166.6,151.5L167.1,153.2L167.6,152.4L168.1,153.6L168.6,151.8L169.1,152.8L169.6,151.3L170.1,151.6L170.6,153.4L171.1,152.6L171.6,155.2L172.1,152.4L172.6,153.5L173.1,151.7L173.6,155.2L174.1,153.4L174.6,151.4L175.1,153.6L175.6,153.2L176.1,156.0L176.6,154.7L177.1,152.3L177.6,154.2L178.1,153.2L178.6,152.9L179.1,152.9L179.6,153.0L180.1,152.1L180.6,153.7L181.1,152.7L181.6,153.2L182.1,152.9L182.6,152.4L183.1,155.8L183.6,153.7L184.1,154.2L184.6,156.8L185.1,153.3L185.6,152.5L186.1,151.2L186.6,150.4L187.1,154.1L187.6,151.6L188.1,150.8L188.6,153.4L189.1,153.3L189.6,155.5L190.1,151.5L190.6,154.6L191.1,150.4L191.6,155.0L192.1,153.7L192.6,152.2L193.1,154.9L193.6,153.6L194.1,154.1L194.6,153.4L195.1,154.8L195.6,154.2L196.1,152.2L196.6,152.3L197.1,152.3L197.6,154.4L198.1,154.1L198.6,153.7" fill="none" stroke="#f39428" stroke-width="0.7"/>
<path d="M27.1,152.5L27.6,152.5L28.1,152.5L28.6,152.5L29.1,152.5L29.6,152.5L30.1,152.4L30.6,152.4L31.1,152.4L31.6,152.4L32.1,152.4L32.6,152.4L33.1,152.4L33.6,152.4L34.1,152.4L34.6,152.4L35.1,152.3L35.6,152.3L36.1,152.3L36.6,152.3L37.1,152.3L37.6,152.3L38.1,152.3L38.6,152.3L39.1,152.2L39.6,152.2L40.1,152.2L40.6,152.2L41.1,152.2L41.6,152.2L42.1,152.2L42.6,152.1L43.1,152.1L43.6,152.1L44.1,152.1L44.6,152.1L45.1,152.1L45.6,152.0L46.1,152.0L46.6,152.0L47.1,152.0L47.6,152.0L48.1,151.9L48.6,151.9L49.1,151.9L49.6,151.9L50.1,151.8L50.6,151.8L51.1,151.8L51.6,151.8L52.1,151.7L52.6,151.7L53.1,151.7L53.6,151.7L54.1,151.6L54.6,151.6L55.1,151.6L55.6,151.5L56.1,151.5L56.6,151.5L57.1,151.4L57.6,151.4L58.1,151.4L58.6,151.3L59.1,151.3L59.6,151.2L60.1,151.2L60.6,151.1L61.1,151.1L61.6,151.0L62.1,151.0L62.6,150.9L63.1,150.9L63.6,150.8L64.1,150.7L64.6,150.7L65.1,150.6L65.6,150.5L66.1,150.4L66.6,150.4L67.1,150.3L67.6,150.2L68.1,150.1L68.6,150.0L69.1,149.9L69.6,149.8L70.1,149.6L70.6,149.5L71.1,149.4L71.6,149.2L72.1,149.1L72.6,148.9L73.1,148.8L73.6,148.6L74.1,148.4L74.6,148.2L75.1,148.0L75.6,147.8L76.1,147.6L76.6,147.3L77.1,147.1L77.6,146.8L78.1,146.5L78.6,146.2L79.1,145.9L79.6,145.6L80.1,145.3L80.6,144.9L81.1,144.6L81.6,144.2L82.1,143.8L82.6,143.4L83.1,142.9L83.6,142.5L84.1,142.0L84.6,141.5L85.1,141.1L85.6,140.6L86.1,140.0L86.6,139.5L87.1,138.9L87.6,138.4L88.1,137.8L88.6,137.2L89.1,136.6L89.6,136.0L90.1,135.4L90.6,134.8L91.1,134.2L91.6,133.6L92.1,133.1L92.6,132.5L93.1,131.9L93.6,131.4L94.1,130.9L94.6,130.4L95.1,129.9L95.6,129.5L96.1,129.1L96.6,128.8L97.1,128.5L97.6,128.3L98.1,128.1L98.6,128.0L99.1,128.0L99.6,128.0L100.1,128.1L100.6,128.2L101.1,128.4L101.6,128.7L102.1,129.0L102.6,129.4L103.1,129.8L103.6,130.2L104.1,130.7L104.6,131.2L105.1,131.7L105.6,132.3L106.1,132.8L106.6,133.4L107.1,134.0L107.6,134.6L108.1,135.2L108.6,135.8L109.1,136.4L109.6,137.0L110.1,137.6L110.6,138.2L111.1,138.7L111.6,139.3L112.1,139.8L112.6,140.3L113.1,140.9L113.6,141.4L114.1,141.8L114.6,142.3L115.1,142.8L115.6,143.2L116.1,143.6L116.6,144.0L117.1,144.4L117.6,144.8L118.1,145.1L118.6,145.5L119.1,145.8L119.6,146.1L120.1,146.4L120.6,146.7L121.1,147.0L121.6,147.2L122.1,147.5L122.6,147.7L123.1,147.9L123.6,148.1L124.1,148.3L124.6,148.5L125.1,148.7L125.6,148.9L126.1,149.0L126.6,149.2L127.1,149.3L127.6,149.5L128.1,149.6L128.6,149.7L129.1,149.8L129.6,149.9L130.1,150.0L130.6,150.1L131.1,150.2L131.6,150.3L132.1,150.4L132.6,150.5L133.1,150.6L133.6,150.6L134.1,150.7L134.6,150.8L135.1,150.8L135.6,150.9L136.1,151.0L136.6,151.0L137.1,151.1L137.6,151.1L138.1,151.2L138.6,151.2L139.1,151.3L139.6,151.3L140.1,151.3L140.6,151.4L141.1,151.4L141.6,151.5L142.1,151.5L142.6,151.5L143.1,151.6L143.6,151.6L144.1,151.6L144.6,151.6L145.1,151.7L145.6,151.7L146.1,151.7L146.6,151.8L147.1,151.8L147.6,151.8L148.1,151.8L148.6,151.9L149.1,151.9L149.6,151.9L150.1,151.9L150.6,152.0L151.1,152.0L151.6,152.0L152.1,152.0L152.6,152.0L153.1,152.0L153.6,152.1L154.1,152.1L154.6,152.1L155.1,152.1L155.6,152.1L156.1,152.2L156.6,152.2L157.1,152.2L157.6,152.2L158.1,152.2L158.6,152.2L159.1,152.2L159.6,152.3L160.1,152.3L160.6,152.3L161.1,152.3L161.6,152.3L162.1,152.3L162.6,152.3L163.1,152.3L163.6,152.3L164.1,152.4L164.6,152.4L165.1,152.4L165.6,152.4L166.1,152.4L166.6,152.4L167.1,152.4L167.6,152.4L168.1,152.4L168.6,152.5L169.1,152.5L169.6,152.5L170.1,152.5L170.6,152.5L171.1,152.5L171.6,152.5L172.1,152.5L172.6,152.5L173.1,152.5L173.6,152.5L174.1,152.5L174.6,152.5L175.1,152.6L175.6,152.6L176.1,152.6L176.6,152.6L177.1,152.6L177.6,152.6L178.1,152.6L178.6,152.6L179.1,152.6L179.6,152.6L180.1,152.6L180.6,152.6L181.1,152.6L181.6,152.6L182.1,152.6L182.6,152.6L183.1,152.7L183.6,152.7L184.1,152.7L184.6,152.7L185.1,152.7L185.6,152.7L186.1,152.7L186.6,152.7L187.1,152.7L187.6,152.7L188.1,152.7L188.6,152.7L189.1,152.7L189.6,152.7L190.1,152.7L190.6,152.7L191.1,152.7L191.6,152.7L192.1,152.7L192.6,152.7L193.1,152.7L193.6,152.7L194.1,152.7L194.6,152.8L195.1,152.8L195.6,152.8L196.1,152.8L196.6,152.8L197.1,152.8L197.6,152.8L198.1,152.8L198.6,152.8" fill="none" stroke="#000" stroke-width="2.0" stroke-linejoin="round"/>
<path d="M27.1,153.3L27.6,153.3L28.1,153.3L28.6,153.3L29.1,153.3L29.6,153.3L30.1,153.3L30.6,153.3L31.1,153.3L31.6,153.3L32.1,153.3L32.6,153.3L33.1,153.3L33.6,153.3L34.1,153.3L34.6,153.3L35.1,153.3L35.6,153.3L36.1,153.3L36.6,153.3L37.1,153.3L37.6,153.3L38.1,153.3L38.6,153.3L39.1,153.3L39.6,153.3L40.1,153.3L40.6,153.3L41.1,153.3L41.6,153.3L42.1,153.3L42.6,153.3L43.1,153.3L43.6,153.3L44.1,153.3L44.6,153.3L45.1,153.3L45.6,153.3L46.1,153.3L46.6,153.3L47.1,153.3L47.6,153.3L48.1,153.3L48.6,153.3L49.1,153.3L49.6,153.3L50.1,153.2L50.6,153.2L51.1,153.2L51.6,153.2L52.1,153.2L52.6,153.2L53.1,153.2L53.6,153.2L54.1,153.2L54.6,153.2L55.1,153.2L55.6,153.2L56.1,153.2L56.6,153.2L57.1,153.2L57.6,153.2L58.1,153.2L58.6,153.2L59.1,153.2L59.6,153.2L60.1,153.2L60.6,153.2L61.1,153.1L61.6,153.1L62.1,153.1L62.6,153.1L63.1,153.1L63.6,153.1L64.1,153.1L64.6,153.1L65.1,153.1L65.6,153.1L66.1,153.1L66.6,153.1L67.1,153.0L67.6,153.0L68.1,153.0L68.6,153.0L69.1,153.0L69.6,153.0L70.1,153.0L70.6,153.0L71.1,152.9L71.6,152.9L72.1,152.9L72.6,152.9L73.1,152.9L73.6,152.8L74.1,152.8L74.6,152.8L75.1,152.8L75.6,152.8L76.1,152.7L76.6,152.7L77.1,152.7L77.6,152.7L78.1,152.6L78.6,152.6L79.1,152.6L79.6,152.6L80.1,152.5L80.6,152.5L81.1,152.5L81.6,152.4L82.1,152.4L82.6,152.4L83.1,152.3L83.6,152.3L84.1,152.3L84.6,152.2L85.1,152.2L85.6,152.2L86.1,152.1L86.6,152.1L87.1,152.0L87.6,152.0L88.1,152.0L88.6,151.9L89.1,151.9L89.6,151.9L90.1,151.8L90.6,151.8L91.1,151.7L91.6,151.7L92.1,151.7L92.6,151.6L93.1,151.6L93.6,151.6L94.1,151.6L94.6,151.5L95.1,151.5L95.6,151.5L96.1,151.5L96.6,151.4L97.1,151.4L97.6,151.4L98.1,151.4L98.6,151.4L99.1,151.4L99.6,151.4L100.1,151.4L100.6,151.4L101.1,151.4L101.6,151.4L102.1,151.5L102.6,151.5L103.1,151.5L103.6,151.5L104.1,151.5L104.6,151.6L105.1,151.6L105.6,151.6L106.1,151.7L106.6,151.7L107.1,151.7L107.6,151.8L108.1,151.8L108.6,151.8L109.1,151.9L109.6,151.9L110.1,152.0L110.6,152.0L111.1,152.0L111.6,152.1L112.1,152.1L112.6,152.1L113.1,152.2L113.6,152.2L114.1,152.3L114.6,152.3L115.1,152.3L115.6,152.4L116.1,152.4L116.6,152.4L117.1,152.5L117.6,152.5L118.1,152.5L118.6,152.5L119.1,152.6L119.6,152.6L120.1,152.6L120.6,152.7L121.1,152.7L121.6,152.7L122.1,152.7L122.6,152.8L123.1,152.8L123.6,152.8L124.1,152.8L124.6,152.8L125.1,152.9L125.6,152.9L126.1,152.9L126.6,152.9L127.1,152.9L127.6,152.9L128.1,153.0L128.6,153.0L129.1,153.0L129.6,153.0L130.1,153.0L130.6,153.0L131.1,153.0L131.6,153.0L132.1,153.1L132.6,153.1L133.1,153.1L133.6,153.1L134.1,153.1L134.6,153.1L135.1,153.1L135.6,153.1L136.1,153.1L136.6,153.1L137.1,153.1L137.6,153.2L138.1,153.2L138.6,153.2L139.1,153.2L139.6,153.2L140.1,153.2L140.6,153.2L141.1,153.2L141.6,153.2L142.1,153.2L142.6,153.2L143.1,153.2L143.6,153.2L144.1,153.2L144.6,153.2L145.1,153.2L145.6,153.2L146.1,153.2L146.6,153.2L147.1,153.2L147.6,153.2L148.1,153.2L148.6,153.3L149.1,153.3L149.6,153.3L150.1,153.3L150.6,153.3L151.1,153.3L151.6,153.3L152.1,153.3L152.6,153.3L153.1,153.3L153.6,153.3L154.1,153.3L154.6,153.3L155.1,153.3L155.6,153.3L156.1,153.3L156.6,153.3L157.1,153.3L157.6,153.3L158.1,153.3L158.6,153.3L159.1,153.3L159.6,153.3L160.1,153.3L160.6,153.3L161.1,153.3L161.6,153.3L162.1,153.3L162.6,153.3L163.1,153.3L163.6,153.3L164.1,153.3L164.6,153.3L165.1,153.3L165.6,153.3L166.1,153.3L166.6,153.3L167.1,153.3L167.6,153.3L168.1,153.3L168.6,153.3L169.1,153.3L169.6,153.3L170.1,153.3L170.6,153.3L171.1,153.3L171.6,153.3L172.1,153.3L172.6,153.3L173.1,153.3L173.6,153.3L174.1,153.3L174.6,153.3L175.1,153.3L175.6,153.3L176.1,153.3L176.6,153.3L177.1,153.3L177.6,153.3L178.1,153.3L178.6,153.3L179.1,153.3L179.6,153.3L180.1,153.3L180.6,153.3L181.1,153.3L181.6,153.3L182.1,153.3L182.6,153.3L183.1,153.3L183.6,153.3L184.1,153.3L184.6,153.3L185.1,153.3L185.6,153.3L186.1,153.3L186.6,153.3L187.1,153.3L187.6,153.4L188.1,153.4L188.6,153.4L189.1,153.4L189.6,153.4L190.1,153.4L190.6,153.4L191.1,153.4L191.6,153.4L192.1,153.4L192.6,153.4L193.1,153.4L193.6,153.4L194.1,153.4L194.6,153.4L195.1,153.4L195.6,153.4L196.1,153.4L196.6,153.4L197.1,153.4L197.6,153.4L198.1,153.4L198.6,153.4" fill="none" stroke="#f40000" stroke-width="2.1" stroke-linejoin="round"/>
<path d="M27.1,191.8L27.6,192.9L28.1,191.8L28.6,192.1L29.1,191.6L29.6,194.6L30.1,191.8L30.6,190.7L31.1,191.0L31.6,191.8L32.1,191.3L32.6,192.0L33.1,192.3L33.6,190.4L34.1,191.9L34.6,190.9L35.1,191.0L35.6,190.7L36.1,191.5L36.6,190.9L37.1,191.0L37.6,191.4L38.1,190.2L38.6,193.4L39.1,190.9L39.6,191.3L40.1,192.2L40.6,190.7L41.1,191.9L41.6,189.9L42.1,191.7L42.6,191.9L43.1,191.3L43.6,192.7L44.1,190.8L44.6,192.0L45.1,192.5L45.6,192.4L46.1,191.8L46.6,193.8L47.1,192.8L47.6,192.6L48.1,190.9L48.6,191.9L49.1,191.1L49.6,194.3L50.1,192.3L50.6,190.9L51.1,192.9L51.6,193.2L52.1,191.1L52.6,192.0L53.1,194.8L53.6,191.9L54.1,192.2L54.6,193.2L55.1,191.8L55.6,190.3L56.1,190.6L56.6,192.0L57.1,192.8L57.6,190.7L58.1,189.2L58.6,192.5L59.1,191.5L59.6,191.2L60.1,190.7L60.6,193.2L61.1,191.6L61.6,190.1L62.1,190.5L62.6,191.2L63.1,189.9L63.6,191.1L64.1,193.3L64.6,192.9L65.1,193.1L65.6,193.1L66.1,192.0L66.6,192.3L67.1,189.5L67.6,192.8L68.1,192.6L68.6,192.1L69.1,192.1L69.6,189.7L70.1,191.1L70.6,189.6L71.1,191.1L71.6,190.0L72.1,190.9L72.6,193.4L73.1,190.6L73.6,192.3L74.1,192.1L74.6,191.5L75.1,192.6L75.6,192.4L76.1,191.2L76.6,193.8L77.1,191.6L77.6,192.7L78.1,190.2L78.6,190.4L79.1,192.1L79.6,193.1L80.1,189.8L80.6,189.9L81.1,190.5L81.6,191.1L82.1,191.9L82.6,193.6L83.1,191.5L83.6,192.8L84.1,175.9L84.6,174.3L85.1,173.9L85.6,175.1L86.1,171.9L86.6,175.5L87.1,172.9L87.6,171.7L88.1,169.2L88.6,169.5L89.1,171.2L89.6,170.7L90.1,173.0L90.6,168.0L91.1,170.3L91.6,168.5L92.1,164.1L92.6,165.7L93.1,168.5L93.6,167.1L94.1,166.4L94.6,170.1L95.1,167.3L95.6,168.4L96.1,169.5L96.6,167.0L97.1,169.5L97.6,166.3L98.1,165.9L98.6,171.2L99.1,171.9L99.6,171.0L100.1,168.4L100.6,168.9L101.1,168.9L101.6,169.4L102.1,172.0L102.6,171.3L103.1,174.9L103.6,170.3L104.1,172.8L104.6,172.0L105.1,172.4L105.6,178.5L106.1,178.4L106.6,176.9L107.1,177.5L107.6,178.1L108.1,177.6L108.6,172.8L109.1,174.7L109.6,179.6L110.1,175.0L110.6,181.7L111.1,181.1L111.6,178.5L112.1,181.0L112.6,181.8L113.1,180.1L113.6,184.1L114.1,181.2L114.6,180.5L115.1,184.9L115.6,182.6L116.1,183.2L116.6,184.7L117.1,186.3L117.6,183.4L118.1,183.9L118.6,182.1L119.1,184.3L119.6,186.8L120.1,183.7L120.6,183.8L121.1,182.9L121.6,183.7L122.1,183.9L122.6,184.5L123.1,186.6L123.6,183.7L124.1,187.2L124.6,188.5L125.1,188.1L125.6,186.2L126.1,188.5L126.6,186.9L127.1,186.3L127.6,186.1L128.1,186.1L128.6,187.7L129.1,189.1L129.6,186.1L130.1,186.0L130.6,190.2L131.1,187.6L131.6,191.7L132.1,189.5L132.6,187.3L133.1,190.3L133.6,190.5L134.1,187.1L134.6,189.1L135.1,191.2L135.6,187.6L136.1,190.1L136.6,190.0L137.1,192.1L137.6,191.4L138.1,189.3L138.6,188.0L139.1,189.4L139.6,190.0L140.1,189.9L140.6,189.4L141.1,188.8L141.6,191.6L142.1,189.6L142.6,189.2L143.1,190.4L143.6,190.3L144.1,190.2L144.6,191.7L145.1,189.0L145.6,190.6L146.1,191.5L146.6,189.7L147.1,190.5L147.6,191.2L148.1,191.0L148.6,190.4L149.1,187.8L149.6,189.3L150.1,189.1L150.6,190.1L151.1,190.1L151.6,189.2L152.1,188.4L152.6,191.3L153.1,189.3L153.6,192.5L154.1,194.0L154.6,191.6L155.1,191.2L155.6,189.9L156.1,189.4L156.6,190.2L157.1,191.9L157.6,190.7L158.1,188.7L158.6,191.7L159.1,190.1L159.6,191.7L160.1,190.8L160.6,189.8L161.1,190.2L161.6,191.7L162.1,190.1L162.6,192.4L163.1,189.8L163.6,192.6L164.1,189.2L164.6,189.5L165.1,191.6L165.6,192.7L166.1,190.5L166.6,191.8L167.1,189.8L167.6,189.7L168.1,190.9L168.6,193.5L169.1,190.6L169.6,187.8L170.1,187.9L170.6,190.8L171.1,191.7L171.6,190.5L172.1,191.1L172.6,190.0L173.1,192.5L173.6,191.6L174.1,189.3L174.6,190.2L175.1,192.4L175.6,190.9L176.1,188.1L176.6,190.5L177.1,190.4L177.6,187.7L178.1,191.5L178.6,192.7L179.1,190.3L179.6,189.9L180.1,190.7L180.6,190.4L181.1,190.9L181.6,191.6L182.1,189.1L182.6,190.6L183.1,193.3L183.6,190.8L184.1,191.1L184.6,191.4L185.1,190.0L185.6,189.3L186.1,194.5L186.6,191.7L187.1,189.8L187.6,190.0L188.1,190.5L188.6,189.9L189.1,190.4L189.6,189.4L190.1,189.8L190.6,192.1L191.1,191.2L191.6,190.7L192.1,192.6L192.6,191.9L193.1,190.6L193.6,189.2L194.1,190.4L194.6,192.6L195.1,189.9L195.6,193.7L196.1,190.8L196.6,189.4L197.1,190.5L197.6,192.8L198.1,190.3L198.6,191.6" fill="none" stroke="#6e6e6e" stroke-width="0.6"/>
<path d="M27.1,192.9L27.6,190.4L28.1,191.1L28.6,192.6L29.1,192.8L29.6,191.3L30.1,195.3L30.6,193.4L31.1,193.7L31.6,192.3L32.1,192.3L32.6,190.6L33.1,191.5L33.6,191.9L34.1,192.7L34.6,191.2L35.1,190.7L35.6,193.3L36.1,192.0L36.6,193.0L37.1,192.0L37.6,191.0L38.1,191.8L38.6,188.7L39.1,193.1L39.6,192.5L40.1,193.3L40.6,191.5L41.1,194.3L41.6,193.4L42.1,189.6L42.6,189.6L43.1,192.1L43.6,190.1L44.1,191.6L44.6,191.6L45.1,191.4L45.6,193.7L46.1,192.5L46.6,192.6L47.1,192.1L47.6,195.6L48.1,193.5L48.6,190.9L49.1,192.5L49.6,190.9L50.1,190.6L50.6,191.7L51.1,190.1L51.6,189.5L52.1,190.3L52.6,192.5L53.1,188.3L53.6,192.6L54.1,189.1L54.6,190.8L55.1,191.1L55.6,192.7L56.1,191.6L56.6,190.6L57.1,191.1L57.6,192.1L58.1,193.2L58.6,192.1L59.1,191.7L59.6,191.5L60.1,193.8L60.6,190.8L61.1,191.2L61.6,192.2L62.1,193.4L62.6,189.6L63.1,193.0L63.6,193.3L64.1,192.1L64.6,187.6L65.1,190.9L65.6,191.6L66.1,192.2L66.6,190.2L67.1,191.5L67.6,192.7L68.1,191.1L68.6,191.4L69.1,191.2L69.6,190.0L70.1,191.3L70.6,191.5L71.1,191.3L71.6,190.8L72.1,190.2L72.6,191.2L73.1,190.7L73.6,192.5L74.1,191.1L74.6,189.8L75.1,192.6L75.6,191.7L76.1,192.0L76.6,192.3L77.1,193.1L77.6,190.6L78.1,192.6L78.6,191.9L79.1,191.9L79.6,191.7L80.1,191.2L80.6,192.1L81.1,191.8L81.6,192.7L82.1,193.7L82.6,190.5L83.1,194.3L83.6,193.2L84.1,189.6L84.6,190.9L85.1,191.0L85.6,192.5L86.1,189.8L86.6,193.1L87.1,189.6L87.6,190.5L88.1,190.1L88.6,189.3L89.1,189.4L89.6,190.1L90.1,190.5L90.6,190.1L91.1,187.4L91.6,187.5L92.1,190.5L92.6,193.2L93.1,192.9L93.6,192.3L94.1,190.3L94.6,191.4L95.1,190.1L95.6,190.2L96.1,191.0L96.6,192.1L97.1,190.2L97.6,190.0L98.1,190.8L98.6,188.9L99.1,191.9L99.6,192.2L100.1,192.4L100.6,191.9L101.1,190.2L101.6,190.6L102.1,189.7L102.6,191.4L103.1,193.8L103.6,189.7L104.1,191.9L104.6,192.8L105.1,189.7L105.6,193.8L106.1,190.2L106.6,191.0L107.1,191.7L107.6,192.3L108.1,192.2L108.6,188.1L109.1,190.4L109.6,188.3L110.1,190.6L110.6,192.9L111.1,190.3L111.6,192.1L112.1,192.2L112.6,191.5L113.1,190.6L113.6,190.7L114.1,191.3L114.6,189.2L115.1,193.2L115.6,190.1L116.1,190.6L116.6,190.7L117.1,191.1L117.6,192.0L118.1,193.0L118.6,191.8L119.1,191.0L119.6,191.0L120.1,192.4L120.6,192.6L121.1,191.7L121.6,192.4L122.1,190.3L122.6,193.3L123.1,192.6L123.6,191.8L124.1,191.2L124.6,192.7L125.1,190.2L125.6,192.6L126.1,192.8L126.6,194.8L127.1,191.5L127.6,193.4L128.1,192.4L128.6,189.6L129.1,190.0L129.6,191.0L130.1,193.2L130.6,193.5L131.1,191.4L131.6,192.2L132.1,192.0L132.6,188.5L133.1,193.1L133.6,193.5L134.1,188.8L134.6,190.5L135.1,191.6L135.6,191.6L136.1,193.1L136.6,191.6L137.1,191.0L137.6,192.6L138.1,190.9L138.6,191.3L139.1,192.0L139.6,192.4L140.1,190.9L140.6,194.2L141.1,192.0L141.6,191.7L142.1,192.7L142.6,190.9L143.1,192.1L143.6,188.6L144.1,189.6L144.6,191.3L145.1,191.1L145.6,188.0L146.1,190.9L146.6,192.5L147.1,193.3L147.6,191.1L148.1,193.1L148.6,192.2L149.1,190.2L149.6,190.0L150.1,191.8L150.6,193.1L151.1,187.9L151.6,189.1L152.1,193.0L152.6,193.2L153.1,191.5L153.6,192.6L154.1,194.4L154.6,190.7L155.1,191.3L155.6,191.3L156.1,193.2L156.6,190.7L157.1,191.4L157.6,193.4L158.1,193.1L158.6,192.0L159.1,190.6L159.6,189.8L160.1,191.1L160.6,193.0L161.1,192.4L161.6,192.7L162.1,191.6L162.6,192.0L163.1,192.3L163.6,191.5L164.1,192.2L164.6,190.6L165.1,190.3L165.6,189.6L166.1,191.6L166.6,192.9L167.1,192.4L167.6,189.2L168.1,192.3L168.6,191.9L169.1,191.6L169.6,192.1L170.1,192.6L170.6,193.6L171.1,193.4L171.6,194.3L172.1,192.5L172.6,191.1L173.1,193.5L173.6,190.3L174.1,192.9L174.6,190.5L175.1,191.1L175.6,193.4L176.1,191.1L176.6,193.2L177.1,192.6L177.6,191.7L178.1,192.8L178.6,192.6L179.1,192.0L179.6,191.0L180.1,192.9L180.6,191.4L181.1,191.8L181.6,192.4L182.1,191.7L182.6,192.2L183.1,192.2L183.6,192.2L184.1,192.0L184.6,193.6L185.1,191.2L185.6,191.3L186.1,190.3L186.6,188.9L187.1,189.2L187.6,192.5L188.1,193.7L188.6,190.0L189.1,190.9L189.6,191.1L190.1,194.3L190.6,191.6L191.1,191.6L191.6,191.8L192.1,192.2L192.6,190.4L193.1,192.3L193.6,190.1L194.1,192.0L194.6,192.7L195.1,192.2L195.6,191.0L196.1,191.5L196.6,192.8L197.1,191.2L197.6,190.1L198.1,191.5L198.6,191.2" fill="none" stroke="#f39428" stroke-width="0.7"/>
<path d="M27.1,190.8L27.6,190.8L28.1,190.8L28.6,190.8L29.1,190.8L29.6,190.8L30.1,190.8L30.6,190.8L31.1,190.7L31.6,190.7L32.1,190.7L32.6,190.7L33.1,190.7L33.6,190.7L34.1,190.7L34.6,190.7L35.1,190.6L35.6,190.6L36.1,190.6L36.6,190.6L37.1,190.6L37.6,190.6L38.1,190.6L38.6,190.5L39.1,190.5L39.6,190.5L40.1,190.5L40.6,190.5L41.1,190.4L41.6,190.4L42.1,190.4L42.6,190.4L43.1,190.4L43.6,190.4L44.1,190.3L44.6,190.3L45.1,190.3L45.6,190.3L46.1,190.2L46.6,190.2L47.1,190.2L47.6,190.2L48.1,190.1L48.6,190.1L49.1,190.1L49.6,190.0L50.1,190.0L50.6,190.0L51.1,190.0L51.6,189.9L52.1,189.9L52.6,189.9L53.1,189.8L53.6,189.8L54.1,189.7L54.6,189.7L55.1,189.6L55.6,189.6L56.1,189.6L56.6,189.5L57.1,189.5L57.6,189.4L58.1,189.3L58.6,189.3L59.1,189.2L59.6,189.2L60.1,189.1L60.6,189.0L61.1,189.0L61.6,188.9L62.1,188.8L62.6,188.7L63.1,188.6L63.6,188.5L64.1,188.4L64.6,188.3L65.1,188.2L65.6,188.1L66.1,188.0L66.6,187.8L67.1,187.7L67.6,187.5L68.1,187.4L68.6,187.2L69.1,187.1L69.6,186.9L70.1,186.7L70.6,186.5L71.1,186.3L71.6,186.0L72.1,185.8L72.6,185.6L73.1,185.3L73.6,185.0L74.1,184.7L74.6,184.4L75.1,184.1L75.6,183.8L76.1,183.5L76.6,183.1L77.1,182.7L77.6,182.3L78.1,181.9L78.6,181.5L79.1,181.1L79.6,180.6L80.1,180.1L80.6,179.7L81.1,179.2L81.6,178.6L82.1,178.1L82.6,177.6L83.1,177.0L83.6,176.4L84.1,175.9L84.6,175.3L85.1,174.7L85.6,174.1L86.1,173.5L86.6,172.9L87.1,172.3L87.6,171.7L88.1,171.2L88.6,170.6L89.1,170.1L89.6,169.5L90.1,169.1L90.6,168.6L91.1,168.2L91.6,167.8L92.1,167.5L92.6,167.2L93.1,166.9L93.6,166.8L94.1,166.7L94.6,166.6L95.1,166.6L95.6,166.7L96.1,166.8L96.6,167.0L97.1,167.2L97.6,167.5L98.1,167.9L98.6,168.3L99.1,168.7L99.6,169.1L100.1,169.6L100.6,170.2L101.1,170.7L101.6,171.3L102.1,171.9L102.6,172.4L103.1,173.0L103.6,173.6L104.1,174.2L104.6,174.8L105.1,175.4L105.6,176.0L106.1,176.6L106.6,177.1L107.1,177.7L107.6,178.2L108.1,178.7L108.6,179.3L109.1,179.8L109.6,180.2L110.1,180.7L110.6,181.2L111.1,181.6L111.6,182.0L112.1,182.4L112.6,182.8L113.1,183.2L113.6,183.5L114.1,183.9L114.6,184.2L115.1,184.5L115.6,184.8L116.1,185.1L116.6,185.4L117.1,185.6L117.6,185.9L118.1,186.1L118.6,186.3L119.1,186.5L119.6,186.7L120.1,186.9L120.6,187.1L121.1,187.3L121.6,187.4L122.1,187.6L122.6,187.7L123.1,187.9L123.6,188.0L124.1,188.1L124.6,188.2L125.1,188.3L125.6,188.4L126.1,188.5L126.6,188.6L127.1,188.7L127.6,188.8L128.1,188.9L128.6,189.0L129.1,189.0L129.6,189.1L130.1,189.2L130.6,189.2L131.1,189.3L131.6,189.4L132.1,189.4L132.6,189.5L133.1,189.5L133.6,189.6L134.1,189.6L134.6,189.7L135.1,189.7L135.6,189.7L136.1,189.8L136.6,189.8L137.1,189.9L137.6,189.9L138.1,189.9L138.6,190.0L139.1,190.0L139.6,190.0L140.1,190.1L140.6,190.1L141.1,190.1L141.6,190.1L142.1,190.2L142.6,190.2L143.1,190.2L143.6,190.2L144.1,190.3L144.6,190.3L145.1,190.3L145.6,190.3L146.1,190.4L146.6,190.4L147.1,190.4L147.6,190.4L148.1,190.4L148.6,190.5L149.1,190.5L149.6,190.5L150.1,190.5L150.6,190.5L151.1,190.5L151.6,190.6L152.1,190.6L152.6,190.6L153.1,190.6L153.6,190.6L154.1,190.6L154.6,190.6L155.1,190.7L155.6,190.7L156.1,190.7L156.6,190.7L157.1,190.7L157.6,190.7L158.1,190.7L158.6,190.7L159.1,190.8L159.6,190.8L160.1,190.8L160.6,190.8L161.1,190.8L161.6,190.8L162.1,190.8L162.6,190.8L163.1,190.8L163.6,190.8L164.1,190.9L164.6,190.9L165.1,190.9L165.6,190.9L166.1,190.9L166.6,190.9L167.1,190.9L167.6,190.9L168.1,190.9L168.6,190.9L169.1,190.9L169.6,190.9L170.1,190.9L170.6,191.0L171.1,191.0L171.6,191.0L172.1,191.0L172.6,191.0L173.1,191.0L173.6,191.0L174.1,191.0L174.6,191.0L175.1,191.0L175.6,191.0L176.1,191.0L176.6,191.0L177.1,191.0L177.6,191.0L178.1,191.0L178.6,191.1L179.1,191.1L179.6,191.1L180.1,191.1L180.6,191.1L181.1,191.1L181.6,191.1L182.1,191.1L182.6,191.1L183.1,191.1L183.6,191.1L184.1,191.1L184.6,191.1L185.1,191.1L185.6,191.1L186.1,191.1L186.6,191.1L187.1,191.1L187.6,191.1L188.1,191.1L188.6,191.1L189.1,191.1L189.6,191.1L190.1,191.2L190.6,191.2L191.1,191.2L191.6,191.2L192.1,191.2L192.6,191.2L193.1,191.2L193.6,191.2L194.1,191.2L194.6,191.2L195.1,191.2L195.6,191.2L196.1,191.2L196.6,191.2L197.1,191.2L197.6,191.2L198.1,191.2L198.6,191.2" fill="none" stroke="#000" stroke-width="2.0" stroke-linejoin="round"/>
<path d="M27.1,191.8L27.6,191.8L28.1,191.8L28.6,191.8L29.1,191.8L29.6,191.8L30.1,191.8L30.6,191.8L31.1,191.8L31.6,191.8L32.1,191.8L32.6,191.8L33.1,191.8L33.6,191.7L34.1,191.7L34.6,191.7L35.1,191.7L35.6,191.7L36.1,191.7L36.6,191.7L37.1,191.7L37.6,191.7L38.1,191.7L38.6,191.7L39.1,191.7L39.6,191.7L40.1,191.7L40.6,191.7L41.1,191.7L41.6,191.7L42.1,191.7L42.6,191.7L43.1,191.7L43.6,191.7L44.1,191.7L44.6,191.7L45.1,191.7L45.6,191.7L46.1,191.7L46.6,191.7L47.1,191.7L47.6,191.7L48.1,191.7L48.6,191.7L49.1,191.7L49.6,191.7L50.1,191.7L50.6,191.7L51.1,191.7L51.6,191.7L52.1,191.7L52.6,191.7L53.1,191.7L53.6,191.7L54.1,191.7L54.6,191.7L55.1,191.7L55.6,191.7L56.1,191.7L56.6,191.7L57.1,191.7L57.6,191.7L58.1,191.7L58.6,191.7L59.1,191.7L59.6,191.7L60.1,191.6L60.6,191.6L61.1,191.6L61.6,191.6L62.1,191.6L62.6,191.6L63.1,191.6L63.6,191.6L64.1,191.6L64.6,191.6L65.1,191.6L65.6,191.6L66.1,191.6L66.6,191.6L67.1,191.6L67.6,191.6L68.1,191.5L68.6,191.5L69.1,191.5L69.6,191.5L70.1,191.5L70.6,191.5L71.1,191.5L71.6,191.5L72.1,191.5L72.6,191.4L73.1,191.4L73.6,191.4L74.1,191.4L74.6,191.4L75.1,191.4L75.6,191.4L76.1,191.4L76.6,191.3L77.1,191.3L77.6,191.3L78.1,191.3L78.6,191.3L79.1,191.3L79.6,191.2L80.1,191.2L80.6,191.2L81.1,191.2L81.6,191.2L82.1,191.1L82.6,191.1L83.1,191.1L83.6,191.1L84.1,191.1L84.6,191.1L85.1,191.0L85.6,191.0L86.1,191.0L86.6,191.0L87.1,191.0L87.6,190.9L88.1,190.9L88.6,190.9L89.1,190.9L89.6,190.9L90.1,190.9L90.6,190.9L91.1,190.8L91.6,190.8L92.1,190.8L92.6,190.8L93.1,190.8L93.6,190.8L94.1,190.8L94.6,190.8L95.1,190.8L95.6,190.8L96.1,190.8L96.6,190.8L97.1,190.8L97.6,190.8L98.1,190.8L98.6,190.8L99.1,190.9L99.6,190.9L100.1,190.9L100.6,190.9L101.1,190.9L101.6,190.9L102.1,190.9L102.6,191.0L103.1,191.0L103.6,191.0L104.1,191.0L104.6,191.0L105.1,191.1L105.6,191.1L106.1,191.1L106.6,191.1L107.1,191.1L107.6,191.2L108.1,191.2L108.6,191.2L109.1,191.2L109.6,191.2L110.1,191.2L110.6,191.3L111.1,191.3L111.6,191.3L112.1,191.3L112.6,191.3L113.1,191.3L113.6,191.4L114.1,191.4L114.6,191.4L115.1,191.4L115.6,191.4L116.1,191.4L116.6,191.4L117.1,191.5L117.6,191.5L118.1,191.5L118.6,191.5L119.1,191.5L119.6,191.5L120.1,191.5L120.6,191.5L121.1,191.5L121.6,191.5L122.1,191.6L122.6,191.6L123.1,191.6L123.6,191.6L124.1,191.6L124.6,191.6L125.1,191.6L125.6,191.6L126.1,191.6L126.6,191.6L127.1,191.6L127.6,191.6L128.1,191.6L128.6,191.6L129.1,191.6L129.6,191.6L130.1,191.7L130.6,191.7L131.1,191.7L131.6,191.7L132.1,191.7L132.6,191.7L133.1,191.7L133.6,191.7L134.1,191.7L134.6,191.7L135.1,191.7L135.6,191.7L136.1,191.7L136.6,191.7L137.1,191.7L137.6,191.7L138.1,191.7L138.6,191.7L139.1,191.7L139.6,191.7L140.1,191.7L140.6,191.7L141.1,191.7L141.6,191.7L142.1,191.7L142.6,191.7L143.1,191.7L143.6,191.7L144.1,191.7L144.6,191.7L145.1,191.7L145.6,191.7L146.1,191.7L146.6,191.7L147.1,191.7L147.6,191.7L148.1,191.7L148.6,191.7L149.1,191.7L149.6,191.7L150.1,191.7L150.6,191.7L151.1,191.7L151.6,191.7L152.1,191.7L152.6,191.7L153.1,191.7L153.6,191.7L154.1,191.7L154.6,191.7L155.1,191.7L155.6,191.7L156.1,191.7L156.6,191.8L157.1,191.8L157.6,191.8L158.1,191.8L158.6,191.8L159.1,191.8L159.6,191.8L160.1,191.8L160.6,191.8L161.1,191.8L161.6,191.8L162.1,191.8L162.6,191.8L163.1,191.8L163.6,191.8L164.1,191.8L164.6,191.8L165.1,191.8L165.6,191.8L166.1,191.8L166.6,191.8L167.1,191.8L167.6,191.8L168.1,191.8L168.6,191.8L169.1,191.8L169.6,191.8L170.1,191.8L170.6,191.8L171.1,191.8L171.6,191.8L172.1,191.8L172.6,191.8L173.1,191.8L173.6,191.8L174.1,191.8L174.6,191.8L175.1,191.8L175.6,191.8L176.1,191.8L176.6,191.8L177.1,191.8L177.6,191.8L178.1,191.8L178.6,191.8L179.1,191.8L179.6,191.8L180.1,191.8L180.6,191.8L181.1,191.8L181.6,191.8L182.1,191.8L182.6,191.8L183.1,191.8L183.6,191.8L184.1,191.8L184.6,191.8L185.1,191.8L185.6,191.8L186.1,191.8L186.6,191.8L187.1,191.8L187.6,191.8L188.1,191.8L188.6,191.8L189.1,191.8L189.6,191.8L190.1,191.8L190.6,191.8L191.1,191.8L191.6,191.8L192.1,191.8L192.6,191.8L193.1,191.8L193.6,191.8L194.1,191.8L194.6,191.8L195.1,191.8L195.6,191.8L196.1,191.8L196.6,191.8L197.1,191.8L197.6,191.8L198.1,191.8L198.6,191.8" fill="none" stroke="#f40000" stroke-width="2.1" stroke-linejoin="round"/>
<path d="M27.1,229.8L27.6,229.5L28.1,228.9L28.6,229.0L29.1,227.4L29.6,229.8L30.1,229.8L30.6,230.5L31.1,229.6L31.6,230.1L32.1,232.4L32.6,230.9L33.1,229.4L33.6,229.9L34.1,229.6L34.6,231.2L35.1,226.9L35.6,230.9L36.1,230.1L36.6,226.3L37.1,230.2L37.6,228.9L38.1,228.5L38.6,228.0L39.1,230.0L39.6,232.7L40.1,229.7L40.6,228.5L41.1,229.5L41.6,230.2L42.1,225.9L42.6,229.3L43.1,227.6L43.6,228.1L44.1,227.8L44.6,230.5L45.1,228.5L45.6,228.5L46.1,229.5L46.6,228.4L47.1,228.9L47.6,228.4L48.1,231.8L48.6,229.0L49.1,231.4L49.6,229.8L50.1,231.9L50.6,228.4L51.1,229.8L51.6,226.5L52.1,231.3L52.6,230.4L53.1,229.1L53.6,232.2L54.1,233.3L54.6,231.6L55.1,231.7L55.6,229.7L56.1,227.1L56.6,227.7L57.1,231.0L57.6,227.2L58.1,229.4L58.6,231.8L59.1,230.1L59.6,228.0L60.1,228.5L60.6,231.9L61.1,228.2L61.6,229.0L62.1,227.8L62.6,229.5L63.1,228.8L63.6,231.0L64.1,228.3L64.6,229.0L65.1,226.4L65.6,231.4L66.1,231.3L66.6,229.2L67.1,229.8L67.6,230.2L68.1,231.1L68.6,227.3L69.1,228.3L69.6,232.8L70.1,231.3L70.6,230.4L71.1,229.7L71.6,230.8L72.1,230.9L72.6,230.9L73.1,228.1L73.6,229.6L74.1,230.2L74.6,230.1L75.1,228.1L75.6,229.3L76.1,228.1L76.6,229.0L77.1,230.0L77.6,230.5L78.1,230.6L78.6,229.9L79.1,229.9L79.6,227.6L80.1,229.7L80.6,228.9L81.1,226.7L81.6,228.5L82.1,230.4L82.6,231.5L83.1,229.4L83.6,227.1L84.1,213.5L84.6,211.6L85.1,214.8L85.6,210.0L86.1,212.2L86.6,210.3L87.1,210.9L87.6,208.2L88.1,210.2L88.6,208.6L89.1,207.8L89.6,203.5L90.1,206.1L90.6,202.9L91.1,207.7L91.6,205.6L92.1,209.2L92.6,203.1L93.1,209.1L93.6,206.5L94.1,204.4L94.6,206.4L95.1,202.5L95.6,202.3L96.1,208.1L96.6,201.2L97.1,205.8L97.6,208.9L98.1,206.4L98.6,209.3L99.1,206.3L99.6,205.7L100.1,210.0L100.6,209.8L101.1,208.2L101.6,211.7L102.1,207.1L102.6,211.9L103.1,209.6L103.6,211.3L104.1,211.6L104.6,212.2L105.1,213.4L105.6,215.5L106.1,216.0L106.6,214.0L107.1,214.5L107.6,213.1L108.1,218.1L108.6,217.3L109.1,215.0L109.6,216.8L110.1,219.4L110.6,216.1L111.1,218.0L111.6,217.9L112.1,217.8L112.6,218.7L113.1,215.7L113.6,220.7L114.1,218.7L114.6,219.9L115.1,217.9L115.6,223.7L116.1,221.4L116.6,217.9L117.1,220.1L117.6,220.8L118.1,220.1L118.6,219.8L119.1,220.2L119.6,221.1L120.1,222.8L120.6,223.1L121.1,224.8L121.6,223.0L122.1,220.4L122.6,223.5L123.1,225.5L123.6,222.6L124.1,224.6L124.6,225.0L125.1,223.4L125.6,224.7L126.1,223.8L126.6,227.3L127.1,226.4L127.6,225.8L128.1,226.7L128.6,226.9L129.1,225.0L129.6,224.5L130.1,224.5L130.6,225.2L131.1,227.7L131.6,228.1L132.1,228.8L132.6,225.1L133.1,227.0L133.6,228.6L134.1,229.4L134.6,226.8L135.1,226.8L135.6,226.8L136.1,227.9L136.6,228.5L137.1,228.8L137.6,227.0L138.1,227.8L138.6,226.3L139.1,228.5L139.6,229.5L140.1,229.2L140.6,228.4L141.1,227.6L141.6,227.8L142.1,227.0L142.6,227.1L143.1,226.7L143.6,229.4L144.1,226.5L144.6,227.2L145.1,229.8L145.6,228.6L146.1,230.3L146.6,230.1L147.1,228.7L147.6,229.6L148.1,226.8L148.6,228.6L149.1,230.5L149.6,228.9L150.1,228.7L150.6,231.8L151.1,229.4L151.6,226.6L152.1,229.9L152.6,225.3L153.1,229.1L153.6,228.9L154.1,227.9L154.6,226.1L155.1,228.0L155.6,232.0L156.1,227.2L156.6,227.5L157.1,228.3L157.6,228.1L158.1,230.8L158.6,229.0L159.1,228.4L159.6,229.6L160.1,229.0L160.6,228.4L161.1,228.3L161.6,228.5L162.1,228.5L162.6,228.2L163.1,228.6L163.6,230.3L164.1,227.2L164.6,229.2L165.1,229.7L165.6,228.7L166.1,228.7L166.6,230.2L167.1,228.3L167.6,229.5L168.1,229.5L168.6,229.1L169.1,229.1L169.6,229.9L170.1,230.7L170.6,227.5L171.1,230.2L171.6,228.0L172.1,227.8L172.6,229.1L173.1,229.1L173.6,226.7L174.1,230.9L174.6,228.3L175.1,229.8L175.6,229.4L176.1,229.7L176.6,229.0L177.1,229.3L177.6,229.0L178.1,228.5L178.6,230.3L179.1,229.1L179.6,229.4L180.1,228.3L180.6,228.2L181.1,229.2L181.6,225.0L182.1,230.8L182.6,228.5L183.1,228.6L183.6,228.4L184.1,229.2L184.6,229.6L185.1,229.9L185.6,228.2L186.1,227.6L186.6,228.9L187.1,228.9L187.6,228.1L188.1,230.5L188.6,227.8L189.1,227.9L189.6,230.2L190.1,228.5L190.6,228.8L191.1,228.0L191.6,227.5L192.1,228.1L192.6,227.9L193.1,229.9L193.6,229.4L194.1,231.4L194.6,228.9L195.1,228.4L195.6,230.3L196.1,228.4L196.6,230.3L197.1,228.5L197.6,226.9L198.1,228.6L198.6,228.7" fill="none" stroke="#6e6e6e" stroke-width="0.6"/>
<path d="M27.1,227.5L27.6,229.2L28.1,229.5L28.6,231.2L29.1,229.9L29.6,228.3L30.1,227.8L30.6,231.1L31.1,228.1L31.6,231.9L32.1,230.0L32.6,229.0L33.1,228.6L33.6,231.5L34.1,229.5L34.6,229.9L35.1,227.0L35.6,229.8L36.1,228.3L36.6,226.6L37.1,229.3L37.6,225.9L38.1,228.0L38.6,233.4L39.1,228.1L39.6,228.5L40.1,230.0L40.6,230.0L41.1,230.0L41.6,229.3L42.1,231.7L42.6,228.6L43.1,227.2L43.6,228.2L44.1,229.4L44.6,229.7L45.1,230.1L45.6,229.5L46.1,229.0L46.6,228.9L47.1,228.5L47.6,230.6L48.1,228.0L48.6,231.4L49.1,228.4L49.6,226.8L50.1,229.7L50.6,227.4L51.1,229.8L51.6,229.6L52.1,231.4L52.6,230.6L53.1,226.4L53.6,230.1L54.1,228.3L54.6,228.3L55.1,228.5L55.6,232.3L56.1,229.0L56.6,229.5L57.1,230.8L57.6,232.0L58.1,229.1L58.6,229.8L59.1,230.0L59.6,229.3L60.1,229.3L60.6,228.1L61.1,228.9L61.6,228.5L62.1,228.3L62.6,228.9L63.1,229.5L63.6,228.7L64.1,229.1L64.6,230.8L65.1,230.6L65.6,228.3L66.1,227.2L66.6,232.9L67.1,229.3L67.6,231.9L68.1,229.5L68.6,231.9L69.1,230.2L69.6,229.5L70.1,228.9L70.6,229.4L71.1,228.4L71.6,230.0L72.1,229.5L72.6,230.3L73.1,230.3L73.6,228.2L74.1,230.0L74.6,229.7L75.1,231.0L75.6,231.8L76.1,229.1L76.6,226.8L77.1,229.5L77.6,229.5L78.1,228.3L78.6,230.1L79.1,229.3L79.6,230.5L80.1,227.9L80.6,229.9L81.1,229.3L81.6,229.3L82.1,230.9L82.6,228.8L83.1,229.1L83.6,230.6L84.1,227.1L84.6,230.0L85.1,228.2L85.6,226.1L86.1,231.0L86.6,231.2L87.1,229.2L87.6,227.7L88.1,226.7L88.6,229.4L89.1,231.0L89.6,227.0L90.1,228.9L90.6,231.0L91.1,230.0L91.6,228.7L92.1,231.7L92.6,227.3L93.1,229.6L93.6,230.3L94.1,227.1L94.6,228.3L95.1,228.4L95.6,232.6L96.1,228.9L96.6,228.8L97.1,228.2L97.6,232.4L98.1,231.6L98.6,227.8L99.1,228.0L99.6,229.8L100.1,229.3L100.6,229.5L101.1,228.1L101.6,226.6L102.1,229.3L102.6,227.8L103.1,232.5L103.6,229.4L104.1,229.5L104.6,228.9L105.1,228.3L105.6,229.4L106.1,227.7L106.6,229.2L107.1,229.8L107.6,229.3L108.1,225.5L108.6,230.0L109.1,228.2L109.6,230.5L110.1,229.4L110.6,229.3L111.1,229.9L111.6,228.4L112.1,229.4L112.6,228.8L113.1,230.1L113.6,230.5L114.1,228.3L114.6,228.8L115.1,228.3L115.6,231.8L116.1,228.4L116.6,229.3L117.1,229.1L117.6,228.2L118.1,229.0L118.6,229.1L119.1,228.0L119.6,228.2L120.1,229.9L120.6,232.4L121.1,230.6L121.6,229.5L122.1,230.7L122.6,227.9L123.1,230.1L123.6,230.0L124.1,230.2L124.6,230.2L125.1,230.5L125.6,228.7L126.1,228.8L126.6,228.2L127.1,230.2L127.6,227.2L128.1,229.4L128.6,224.8L129.1,229.8L129.6,232.4L130.1,228.8L130.6,230.9L131.1,231.2L131.6,228.1L132.1,229.3L132.6,229.9L133.1,228.4L133.6,229.0L134.1,229.2L134.6,229.8L135.1,228.9L135.6,231.0L136.1,230.3L136.6,229.5L137.1,229.9L137.6,227.3L138.1,227.6L138.6,227.8L139.1,229.8L139.6,231.5L140.1,228.9L140.6,228.1L141.1,228.3L141.6,229.8L142.1,227.9L142.6,228.4L143.1,230.4L143.6,231.1L144.1,229.7L144.6,229.5L145.1,229.1L145.6,230.3L146.1,225.8L146.6,229.8L147.1,229.8L147.6,229.1L148.1,229.1L148.6,230.1L149.1,228.9L149.6,230.4L150.1,228.5L150.6,230.1L151.1,230.7L151.6,228.2L152.1,230.8L152.6,230.1L153.1,229.9L153.6,231.2L154.1,230.1L154.6,228.4L155.1,230.4L155.6,231.0L156.1,229.1L156.6,229.2L157.1,229.2L157.6,229.0L158.1,228.5L158.6,230.5L159.1,231.0L159.6,227.9L160.1,229.4L160.6,229.2L161.1,230.5L161.6,230.9L162.1,230.1L162.6,231.1L163.1,230.8L163.6,230.4L164.1,230.3L164.6,231.0L165.1,228.9L165.6,228.2L166.1,230.7L166.6,230.8L167.1,231.7L167.6,229.5L168.1,228.1L168.6,230.1L169.1,231.5L169.6,228.9L170.1,229.4L170.6,228.9L171.1,227.7L171.6,231.2L172.1,229.1L172.6,231.7L173.1,229.1L173.6,227.4L174.1,228.4L174.6,228.4L175.1,228.7L175.6,229.3L176.1,229.1L176.6,231.7L177.1,226.7L177.6,228.3L178.1,229.7L178.6,230.5L179.1,229.7L179.6,229.5L180.1,230.3L180.6,229.3L181.1,229.2L181.6,230.1L182.1,227.7L182.6,229.6L183.1,228.6L183.6,229.9L184.1,229.3L184.6,228.0L185.1,230.3L185.6,230.0L186.1,228.6L186.6,230.3L187.1,226.8L187.6,230.7L188.1,230.7L188.6,229.8L189.1,230.4L189.6,227.8L190.1,229.0L190.6,228.4L191.1,230.3L191.6,230.3L192.1,231.6L192.6,228.3L193.1,228.5L193.6,230.1L194.1,228.8L194.6,228.7L195.1,230.4L195.6,229.6L196.1,228.9L196.6,231.0L197.1,229.4L197.6,227.8L198.1,229.3L198.6,229.6" fill="none" stroke="#f39428" stroke-width="0.7"/>
<path d="M27.1,228.6L27.6,228.6L28.1,228.6L28.6,228.6L29.1,228.6L29.6,228.6L30.1,228.6L30.6,228.5L31.1,228.5L31.6,228.5L32.1,228.5L32.6,228.5L33.1,228.5L33.6,228.5L34.1,228.5L34.6,228.4L35.1,228.4L35.6,228.4L36.1,228.4L36.6,228.4L37.1,228.4L37.6,228.4L38.1,228.3L38.6,228.3L39.1,228.3L39.6,228.3L40.1,228.3L40.6,228.3L41.1,228.2L41.6,228.2L42.1,228.2L42.6,228.2L43.1,228.2L43.6,228.1L44.1,228.1L44.6,228.1L45.1,228.1L45.6,228.1L46.1,228.0L46.6,228.0L47.1,228.0L47.6,228.0L48.1,227.9L48.6,227.9L49.1,227.9L49.6,227.8L50.1,227.8L50.6,227.8L51.1,227.7L51.6,227.7L52.1,227.7L52.6,227.6L53.1,227.6L53.6,227.6L54.1,227.5L54.6,227.5L55.1,227.4L55.6,227.4L56.1,227.3L56.6,227.3L57.1,227.2L57.6,227.2L58.1,227.1L58.6,227.1L59.1,227.0L59.6,226.9L60.1,226.9L60.6,226.8L61.1,226.7L61.6,226.7L62.1,226.6L62.6,226.5L63.1,226.4L63.6,226.3L64.1,226.2L64.6,226.1L65.1,226.0L65.6,225.9L66.1,225.7L66.6,225.6L67.1,225.5L67.6,225.3L68.1,225.2L68.6,225.0L69.1,224.8L69.6,224.6L70.1,224.4L70.6,224.2L71.1,224.0L71.6,223.8L72.1,223.6L72.6,223.3L73.1,223.1L73.6,222.8L74.1,222.5L74.6,222.2L75.1,221.9L75.6,221.5L76.1,221.2L76.6,220.8L77.1,220.5L77.6,220.1L78.1,219.6L78.6,219.2L79.1,218.8L79.6,218.3L80.1,217.8L80.6,217.4L81.1,216.9L81.6,216.3L82.1,215.8L82.6,215.3L83.1,214.7L83.6,214.1L84.1,213.5L84.6,213.0L85.1,212.4L85.6,211.8L86.1,211.2L86.6,210.6L87.1,210.0L87.6,209.4L88.1,208.8L88.6,208.2L89.1,207.7L89.6,207.2L90.1,206.7L90.6,206.2L91.1,205.8L91.6,205.4L92.1,205.1L92.6,204.8L93.1,204.6L93.6,204.4L94.1,204.3L94.6,204.2L95.1,204.2L95.6,204.3L96.1,204.4L96.6,204.6L97.1,204.8L97.6,205.1L98.1,205.5L98.6,205.9L99.1,206.3L99.6,206.8L100.1,207.3L100.6,207.8L101.1,208.3L101.6,208.9L102.1,209.5L102.6,210.1L103.1,210.7L103.6,211.3L104.1,211.9L104.6,212.5L105.1,213.1L105.6,213.7L106.1,214.2L106.6,214.8L107.1,215.4L107.6,215.9L108.1,216.4L108.6,217.0L109.1,217.5L109.6,217.9L110.1,218.4L110.6,218.9L111.1,219.3L111.6,219.7L112.1,220.1L112.6,220.5L113.1,220.9L113.6,221.3L114.1,221.6L114.6,221.9L115.1,222.2L115.6,222.5L116.1,222.8L116.6,223.1L117.1,223.4L117.6,223.6L118.1,223.9L118.6,224.1L119.1,224.3L119.6,224.5L120.1,224.7L120.6,224.9L121.1,225.0L121.6,225.2L122.1,225.3L122.6,225.5L123.1,225.6L123.6,225.8L124.1,225.9L124.6,226.0L125.1,226.1L125.6,226.2L126.1,226.3L126.6,226.4L127.1,226.5L127.6,226.6L128.1,226.7L128.6,226.7L129.1,226.8L129.6,226.9L130.1,227.0L130.6,227.0L131.1,227.1L131.6,227.1L132.1,227.2L132.6,227.3L133.1,227.3L133.6,227.4L134.1,227.4L134.6,227.4L135.1,227.5L135.6,227.5L136.1,227.6L136.6,227.6L137.1,227.6L137.6,227.7L138.1,227.7L138.6,227.7L139.1,227.8L139.6,227.8L140.1,227.8L140.6,227.9L141.1,227.9L141.6,227.9L142.1,228.0L142.6,228.0L143.1,228.0L143.6,228.0L144.1,228.1L144.6,228.1L145.1,228.1L145.6,228.1L146.1,228.1L146.6,228.2L147.1,228.2L147.6,228.2L148.1,228.2L148.6,228.2L149.1,228.3L149.6,228.3L150.1,228.3L150.6,228.3L151.1,228.3L151.6,228.3L152.1,228.4L152.6,228.4L153.1,228.4L153.6,228.4L154.1,228.4L154.6,228.4L155.1,228.4L155.6,228.5L156.1,228.5L156.6,228.5L157.1,228.5L157.6,228.5L158.1,228.5L158.6,228.5L159.1,228.5L159.6,228.6L160.1,228.6L160.6,228.6L161.1,228.6L161.6,228.6L162.1,228.6L162.6,228.6L163.1,228.6L163.6,228.6L164.1,228.6L164.6,228.7L165.1,228.7L165.6,228.7L166.1,228.7L166.6,228.7L167.1,228.7L167.6,228.7L168.1,228.7L168.6,228.7L169.1,228.7L169.6,228.7L170.1,228.7L170.6,228.8L171.1,228.8L171.6,228.8L172.1,228.8L172.6,228.8L173.1,228.8L173.6,228.8L174.1,228.8L174.6,228.8L175.1,228.8L175.6,228.8L176.1,228.8L176.6,228.8L177.1,228.8L177.6,228.8L178.1,228.8L178.6,228.8L179.1,228.9L179.6,228.9L180.1,228.9L180.6,228.9L181.1,228.9L181.6,228.9L182.1,228.9L182.6,228.9L183.1,228.9L183.6,228.9L184.1,228.9L184.6,228.9L185.1,228.9L185.6,228.9L186.1,228.9L186.6,228.9L187.1,228.9L187.6,228.9L188.1,228.9L188.6,228.9L189.1,228.9L189.6,228.9L190.1,228.9L190.6,229.0L191.1,229.0L191.6,229.0L192.1,229.0L192.6,229.0L193.1,229.0L193.6,229.0L194.1,229.0L194.6,229.0L195.1,229.0L195.6,229.0L196.1,229.0L196.6,229.0L197.1,229.0L197.6,229.0L198.1,229.0L198.6,229.0" fill="none" stroke="#000" stroke-width="2.0" stroke-linejoin="round"/>
<path d="M27.1,229.6L27.6,229.6L28.1,229.6L28.6,229.6L29.1,229.6L29.6,229.6L30.1,229.6L30.6,229.6L31.1,229.6L31.6,229.6L32.1,229.6L32.6,229.6L33.1,229.6L33.6,229.6L34.1,229.6L34.6,229.6L35.1,229.6L35.6,229.6L36.1,229.6L36.6,229.6L37.1,229.6L37.6,229.6L38.1,229.6L38.6,229.6L39.1,229.6L39.6,229.6L40.1,229.6L40.6,229.6L41.1,229.6L41.6,229.6L42.1,229.6L42.6,229.6L43.1,229.6L43.6,229.6L44.1,229.6L44.6,229.6L45.1,229.6L45.6,229.6L46.1,229.6L46.6,229.6L47.1,229.6L47.6,229.6L48.1,229.5L48.6,229.5L49.1,229.5L49.6,229.5L50.1,229.5L50.6,229.5L51.1,229.5L51.6,229.5L52.1,229.5L52.6,229.5L53.1,229.5L53.6,229.5L54.1,229.5L54.6,229.5L55.1,229.5L55.6,229.5L56.1,229.5L56.6,229.5L57.1,229.5L57.6,229.5L58.1,229.5L58.6,229.5L59.1,229.5L59.6,229.5L60.1,229.5L60.6,229.5L61.1,229.5L61.6,229.5L62.1,229.5L62.6,229.5L63.1,229.5L63.6,229.5L64.1,229.5L64.6,229.5L65.1,229.5L65.6,229.5L66.1,229.5L66.6,229.5L67.1,229.5L67.6,229.5L68.1,229.4L68.6,229.4L69.1,229.4L69.6,229.4L70.1,229.4L70.6,229.4L71.1,229.4L71.6,229.4L72.1,229.4L72.6,229.4L73.1,229.4L73.6,229.4L74.1,229.4L74.6,229.4L75.1,229.3L75.6,229.3L76.1,229.3L76.6,229.3L77.1,229.3L77.6,229.3L78.1,229.3L78.6,229.3L79.1,229.3L79.6,229.3L80.1,229.3L80.6,229.2L81.1,229.2L81.6,229.2L82.1,229.2L82.6,229.2L83.1,229.2L83.6,229.2L84.1,229.2L84.6,229.2L85.1,229.1L85.6,229.1L86.1,229.1L86.6,229.1L87.1,229.1L87.6,229.1L88.1,229.1L88.6,229.1L89.1,229.1L89.6,229.0L90.1,229.0L90.6,229.0L91.1,229.0L91.6,229.0L92.1,229.0L92.6,229.0L93.1,229.0L93.6,229.0L94.1,229.0L94.6,229.0L95.1,229.0L95.6,229.0L96.1,229.0L96.6,229.0L97.1,229.0L97.6,229.0L98.1,229.0L98.6,229.0L99.1,229.0L99.6,229.0L100.1,229.0L100.6,229.1L101.1,229.1L101.6,229.1L102.1,229.1L102.6,229.1L103.1,229.1L103.6,229.1L104.1,229.1L104.6,229.1L105.1,229.2L105.6,229.2L106.1,229.2L106.6,229.2L107.1,229.2L107.6,229.2L108.1,229.2L108.6,229.2L109.1,229.2L109.6,229.3L110.1,229.3L110.6,229.3L111.1,229.3L111.6,229.3L112.1,229.3L112.6,229.3L113.1,229.3L113.6,229.3L114.1,229.3L114.6,229.4L115.1,229.4L115.6,229.4L116.1,229.4L116.6,229.4L117.1,229.4L117.6,229.4L118.1,229.4L118.6,229.4L119.1,229.4L119.6,229.4L120.1,229.4L120.6,229.4L121.1,229.4L121.6,229.4L122.1,229.5L122.6,229.5L123.1,229.5L123.6,229.5L124.1,229.5L124.6,229.5L125.1,229.5L125.6,229.5L126.1,229.5L126.6,229.5L127.1,229.5L127.6,229.5L128.1,229.5L128.6,229.5L129.1,229.5L129.6,229.5L130.1,229.5L130.6,229.5L131.1,229.5L131.6,229.5L132.1,229.5L132.6,229.5L133.1,229.5L133.6,229.5L134.1,229.5L134.6,229.5L135.1,229.5L135.6,229.5L136.1,229.5L136.6,229.5L137.1,229.5L137.6,229.5L138.1,229.5L138.6,229.5L139.1,229.5L139.6,229.5L140.1,229.5L140.6,229.5L141.1,229.5L141.6,229.6L142.1,229.6L142.6,229.6L143.1,229.6L143.6,229.6L144.1,229.6L144.6,229.6L145.1,229.6L145.6,229.6L146.1,229.6L146.6,229.6L147.1,229.6L147.6,229.6L148.1,229.6L148.6,229.6L149.1,229.6L149.6,229.6L150.1,229.6L150.6,229.6L151.1,229.6L151.6,229.6L152.1,229.6L152.6,229.6L153.1,229.6L153.6,229.6L154.1,229.6L154.6,229.6L155.1,229.6L155.6,229.6L156.1,229.6L156.6,229.6L157.1,229.6L157.6,229.6L158.1,229.6L158.6,229.6L159.1,229.6L159.6,229.6L160.1,229.6L160.6,229.6L161.1,229.6L161.6,229.6L162.1,229.6L162.6,229.6L163.1,229.6L163.6,229.6L164.1,229.6L164.6,229.6L165.1,229.6L165.6,229.6L166.1,229.6L166.6,229.6L167.1,229.6L167.6,229.6L168.1,229.6L168.6,229.6L169.1,229.6L169.6,229.6L170.1,229.6L170.6,229.6L171.1,229.6L171.6,229.6L172.1,229.6L172.6,229.6L173.1,229.6L173.6,229.6L174.1,229.6L174.6,229.6L175.1,229.6L175.6,229.6L176.1,229.6L176.6,229.6L177.1,229.6L177.6,229.6L178.1,229.6L178.6,229.6L179.1,229.6L179.6,229.6L180.1,229.6L180.6,229.6L181.1,229.6L181.6,229.6L182.1,229.6L182.6,229.6L183.1,229.6L183.6,229.6L184.1,229.6L184.6,229.6L185.1,229.6L185.6,229.6L186.1,229.6L186.6,229.6L187.1,229.6L187.6,229.6L188.1,229.6L188.6,229.6L189.1,229.6L189.6,229.6L190.1,229.6L190.6,229.6L191.1,229.6L191.6,229.6L192.1,229.6L192.6,229.6L193.1,229.6L193.6,229.6L194.1,229.6L194.6,229.6L195.1,229.6L195.6,229.6L196.1,229.6L196.6,229.6L197.1,229.6L197.6,229.6L198.1,229.6L198.6,229.6" fill="none" stroke="#f40000" stroke-width="2.1" stroke-linejoin="round"/>
<path d="M26.3,234.2 L26.3,8.9 L199.2,8.9 L199.2,234.2" fill="none" stroke="#8c8c8c" stroke-width="1.2"/>
<line x1="25.7" y1="234.2" x2="199.79999999999998" y2="234.2" stroke="#444" stroke-width="1.3"/>
<line x1="46.17" y1="234.2" x2="46.17" y2="231.6" stroke="#555" stroke-width="1"/>
<line x1="66.05" y1="234.2" x2="66.05" y2="230.2" stroke="#555" stroke-width="1"/>
<line x1="85.92" y1="234.2" x2="85.92" y2="231.6" stroke="#555" stroke-width="1"/>
<line x1="105.80" y1="234.2" x2="105.80" y2="230.2" stroke="#555" stroke-width="1"/>
<line x1="125.67" y1="234.2" x2="125.67" y2="231.6" stroke="#555" stroke-width="1"/>
<line x1="145.55" y1="234.2" x2="145.55" y2="230.2" stroke="#555" stroke-width="1"/>
<line x1="165.43" y1="234.2" x2="165.43" y2="231.6" stroke="#555" stroke-width="1"/>
<line x1="185.30" y1="234.2" x2="185.30" y2="230.2" stroke="#555" stroke-width="1"/>
<text x="26.30" y="249.60" font-family='"Liberation Sans", sans-serif' font-size="14.2" fill="#0a0a0a" stroke="#0a0a0a" stroke-width="0.2" text-anchor="middle" font-weight="normal" font-style="normal" >450</text>
<text x="66.05" y="249.60" font-family='"Liberation Sans", sans-serif' font-size="14.2" fill="#0a0a0a" stroke="#0a0a0a" stroke-width="0.2" text-anchor="middle" font-weight="normal" font-style="normal" >480</text>
<text x="105.80" y="249.60" font-family='"Liberation Sans", sans-serif' font-size="14.2" fill="#0a0a0a" stroke="#0a0a0a" stroke-width="0.2" text-anchor="middle" font-weight="normal" font-style="normal" >510</text>
<text x="145.55" y="249.60" font-family='"Liberation Sans", sans-serif' font-size="14.2" fill="#0a0a0a" stroke="#0a0a0a" stroke-width="0.2" text-anchor="middle" font-weight="normal" font-style="normal" >540</text>
<text x="185.30" y="249.60" font-family='"Liberation Sans", sans-serif' font-size="14.2" fill="#0a0a0a" stroke="#0a0a0a" stroke-width="0.2" text-anchor="middle" font-weight="normal" font-style="normal" >570</text>
<text x="109.10" y="267.50" font-family='"Liberation Sans", sans-serif' font-size="14.4" fill="#0a0a0a" stroke="#0a0a0a" stroke-width="0.2" text-anchor="middle" font-weight="normal" font-style="normal" >Wavelength (nm)</text>
<text transform="translate(17.7,114.1) rotate(-90)" font-family='"Liberation Sans", sans-serif' font-size="14.5" fill="#0a0a0a" stroke="#0a0a0a" stroke-width="0.2" text-anchor="middle" xml:space="preserve">PL intensity  (a.u.)</text>
<text x="31.00" y="23.80" font-family='"Liberation Sans", sans-serif' font-size="14.4" fill="#0a0a0a" stroke="#0a0a0a" stroke-width="0.2" text-anchor="start">PbI<tspan font-size="10.37" dy="3.6">2</tspan></text>
<text x="179.20" y="39.60" font-family='"Liberation Sans", sans-serif' font-size="14.4" fill="#0a0a0a" stroke="#0a0a0a" stroke-width="0.2" text-anchor="middle" font-weight="normal" font-style="normal" >22.6</text>
<text x="179.20" y="69.10" font-family='"Liberation Sans", sans-serif' font-size="14.4" fill="#0a0a0a" stroke="#0a0a0a" stroke-width="0.2" text-anchor="middle" font-weight="normal" font-style="normal" >18.2</text>
<text x="179.20" y="105.30" font-family='"Liberation Sans", sans-serif' font-size="14.4" fill="#0a0a0a" stroke="#0a0a0a" stroke-width="0.2" text-anchor="middle" font-weight="normal" font-style="normal" >17.8</text>
<text x="179.20" y="146.00" font-family='"Liberation Sans", sans-serif' font-size="14.4" fill="#0a0a0a" stroke="#0a0a0a" stroke-width="0.2" text-anchor="middle" font-weight="normal" font-style="normal" >13.6</text>
<text x="179.20" y="184.00" font-family='"Liberation Sans", sans-serif' font-size="14.4" fill="#0a0a0a" stroke="#0a0a0a" stroke-width="0.2" text-anchor="middle" font-weight="normal" font-style="normal" >11.4</text>
<text x="179.20" y="218.00" font-family='"Liberation Sans", sans-serif' font-size="14.4" fill="#0a0a0a" stroke="#0a0a0a" stroke-width="0.2" text-anchor="middle" font-weight="normal" font-style="normal" >9.2</text>
<text x="204.50" y="34.40" font-family='"Liberation Sans", sans-serif' font-size="14.4" fill="#0a0a0a" stroke="#0a0a0a" stroke-width="0.2" text-anchor="start" font-weight="normal" font-style="normal" >nm</text>
<text x="129.80" y="20.80" font-size="15" fill="#0a0a0a"><tspan font-family='"Liberation Serif", serif' font-style="italic">&#963;</tspan><tspan font-family='"Liberation Sans", sans-serif' stroke="#0a0a0a" stroke-width="0.35" font-size="13.95" dx="0.2">&#8722;</tspan></text>
<text x="129.80" y="35.60" font-size="15" fill="#f40000"><tspan font-family='"Liberation Serif", serif' font-style="italic">&#963;</tspan><tspan font-family='"Liberation Sans", sans-serif' stroke="#f40000" stroke-width="0.35" font-size="13.95" dx="0.2">+</tspan></text>
<text x="-0.90" y="12.20" font-family='"Liberation Sans", sans-serif' font-size="19" fill="#000" stroke="#000" stroke-width="0" text-anchor="start" font-weight="bold" font-style="normal" >a</text>
<path d="M263.1,43.2L263.6,43.2L264.1,43.1L264.6,43.1L265.1,43.1L265.6,43.1L266.1,43.1L266.6,43.1L267.1,43.0L267.6,43.1L268.1,43.1L268.6,43.0L269.1,43.0L269.6,43.0L270.1,43.0L270.6,43.0L271.1,43.0L271.6,42.9L272.1,42.9L272.6,42.9L273.1,42.9L273.6,42.9L274.1,42.9L274.6,42.8L275.1,42.8L275.6,42.8L276.1,42.8L276.6,42.8L277.1,42.8L277.6,42.8L278.1,42.7L278.6,42.7L279.1,42.7L279.6,42.7L280.1,42.6L280.6,42.6L281.1,42.6L281.6,42.5L282.1,42.5L282.6,42.5L283.1,42.5L283.6,42.5L284.1,42.4L284.6,42.4L285.1,42.4L285.6,42.4L286.1,42.3L286.6,42.3L287.1,42.3L287.6,42.2L288.1,42.2L288.6,42.2L289.1,42.1L289.6,42.1L290.1,42.0L290.6,42.0L291.1,41.9L291.6,41.9L292.1,41.9L292.6,41.8L293.1,41.7L293.6,41.7L294.1,41.7L294.6,41.6L295.1,41.6L295.6,41.5L296.1,41.4L296.6,41.4L297.1,41.3L297.6,41.2L298.1,41.2L298.6,41.0L299.1,41.0L299.6,40.9L300.1,40.8L300.6,40.7L301.1,40.6L301.6,40.5L302.1,40.4L302.6,40.3L303.1,40.2L303.6,40.1L304.1,40.0L304.6,39.9L305.1,39.7L305.6,39.6L306.1,39.4L306.6,39.3L307.1,39.1L307.6,39.0L308.1,38.8L308.6,38.6L309.1,38.4L309.6,38.3L310.1,38.1L310.6,37.9L311.1,37.6L311.6,37.4L312.1,37.2L312.6,36.9L313.1,36.7L313.6,36.5L314.1,36.2L314.6,35.9L315.1,35.6L315.6,35.3L316.1,35.0L316.6,34.7L317.1,34.4L317.6,34.1L318.1,33.7L318.6,33.4L319.1,33.0L319.6,32.6L320.1,32.2L320.6,31.9L321.1,31.4L321.6,31.0L322.1,30.6L322.6,30.2L323.1,29.8L323.6,29.2L324.1,28.8L324.6,28.5L325.1,27.8L325.6,27.4L326.1,26.9L326.6,26.4L327.1,25.9L327.6,25.4L328.1,24.9L328.6,24.4L329.1,23.9L329.6,23.3L330.1,22.8L330.6,22.2L331.1,21.8L331.6,21.2L332.1,20.6L332.6,20.2L333.1,19.6L333.6,19.2L334.1,18.7L334.6,18.3L335.1,17.8L335.6,17.3L336.1,16.9L336.6,16.4L337.1,15.9L337.6,15.7L338.1,15.3L338.6,14.9L339.1,14.7L339.6,14.4L340.1,14.1L340.6,14.0L341.1,13.7L341.6,13.6L342.1,13.4L342.6,13.3L343.1,13.2L343.6,13.2L344.1,13.2L344.6,13.3L345.1,13.4L345.6,13.6L346.1,13.6L346.6,13.7L347.1,13.9L347.6,14.1L348.1,14.1L348.6,14.4L349.1,14.8L349.6,15.0L350.1,15.2L350.6,15.5L351.1,15.8L351.6,16.1L352.1,16.4L352.6,16.7L353.1,17.0L353.6,17.4L354.1,17.7L354.6,18.1L355.1,18.5L355.6,18.9L356.1,19.3L356.6,19.7L357.1,20.1L357.6,20.4L358.1,20.8L358.6,21.2L359.1,21.6L359.6,22.1L360.1,22.3L360.6,22.8L361.1,23.2L361.6,23.6L362.1,23.9L362.6,24.4L363.1,24.7L363.6,25.1L364.1,25.5L364.6,25.7L365.1,26.2L365.6,26.5L366.1,26.9L366.6,27.2L367.1,27.5L367.6,27.9L368.1,28.2L368.6,28.5L369.1,28.9L369.6,29.3L370.1,29.5L370.6,29.7L371.1,30.0L371.6,30.3L372.1,30.6L372.6,30.8L373.1,31.1L373.6,31.4L374.1,31.7L374.6,31.8L375.1,32.1L375.6,32.4L376.1,32.7L376.6,32.9L377.1,33.1L377.6,33.3L378.1,33.5L378.6,33.7L379.1,34.0L379.6,34.1L380.1,34.3L380.6,34.5L381.1,34.7L381.6,34.9L382.1,35.1L382.6,35.3L383.1,35.4L383.6,35.7L384.1,35.7L384.6,35.9L385.1,36.0L385.6,36.2L386.1,36.4L386.6,36.6L387.1,36.6L387.6,36.8L388.1,36.8L388.6,37.0L389.1,37.2L389.6,37.3L390.1,37.4L390.6,37.5L391.1,37.7L391.6,37.8L392.1,37.8L392.6,38.0L393.1,38.1L393.6,38.2L394.1,38.3L394.6,38.4L395.1,38.5L395.6,38.6L396.1,38.7L396.6,38.7L397.1,38.9L397.6,38.9L398.1,39.0L398.6,39.1L399.1,39.2L399.6,39.3L400.1,39.3L400.6,39.4L401.1,39.4L401.6,39.6L402.1,39.6L402.6,39.7L403.1,39.8L403.6,39.8L404.1,39.9L404.6,40.0L405.1,40.0L405.6,40.0L406.1,40.1L406.6,40.2L407.1,40.2L407.6,40.3L408.1,40.3L408.6,40.4L409.1,40.5L409.6,40.5L410.1,40.6L410.6,40.6L411.1,40.6L411.6,40.7L412.1,40.7L412.6,40.8L413.1,40.8L413.6,40.8L414.1,40.9L414.6,40.9L415.1,41.0L415.6,41.0L416.1,41.1L416.6,41.1L417.1,41.1L417.6,41.2L418.1,41.2L418.6,41.3L419.1,41.3L419.6,41.3L420.1,41.4L420.6,41.4L421.1,41.4L421.6,41.4L422.1,41.5L422.6,41.5L423.1,41.5L423.6,41.6L424.1,41.6L424.6,41.6L425.1,41.6L425.6,41.7L426.1,41.7L426.6,41.8L427.1,41.8L427.6,41.8L428.1,41.8L428.6,41.8L429.1,41.9L429.6,41.9L430.1,41.9L430.6,41.9L431.1,41.9L431.6,42.0" fill="none" stroke="#000" stroke-width="2.1" stroke-linejoin="round"/>
<path d="M263.1,42.7L263.6,42.7L264.1,42.7L264.6,42.6L265.1,42.6L265.6,42.6L266.1,42.6L266.6,42.6L267.1,42.6L267.6,42.5L268.1,42.5L268.6,42.5L269.1,42.5L269.6,42.5L270.1,42.5L270.6,42.5L271.1,42.5L271.6,42.5L272.1,42.4L272.6,42.4L273.1,42.4L273.6,42.4L274.1,42.4L274.6,42.3L275.1,42.3L275.6,42.3L276.1,42.3L276.6,42.2L277.1,42.3L277.6,42.3L278.1,42.2L278.6,42.2L279.1,42.2L279.6,42.1L280.1,42.1L280.6,42.1L281.1,42.1L281.6,42.1L282.1,42.0L282.6,42.0L283.1,42.0L283.6,42.0L284.1,41.9L284.6,41.9L285.1,41.9L285.6,41.9L286.1,41.8L286.6,41.8L287.1,41.7L287.6,41.7L288.1,41.7L288.6,41.7L289.1,41.6L289.6,41.6L290.1,41.6L290.6,41.5L291.1,41.5L291.6,41.4L292.1,41.4L292.6,41.3L293.1,41.3L293.6,41.2L294.1,41.2L294.6,41.1L295.1,41.1L295.6,41.0L296.1,40.9L296.6,40.8L297.1,40.8L297.6,40.7L298.1,40.7L298.6,40.5L299.1,40.5L299.6,40.4L300.1,40.3L300.6,40.2L301.1,40.2L301.6,40.1L302.1,40.0L302.6,39.8L303.1,39.7L303.6,39.6L304.1,39.5L304.6,39.4L305.1,39.3L305.6,39.1L306.1,39.0L306.6,38.8L307.1,38.6L307.6,38.5L308.1,38.3L308.6,38.1L309.1,38.0L309.6,37.8L310.1,37.6L310.6,37.4L311.1,37.2L311.6,36.9L312.1,36.7L312.6,36.5L313.1,36.2L313.6,35.9L314.1,35.7L314.6,35.4L315.1,35.2L315.6,34.9L316.1,34.5L316.6,34.2L317.1,33.9L317.6,33.6L318.1,33.2L318.6,32.9L319.1,32.5L319.6,32.1L320.1,31.7L320.6,31.4L321.1,30.9L321.6,30.5L322.1,30.0L322.6,29.7L323.1,29.3L323.6,28.8L324.1,28.3L324.6,27.8L325.1,27.4L325.6,26.8L326.1,26.4L326.6,25.8L327.1,25.4L327.6,24.8L328.1,24.4L328.6,23.9L329.1,23.4L329.6,22.7L330.1,22.3L330.6,21.8L331.1,21.3L331.6,20.7L332.1,20.2L332.6,19.7L333.1,19.2L333.6,18.7L334.1,18.1L334.6,17.8L335.1,17.2L335.6,16.8L336.1,16.4L336.6,15.9L337.1,15.5L337.6,15.1L338.1,14.7L338.6,14.4L339.1,14.1L339.6,13.9L340.1,13.6L340.6,13.3L341.1,13.2L341.6,13.1L342.1,13.0L342.6,12.8L343.1,12.8L343.6,12.7L344.1,12.8L344.6,12.9L345.1,13.0L345.6,13.0L346.1,13.2L346.6,13.2L347.1,13.4L347.6,13.5L348.1,13.9L348.6,13.9L349.1,14.3L349.6,14.5L350.1,14.7L350.6,14.9L351.1,15.3L351.6,15.5L352.1,15.8L352.6,16.2L353.1,16.5L353.6,16.9L354.1,17.4L354.6,17.6L355.1,18.1L355.6,18.4L356.1,18.8L356.6,19.1L357.1,19.5L357.6,20.0L358.1,20.3L358.6,20.7L359.1,21.1L359.6,21.5L360.1,21.9L360.6,22.2L361.1,22.7L361.6,23.0L362.1,23.5L362.6,23.9L363.1,24.2L363.6,24.6L364.1,25.0L364.6,25.3L365.1,25.7L365.6,26.1L366.1,26.4L366.6,26.7L367.1,27.0L367.6,27.4L368.1,27.7L368.6,28.0L369.1,28.4L369.6,28.7L370.1,28.9L370.6,29.3L371.1,29.5L371.6,29.8L372.1,30.2L372.6,30.4L373.1,30.6L373.6,31.0L374.1,31.2L374.6,31.4L375.1,31.6L375.6,31.9L376.1,32.2L376.6,32.3L377.1,32.7L377.6,32.8L378.1,33.1L378.6,33.3L379.1,33.5L379.6,33.6L380.1,33.9L380.6,34.0L381.1,34.2L381.6,34.4L382.1,34.6L382.6,34.7L383.1,34.9L383.6,35.1L384.1,35.3L384.6,35.4L385.1,35.6L385.6,35.7L386.1,35.9L386.6,36.1L387.1,36.1L387.6,36.3L388.1,36.4L388.6,36.6L389.1,36.7L389.6,36.8L390.1,37.0L390.6,37.1L391.1,37.2L391.6,37.3L392.1,37.4L392.6,37.5L393.1,37.6L393.6,37.7L394.1,37.8L394.6,37.9L395.1,38.0L395.6,38.1L396.1,38.2L396.6,38.3L397.1,38.4L397.6,38.4L398.1,38.5L398.6,38.6L399.1,38.7L399.6,38.8L400.1,38.9L400.6,38.9L401.1,39.0L401.6,39.1L402.1,39.2L402.6,39.2L403.1,39.3L403.6,39.3L404.1,39.4L404.6,39.4L405.1,39.5L405.6,39.6L406.1,39.6L406.6,39.7L407.1,39.7L407.6,39.8L408.1,39.9L408.6,39.9L409.1,40.0L409.6,40.0L410.1,40.1L410.6,40.1L411.1,40.1L411.6,40.2L412.1,40.2L412.6,40.3L413.1,40.3L413.6,40.4L414.1,40.4L414.6,40.4L415.1,40.5L415.6,40.5L416.1,40.6L416.6,40.6L417.1,40.6L417.6,40.7L418.1,40.7L418.6,40.7L419.1,40.8L419.6,40.8L420.1,40.8L420.6,40.9L421.1,40.9L421.6,41.0L422.1,41.0L422.6,41.0L423.1,41.1L423.6,41.1L424.1,41.1L424.6,41.1L425.1,41.2L425.6,41.1L426.1,41.2L426.6,41.2L427.1,41.3L427.6,41.3L428.1,41.3L428.6,41.3L429.1,41.4L429.6,41.4L430.1,41.4L430.6,41.4L431.1,41.5L431.6,41.5" fill="none" stroke="#f00000" stroke-width="2.0" stroke-linejoin="round"/>
<path d="M263.1,79.9L263.6,79.9L264.1,80.1L264.6,79.7L265.1,79.8L265.6,79.8L266.1,79.5L266.6,79.4L267.1,79.8L267.6,79.7L268.1,79.8L268.6,79.6L269.1,79.6L269.6,79.6L270.1,79.6L270.6,79.5L271.1,79.5L271.6,79.8L272.1,79.7L272.6,79.5L273.1,79.8L273.6,79.4L274.1,79.6L274.6,79.6L275.1,79.3L275.6,79.7L276.1,79.1L276.6,79.3L277.1,79.2L277.6,79.5L278.1,79.3L278.6,79.1L279.1,79.2L279.6,79.0L280.1,79.3L280.6,79.0L281.1,78.9L281.6,79.1L282.1,78.9L282.6,79.0L283.1,79.0L283.6,78.8L284.1,78.6L284.6,78.4L285.1,78.8L285.6,78.7L286.1,78.8L286.6,78.7L287.1,78.6L287.6,78.5L288.1,78.7L288.6,77.9L289.1,78.1L289.6,78.4L290.1,78.3L290.6,78.1L291.1,78.1L291.6,78.3L292.1,78.1L292.6,78.0L293.1,77.6L293.6,78.0L294.1,77.6L294.6,77.8L295.1,77.7L295.6,77.2L296.1,77.2L296.6,77.0L297.1,77.0L297.6,77.3L298.1,77.3L298.6,77.0L299.1,76.8L299.6,76.6L300.1,77.0L300.6,76.5L301.1,76.2L301.6,76.3L302.1,76.3L302.6,75.9L303.1,75.8L303.6,75.4L304.1,75.7L304.6,75.2L305.1,75.4L305.6,75.1L306.1,75.0L306.6,74.6L307.1,74.7L307.6,74.1L308.1,74.2L308.6,74.4L309.1,74.4L309.6,73.3L310.1,73.5L310.6,73.1L311.1,72.8L311.6,72.9L312.1,72.0L312.6,72.3L313.1,71.6L313.6,72.1L314.1,71.5L314.6,71.9L315.1,71.2L315.6,70.6L316.1,69.8L316.6,69.1L317.1,69.7L317.6,69.2L318.1,69.3L318.6,68.3L319.1,68.3L319.6,67.7L320.1,67.8L320.6,67.4L321.1,66.3L321.6,66.5L322.1,66.6L322.6,65.9L323.1,65.9L323.6,64.7L324.1,63.9L324.6,63.9L325.1,63.3L325.6,64.1L326.1,63.1L326.6,63.0L327.1,62.9L327.6,61.9L328.1,60.3L328.6,59.8L329.1,60.8L329.6,60.5L330.1,59.1L330.6,59.5L331.1,59.1L331.6,58.5L332.1,57.3L332.6,58.2L333.1,56.6L333.6,57.1L334.1,55.6L334.6,55.5L335.1,56.1L335.6,54.7L336.1,54.0L336.6,54.5L337.1,54.2L337.6,53.3L338.1,53.9L338.6,53.7L339.1,53.2L339.6,53.9L340.1,52.3L340.6,53.2L341.1,52.2L341.6,51.2L342.1,51.1L342.6,50.8L343.1,50.4L343.6,51.8L344.1,50.5L344.6,51.3L345.1,51.6L345.6,51.4L346.1,52.1L346.6,50.8L347.1,51.1L347.6,52.4L348.1,52.5L348.6,51.8L349.1,51.4L349.6,51.6L350.1,52.7L350.6,53.5L351.1,52.1L351.6,52.6L352.1,52.3L352.6,53.7L353.1,53.3L353.6,53.8L354.1,53.3L354.6,54.7L355.1,54.5L355.6,55.0L356.1,54.5L356.6,54.6L357.1,55.4L357.6,55.6L358.1,56.4L358.6,56.7L359.1,55.6L359.6,55.5L360.1,57.5L360.6,56.9L361.1,57.2L361.6,58.1L362.1,58.1L362.6,58.3L363.1,58.9L363.6,58.8L364.1,59.2L364.6,59.3L365.1,60.0L365.6,59.8L366.1,61.1L366.6,60.9L367.1,61.0L367.6,61.8L368.1,61.8L368.6,62.3L369.1,62.5L369.6,61.9L370.1,63.3L370.6,63.5L371.1,63.1L371.6,64.7L372.1,63.3L372.6,64.6L373.1,64.3L373.6,64.6L374.1,65.3L374.6,65.6L375.1,65.8L375.6,65.1L376.1,66.4L376.6,65.9L377.1,66.3L377.6,66.7L378.1,66.3L378.6,67.5L379.1,67.2L379.6,67.1L380.1,67.5L380.6,67.5L381.1,67.8L381.6,68.5L382.1,68.8L382.6,69.3L383.1,69.8L383.6,69.5L384.1,68.6L384.6,69.8L385.1,69.9L385.6,70.2L386.1,70.4L386.6,70.4L387.1,70.8L387.6,70.9L388.1,71.5L388.6,70.8L389.1,70.8L389.6,71.2L390.1,72.2L390.6,71.0L391.1,71.7L391.6,71.5L392.1,72.0L392.6,72.3L393.1,72.0L393.6,72.8L394.1,73.2L394.6,72.6L395.1,73.1L395.6,72.7L396.1,72.8L396.6,73.4L397.1,73.5L397.6,73.1L398.1,73.7L398.6,74.0L399.1,73.6L399.6,73.4L400.1,74.1L400.6,74.4L401.1,74.2L401.6,74.4L402.1,74.2L402.6,74.5L403.1,74.5L403.6,74.7L404.1,74.9L404.6,74.8L405.1,74.9L405.6,74.6L406.1,74.6L406.6,75.0L407.1,75.2L407.6,75.2L408.1,75.4L408.6,75.4L409.1,75.4L409.6,75.5L410.1,75.7L410.6,75.9L411.1,75.8L411.6,75.5L412.1,75.8L412.6,75.8L413.1,76.1L413.6,76.4L414.1,75.6L414.6,76.1L415.1,76.2L415.6,76.9L416.1,76.3L416.6,76.6L417.1,76.9L417.6,76.5L418.1,76.6L418.6,76.7L419.1,76.8L419.6,76.6L420.1,76.9L420.6,76.8L421.1,76.8L421.6,77.3L422.1,76.7L422.6,77.3L423.1,77.1L423.6,77.2L424.1,77.1L424.6,77.3L425.1,77.5L425.6,77.1L426.1,77.5L426.6,77.0L427.1,77.3L427.6,77.2L428.1,77.5L428.6,77.7L429.1,77.5L429.6,77.7L430.1,77.7L430.6,78.0L431.1,77.4L431.6,77.5" fill="none" stroke="#000" stroke-width="2.1" stroke-linejoin="round"/>
<path d="M263.1,79.3L263.6,79.0L264.1,79.3L264.6,79.3L265.1,79.1L265.6,79.1L266.1,79.3L266.6,79.3L267.1,79.2L267.6,79.3L268.1,79.1L268.6,79.2L269.1,79.4L269.6,79.3L270.1,79.0L270.6,79.0L271.1,79.0L271.6,79.1L272.1,79.1L272.6,78.8L273.1,78.8L273.6,79.0L274.1,78.6L274.6,79.1L275.1,78.9L275.6,78.8L276.1,79.1L276.6,78.9L277.1,78.7L277.6,79.2L278.1,78.8L278.6,78.8L279.1,78.8L279.6,78.7L280.1,78.8L280.6,78.6L281.1,78.8L281.6,78.6L282.1,78.6L282.6,78.7L283.1,78.3L283.6,78.5L284.1,78.5L284.6,78.6L285.1,78.3L285.6,78.2L286.1,78.4L286.6,77.9L287.1,78.4L287.6,77.8L288.1,77.9L288.6,78.2L289.1,78.0L289.6,77.8L290.1,78.1L290.6,77.9L291.1,77.7L291.6,77.8L292.1,77.7L292.6,77.5L293.1,77.7L293.6,77.6L294.1,77.1L294.6,77.4L295.1,77.3L295.6,77.3L296.1,76.9L296.6,77.2L297.1,76.6L297.6,76.7L298.1,76.6L298.6,76.6L299.1,76.5L299.6,76.4L300.1,76.4L300.6,76.6L301.1,76.0L301.6,76.1L302.1,75.8L302.6,75.7L303.1,75.4L303.6,75.3L304.1,75.6L304.6,75.1L305.1,75.0L305.6,74.5L306.1,74.8L306.6,74.6L307.1,74.4L307.6,74.4L308.1,73.9L308.6,73.6L309.1,73.7L309.6,73.5L310.1,73.6L310.6,72.8L311.1,72.7L311.6,72.9L312.1,72.2L312.6,72.7L313.1,72.4L313.6,71.5L314.1,71.5L314.6,71.3L315.1,70.5L315.6,70.2L316.1,70.6L316.6,70.2L317.1,69.4L317.6,69.0L318.1,68.5L318.6,68.1L319.1,68.6L319.6,68.1L320.1,67.6L320.6,66.8L321.1,66.6L321.6,66.7L322.1,65.7L322.6,65.9L323.1,65.3L323.6,64.1L324.1,65.0L324.6,64.0L325.1,63.0L325.6,63.5L326.1,62.5L326.6,63.2L327.1,62.2L327.6,61.9L328.1,62.1L328.6,60.3L329.1,60.8L329.6,60.8L330.1,60.2L330.6,59.0L331.1,59.4L331.6,59.7L332.1,57.9L332.6,57.7L333.1,57.9L333.6,57.2L334.1,56.7L334.6,57.5L335.1,55.7L335.6,56.3L336.1,54.7L336.6,53.4L337.1,54.8L337.6,54.9L338.1,53.9L338.6,55.0L339.1,53.7L339.6,53.8L340.1,53.4L340.6,52.4L341.1,53.6L341.6,53.6L342.1,53.4L342.6,53.2L343.1,53.2L343.6,52.9L344.1,53.1L344.6,52.4L345.1,51.7L345.6,52.5L346.1,52.9L346.6,51.8L347.1,52.3L347.6,53.1L348.1,52.2L348.6,54.2L349.1,53.1L349.6,53.6L350.1,53.5L350.6,53.8L351.1,53.4L351.6,52.9L352.1,52.7L352.6,52.8L353.1,53.4L353.6,53.0L354.1,54.1L354.6,53.9L355.1,54.4L355.6,54.5L356.1,55.7L356.6,55.1L357.1,55.3L357.6,56.9L358.1,56.0L358.6,57.3L359.1,56.5L359.6,56.9L360.1,57.5L360.6,56.8L361.1,58.7L361.6,59.1L362.1,58.2L362.6,59.3L363.1,59.2L363.6,59.1L364.1,60.4L364.6,59.4L365.1,60.1L365.6,60.9L366.1,60.6L366.6,61.3L367.1,60.7L367.6,61.5L368.1,61.9L368.6,61.5L369.1,62.0L369.6,62.4L370.1,62.8L370.6,63.3L371.1,63.4L371.6,63.0L372.1,64.0L372.6,64.9L373.1,64.5L373.6,64.6L374.1,65.0L374.6,65.5L375.1,65.0L375.6,66.4L376.1,65.9L376.6,67.0L377.1,66.2L377.6,66.3L378.1,67.0L378.6,67.5L379.1,67.5L379.6,67.6L380.1,67.9L380.6,68.1L381.1,68.6L381.6,68.4L382.1,68.8L382.6,68.6L383.1,68.9L383.6,68.9L384.1,69.2L384.6,69.3L385.1,69.2L385.6,70.2L386.1,70.2L386.6,70.4L387.1,71.1L387.6,69.9L388.1,70.8L388.6,70.9L389.1,71.4L389.6,71.0L390.1,71.2L390.6,71.1L391.1,71.8L391.6,72.3L392.1,71.6L392.6,72.0L393.1,72.2L393.6,72.1L394.1,71.8L394.6,72.8L395.1,72.2L395.6,73.1L396.1,72.5L396.6,73.3L397.1,73.5L397.6,73.1L398.1,73.0L398.6,73.4L399.1,73.5L399.6,73.3L400.1,73.7L400.6,74.1L401.1,74.1L401.6,74.3L402.1,73.7L402.6,74.0L403.1,74.3L403.6,74.4L404.1,74.7L404.6,74.2L405.1,75.0L405.6,75.0L406.1,75.0L406.6,74.8L407.1,74.6L407.6,74.7L408.1,75.3L408.6,75.1L409.1,75.7L409.6,75.4L410.1,75.1L410.6,75.7L411.1,75.5L411.6,75.6L412.1,75.8L412.6,75.4L413.1,75.5L413.6,76.2L414.1,75.6L414.6,75.7L415.1,75.7L415.6,75.8L416.1,76.0L416.6,76.1L417.1,76.0L417.6,76.1L418.1,76.4L418.6,75.9L419.1,76.3L419.6,76.4L420.1,76.1L420.6,76.8L421.1,76.7L421.6,76.6L422.1,76.8L422.6,76.8L423.1,76.7L423.6,76.8L424.1,76.6L424.6,77.0L425.1,77.0L425.6,76.8L426.1,77.2L426.6,77.4L427.1,76.8L427.6,77.5L428.1,77.4L428.6,77.4L429.1,77.2L429.6,77.7L430.1,77.3L430.6,77.5L431.1,77.3L431.6,77.2" fill="none" stroke="#f00000" stroke-width="2.0" stroke-linejoin="round"/>
<path d="M263.1,117.9L263.6,118.0L264.1,117.5L264.6,117.7L265.1,117.6L265.6,117.5L266.1,117.6L266.6,117.8L267.1,117.9L267.6,117.7L268.1,117.6L268.6,117.7L269.1,117.4L269.6,117.5L270.1,117.4L270.6,117.5L271.1,117.1L271.6,117.5L272.1,117.3L272.6,117.4L273.1,117.4L273.6,117.6L274.1,117.2L274.6,117.0L275.1,117.4L275.6,117.4L276.1,117.1L276.6,117.3L277.1,117.3L277.6,116.8L278.1,116.9L278.6,116.8L279.1,117.3L279.6,116.6L280.1,116.7L280.6,116.9L281.1,117.0L281.6,117.0L282.1,116.8L282.6,116.8L283.1,116.8L283.6,116.7L284.1,116.5L284.6,116.5L285.1,116.5L285.6,116.5L286.1,116.4L286.6,116.1L287.1,116.2L287.6,116.3L288.1,115.9L288.6,115.9L289.1,116.0L289.6,116.0L290.1,115.8L290.6,115.7L291.1,115.7L291.6,115.5L292.1,115.4L292.6,115.0L293.1,115.3L293.6,115.6L294.1,115.0L294.6,114.9L295.1,115.0L295.6,115.0L296.1,115.2L296.6,114.5L297.1,114.6L297.6,114.1L298.1,114.1L298.6,114.0L299.1,114.0L299.6,114.0L300.1,113.8L300.6,113.4L301.1,113.4L301.6,113.0L302.1,113.0L302.6,112.7L303.1,112.7L303.6,112.7L304.1,113.0L304.6,112.1L305.1,112.2L305.6,112.0L306.1,111.6L306.6,111.3L307.1,111.0L307.6,111.1L308.1,110.7L308.6,110.6L309.1,110.7L309.6,109.7L310.1,110.4L310.6,109.5L311.1,109.6L311.6,109.3L312.1,108.9L312.6,108.8L313.1,108.8L313.6,108.1L314.1,108.2L314.6,108.2L315.1,107.3L315.6,106.6L316.1,106.5L316.6,106.5L317.1,106.4L317.6,105.0L318.1,105.3L318.6,104.8L319.1,105.4L319.6,104.0L320.1,104.2L320.6,103.7L321.1,103.7L321.6,103.7L322.1,102.4L322.6,101.6L323.1,102.4L323.6,101.1L324.1,101.1L324.6,101.0L325.1,99.6L325.6,99.7L326.1,99.7L326.6,98.9L327.1,99.7L327.6,97.7L328.1,98.4L328.6,97.3L329.1,97.3L329.6,96.5L330.1,96.7L330.6,96.7L331.1,96.0L331.6,95.3L332.1,93.7L332.6,94.8L333.1,93.2L333.6,94.5L334.1,93.0L334.6,92.2L335.1,92.0L335.6,92.7L336.1,91.9L336.6,92.2L337.1,91.1L337.6,92.0L338.1,92.3L338.6,91.2L339.1,90.3L339.6,89.9L340.1,90.0L340.6,91.1L341.1,89.8L341.6,89.1L342.1,91.7L342.6,91.0L343.1,90.9L343.6,89.4L344.1,90.4L344.6,89.3L345.1,89.5L345.6,90.3L346.1,89.2L346.6,90.0L347.1,89.2L347.6,90.7L348.1,90.0L348.6,90.5L349.1,90.6L349.6,90.1L350.1,90.4L350.6,90.5L351.1,89.6L351.6,91.4L352.1,92.1L352.6,92.4L353.1,91.9L353.6,92.7L354.1,91.9L354.6,92.5L355.1,91.8L355.6,92.8L356.1,93.7L356.6,92.8L357.1,94.0L357.6,95.7L358.1,95.1L358.6,95.0L359.1,95.9L359.6,95.9L360.1,95.5L360.6,97.7L361.1,96.9L361.6,97.2L362.1,97.6L362.6,96.9L363.1,97.6L363.6,98.4L364.1,98.1L364.6,98.6L365.1,98.6L365.6,98.9L366.1,100.1L366.6,99.6L367.1,100.7L367.6,100.7L368.1,100.0L368.6,100.6L369.1,100.9L369.6,102.1L370.1,101.7L370.6,102.5L371.1,102.9L371.6,102.8L372.1,102.6L372.6,103.2L373.1,103.8L373.6,103.7L374.1,104.3L374.6,103.9L375.1,103.9L375.6,104.5L376.1,105.0L376.6,104.6L377.1,105.5L377.6,105.4L378.1,105.3L378.6,106.2L379.1,106.8L379.6,106.0L380.1,107.6L380.6,107.0L381.1,106.8L381.6,107.4L382.1,106.9L382.6,107.8L383.1,107.9L383.6,107.3L384.1,107.6L384.6,108.1L385.1,108.5L385.6,108.9L386.1,108.9L386.6,108.8L387.1,109.5L387.6,109.6L388.1,109.6L388.6,109.6L389.1,109.5L389.6,110.0L390.1,110.7L390.6,110.5L391.1,110.8L391.6,110.2L392.1,110.8L392.6,110.5L393.1,111.2L393.6,111.3L394.1,111.4L394.6,111.8L395.1,111.4L395.6,112.0L396.1,111.8L396.6,111.7L397.1,111.9L397.6,112.3L398.1,112.1L398.6,112.5L399.1,112.5L399.6,112.4L400.1,111.9L400.6,112.7L401.1,113.0L401.6,112.8L402.1,113.2L402.6,112.9L403.1,113.5L403.6,113.7L404.1,113.4L404.6,113.6L405.1,113.2L405.6,114.0L406.1,113.5L406.6,113.9L407.1,114.3L407.6,114.0L408.1,114.0L408.6,114.2L409.1,114.0L409.6,114.0L410.1,114.5L410.6,114.1L411.1,114.3L411.6,114.1L412.1,114.5L412.6,114.3L413.1,114.6L413.6,114.6L414.1,114.7L414.6,114.6L415.1,114.8L415.6,115.2L416.1,115.2L416.6,115.1L417.1,115.2L417.6,114.8L418.1,115.1L418.6,115.3L419.1,115.3L419.6,115.4L420.1,115.1L420.6,115.5L421.1,115.3L421.6,115.5L422.1,115.9L422.6,115.7L423.1,115.6L423.6,115.5L424.1,115.9L424.6,115.3L425.1,115.6L425.6,115.3L426.1,115.8L426.6,115.7L427.1,115.8L427.6,115.7L428.1,116.4L428.6,116.2L429.1,116.2L429.6,115.9L430.1,116.3L430.6,116.1L431.1,116.1L431.6,115.9" fill="none" stroke="#000" stroke-width="2.1" stroke-linejoin="round"/>
<path d="M263.1,117.3L263.6,116.8L264.1,117.1L264.6,116.9L265.1,117.3L265.6,117.3L266.1,117.4L266.6,116.9L267.1,117.4L267.6,117.5L268.1,117.0L268.6,116.9L269.1,117.0L269.6,117.0L270.1,117.2L270.6,116.9L271.1,117.1L271.6,117.0L272.1,116.8L272.6,116.9L273.1,116.9L273.6,116.9L274.1,116.9L274.6,116.8L275.1,116.9L275.6,116.4L276.1,116.6L276.6,116.9L277.1,116.7L277.6,116.6L278.1,116.5L278.6,116.5L279.1,116.5L279.6,116.2L280.1,116.4L280.6,116.4L281.1,116.0L281.6,116.0L282.1,116.3L282.6,116.2L283.1,116.6L283.6,116.6L284.1,115.5L284.6,115.9L285.1,116.3L285.6,116.0L286.1,116.2L286.6,116.1L287.1,115.8L287.6,116.0L288.1,115.7L288.6,115.4L289.1,115.6L289.6,115.8L290.1,115.6L290.6,115.3L291.1,115.6L291.6,115.5L292.1,115.4L292.6,114.6L293.1,114.8L293.6,114.7L294.1,114.6L294.6,114.2L295.1,114.5L295.6,114.7L296.1,114.1L296.6,114.8L297.1,113.9L297.6,114.1L298.1,113.9L298.6,113.5L299.1,113.7L299.6,113.6L300.1,113.4L300.6,113.6L301.1,113.3L301.6,112.6L302.1,113.2L302.6,112.5L303.1,112.0L303.6,112.6L304.1,112.5L304.6,111.8L305.1,111.9L305.6,111.5L306.1,111.7L306.6,111.1L307.1,111.2L307.6,110.5L308.1,110.8L308.6,110.5L309.1,111.0L309.6,110.4L310.1,109.6L310.6,109.2L311.1,109.5L311.6,108.8L312.1,109.1L312.6,108.9L313.1,108.8L313.6,108.5L314.1,108.2L314.6,107.5L315.1,107.2L315.6,107.0L316.1,107.2L316.6,106.2L317.1,106.0L317.6,106.0L318.1,104.9L318.6,104.9L319.1,104.7L319.6,104.2L320.1,103.8L320.6,103.9L321.1,103.0L321.6,103.3L322.1,102.5L322.6,101.6L323.1,100.7L323.6,101.1L324.1,101.5L324.6,100.8L325.1,100.2L325.6,100.1L326.1,100.0L326.6,99.3L327.1,98.5L327.6,99.3L328.1,98.3L328.6,98.2L329.1,97.2L329.6,97.3L330.1,97.4L330.6,96.0L331.1,96.0L331.6,95.6L332.1,94.8L332.6,96.0L333.1,94.0L333.6,94.7L334.1,93.7L334.6,93.7L335.1,93.2L335.6,92.8L336.1,92.8L336.6,91.2L337.1,91.8L337.6,92.2L338.1,92.9L338.6,91.7L339.1,90.9L339.6,91.8L340.1,91.4L340.6,90.2L341.1,90.4L341.6,89.9L342.1,91.3L342.6,89.8L343.1,89.7L343.6,90.5L344.1,91.0L344.6,90.0L345.1,90.9L345.6,89.6L346.1,91.0L346.6,90.7L347.1,90.6L347.6,89.3L348.1,91.4L348.6,90.9L349.1,91.2L349.6,90.5L350.1,92.2L350.6,91.2L351.1,91.9L351.6,91.8L352.1,91.9L352.6,92.7L353.1,92.8L353.6,93.5L354.1,92.6L354.6,93.6L355.1,92.8L355.6,93.7L356.1,92.9L356.6,94.2L357.1,94.3L357.6,94.3L358.1,94.6L358.6,95.2L359.1,96.2L359.6,95.8L360.1,96.2L360.6,96.7L361.1,97.5L361.6,97.6L362.1,97.6L362.6,96.8L363.1,98.3L363.6,97.9L364.1,98.8L364.6,98.4L365.1,99.4L365.6,99.2L366.1,99.5L366.6,100.1L367.1,99.6L367.6,101.1L368.1,100.8L368.6,101.1L369.1,101.0L369.6,102.0L370.1,101.5L370.6,102.7L371.1,102.1L371.6,102.8L372.1,102.7L372.6,103.3L373.1,103.8L373.6,103.5L374.1,103.5L374.6,104.2L375.1,104.2L375.6,104.8L376.1,104.5L376.6,105.0L377.1,105.7L377.6,105.7L378.1,105.5L378.6,105.9L379.1,106.3L379.6,106.7L380.1,106.3L380.6,106.9L381.1,106.7L381.6,106.7L382.1,107.8L382.6,107.9L383.1,108.1L383.6,108.3L384.1,108.1L384.6,108.8L385.1,108.8L385.6,108.5L386.1,108.7L386.6,108.5L387.1,108.5L387.6,109.5L388.1,109.7L388.6,109.4L389.1,110.0L389.6,109.9L390.1,109.6L390.6,110.4L391.1,110.5L391.6,110.6L392.1,110.4L392.6,110.3L393.1,111.0L393.6,111.3L394.1,112.1L394.6,110.7L395.1,111.2L395.6,111.7L396.1,111.7L396.6,112.0L397.1,111.4L397.6,111.6L398.1,112.2L398.6,111.5L399.1,112.1L399.6,111.9L400.1,112.4L400.6,112.4L401.1,113.0L401.6,112.6L402.1,113.1L402.6,112.9L403.1,112.8L403.6,112.6L404.1,113.2L404.6,113.0L405.1,113.7L405.6,113.3L406.1,113.5L406.6,113.6L407.1,112.9L407.6,113.4L408.1,113.7L408.6,113.9L409.1,113.8L409.6,114.2L410.1,114.2L410.6,114.2L411.1,114.4L411.6,113.8L412.1,114.4L412.6,114.2L413.1,114.0L413.6,114.5L414.1,114.7L414.6,114.7L415.1,114.7L415.6,114.5L416.1,115.1L416.6,114.8L417.1,114.6L417.6,114.5L418.1,114.8L418.6,114.5L419.1,115.1L419.6,115.2L420.1,114.9L420.6,114.7L421.1,114.9L421.6,115.5L422.1,115.5L422.6,115.4L423.1,115.6L423.6,115.5L424.1,115.2L424.6,115.2L425.1,115.6L425.6,115.7L426.1,115.0L426.6,115.5L427.1,115.3L427.6,115.2L428.1,115.5L428.6,115.7L429.1,115.7L429.6,115.7L430.1,115.9L430.6,115.7L431.1,115.6L431.6,116.3" fill="none" stroke="#f00000" stroke-width="2.0" stroke-linejoin="round"/>
<path d="M263.1,155.6L263.6,155.0L264.1,155.0L264.6,154.9L265.1,155.1L265.6,155.1L266.1,155.0L266.6,155.1L267.1,155.1L267.6,155.1L268.1,155.0L268.6,154.9L269.1,155.0L269.6,154.6L270.1,154.9L270.6,154.6L271.1,155.0L271.6,155.0L272.1,154.9L272.6,154.8L273.1,155.2L273.6,155.1L274.1,155.0L274.6,154.8L275.1,154.9L275.6,154.7L276.1,154.9L276.6,154.4L277.1,154.8L277.6,154.4L278.1,154.6L278.6,154.7L279.1,154.8L279.6,154.5L280.1,154.4L280.6,154.6L281.1,154.6L281.6,154.5L282.1,154.3L282.6,154.5L283.1,154.1L283.6,154.3L284.1,154.2L284.6,154.4L285.1,154.0L285.6,154.4L286.1,154.4L286.6,154.1L287.1,153.8L287.6,154.1L288.1,153.9L288.6,153.9L289.1,154.0L289.6,153.9L290.1,153.8L290.6,153.4L291.1,153.7L291.6,153.4L292.1,153.6L292.6,152.9L293.1,153.2L293.6,153.2L294.1,153.0L294.6,153.3L295.1,153.3L295.6,153.2L296.1,152.9L296.6,152.8L297.1,153.1L297.6,152.6L298.1,153.0L298.6,152.7L299.1,152.4L299.6,152.7L300.1,152.5L300.6,151.8L301.1,152.1L301.6,151.9L302.1,151.8L302.6,152.1L303.1,151.9L303.6,152.0L304.1,151.6L304.6,151.2L305.1,150.9L305.6,151.0L306.1,150.9L306.6,150.5L307.1,150.3L307.6,150.5L308.1,150.1L308.6,150.4L309.1,149.6L309.6,149.7L310.1,149.4L310.6,149.8L311.1,148.8L311.6,148.5L312.1,148.5L312.6,148.2L313.1,148.4L313.6,148.0L314.1,147.6L314.6,147.2L315.1,146.3L315.6,146.3L316.1,146.3L316.6,145.8L317.1,146.1L317.6,146.1L318.1,145.0L318.6,144.6L319.1,144.6L319.6,144.9L320.1,143.9L320.6,143.3L321.1,143.4L321.6,142.4L322.1,142.1L322.6,142.3L323.1,141.3L323.6,141.4L324.1,140.9L324.6,140.2L325.1,140.5L325.6,140.7L326.1,139.7L326.6,138.7L327.1,138.4L327.6,138.5L328.1,137.6L328.6,137.1L329.1,136.6L329.6,136.5L330.1,136.1L330.6,135.5L331.1,135.5L331.6,135.1L332.1,135.0L332.6,134.0L333.1,133.7L333.6,133.3L334.1,132.4L334.6,132.6L335.1,130.7L335.6,131.7L336.1,130.6L336.6,130.7L337.1,131.0L337.6,130.5L338.1,130.6L338.6,127.4L339.1,129.3L339.6,128.3L340.1,128.9L340.6,127.4L341.1,127.9L341.6,126.9L342.1,126.8L342.6,126.0L343.1,126.7L343.6,126.1L344.1,126.0L344.6,127.4L345.1,125.6L345.6,126.8L346.1,125.8L346.6,125.8L347.1,126.1L347.6,125.7L348.1,127.7L348.6,125.4L349.1,125.9L349.6,126.2L350.1,126.9L350.6,126.8L351.1,126.8L351.6,126.3L352.1,126.7L352.6,127.6L353.1,127.8L353.6,126.5L354.1,125.8L354.6,128.1L355.1,127.7L355.6,128.0L356.1,127.4L356.6,128.5L357.1,128.7L357.6,129.5L358.1,130.3L358.6,129.3L359.1,129.5L359.6,129.7L360.1,130.0L360.6,128.8L361.1,130.2L361.6,130.4L362.1,131.9L362.6,131.7L363.1,131.1L363.6,131.5L364.1,131.7L364.6,131.6L365.1,132.9L365.6,133.4L366.1,133.0L366.6,132.4L367.1,133.8L367.6,134.5L368.1,134.2L368.6,134.0L369.1,134.8L369.6,136.4L370.1,135.7L370.6,136.1L371.1,135.7L371.6,136.5L372.1,136.2L372.6,137.2L373.1,136.4L373.6,136.7L374.1,138.6L374.6,137.8L375.1,138.7L375.6,138.3L376.1,139.2L376.6,138.6L377.1,138.8L377.6,140.1L378.1,140.1L378.6,139.2L379.1,140.0L379.6,140.6L380.1,141.5L380.6,141.1L381.1,141.3L381.6,141.0L382.1,142.2L382.6,142.3L383.1,141.4L383.6,142.5L384.1,141.5L384.6,142.8L385.1,142.7L385.6,143.3L386.1,142.8L386.6,143.8L387.1,143.3L387.6,143.9L388.1,143.9L388.6,144.0L389.1,144.9L389.6,144.7L390.1,145.3L390.6,145.0L391.1,145.4L391.6,145.9L392.1,145.5L392.6,145.6L393.1,145.6L393.6,145.9L394.1,146.5L394.6,146.5L395.1,146.5L395.6,146.7L396.1,147.0L396.6,147.2L397.1,146.8L397.6,146.9L398.1,147.9L398.6,147.5L399.1,147.8L399.6,147.6L400.1,147.5L400.6,147.7L401.1,148.4L401.6,148.1L402.1,148.6L402.6,148.6L403.1,148.2L403.6,148.4L404.1,148.8L404.6,149.3L405.1,149.2L405.6,148.5L406.1,149.3L406.6,149.2L407.1,149.4L407.6,149.7L408.1,149.3L408.6,149.9L409.1,149.7L409.6,149.6L410.1,150.1L410.6,149.8L411.1,149.9L411.6,150.0L412.1,150.4L412.6,150.6L413.1,150.3L413.6,151.0L414.1,150.5L414.6,150.8L415.1,150.8L415.6,150.8L416.1,150.6L416.6,150.9L417.1,150.8L417.6,150.9L418.1,150.9L418.6,151.2L419.1,151.1L419.6,151.3L420.1,151.2L420.6,151.1L421.1,151.2L421.6,151.8L422.1,151.7L422.6,151.7L423.1,151.8L423.6,151.5L424.1,152.0L424.6,151.5L425.1,151.8L425.6,151.8L426.1,151.9L426.6,151.7L427.1,152.3L427.6,151.8L428.1,152.4L428.6,152.3L429.1,152.3L429.6,152.3L430.1,152.3L430.6,152.2L431.1,152.8L431.6,152.4" fill="none" stroke="#000" stroke-width="2.1" stroke-linejoin="round"/>
<path d="M263.1,154.6L263.6,154.9L264.1,155.0L264.6,154.5L265.1,154.6L265.6,154.6L266.1,154.4L266.6,154.4L267.1,154.7L267.6,154.6L268.1,154.7L268.6,154.3L269.1,154.3L269.6,154.4L270.1,154.5L270.6,154.5L271.1,154.4L271.6,154.1L272.1,154.3L272.6,154.7L273.1,154.3L273.6,154.4L274.1,154.3L274.6,154.4L275.1,154.5L275.6,154.0L276.1,154.2L276.6,154.5L277.1,154.1L277.6,154.1L278.1,154.2L278.6,154.2L279.1,153.9L279.6,154.3L280.1,154.1L280.6,154.1L281.1,154.1L281.6,154.0L282.1,154.2L282.6,153.9L283.1,154.0L283.6,153.9L284.1,153.9L284.6,153.8L285.1,153.5L285.6,153.9L286.1,153.5L286.6,153.8L287.1,153.7L287.6,153.4L288.1,153.5L288.6,153.4L289.1,153.5L289.6,153.2L290.1,153.6L290.6,153.3L291.1,153.5L291.6,153.1L292.1,153.0L292.6,153.2L293.1,152.8L293.6,152.8L294.1,153.2L294.6,152.7L295.1,152.8L295.6,152.4L296.1,152.8L296.6,152.3L297.1,152.2L297.6,152.4L298.1,152.1L298.6,151.8L299.1,151.9L299.6,152.1L300.1,151.8L300.6,151.9L301.1,151.9L301.6,151.7L302.1,151.8L302.6,151.4L303.1,151.5L303.6,151.1L304.1,151.3L304.6,151.1L305.1,151.0L305.6,151.3L306.1,150.5L306.6,150.4L307.1,150.4L307.6,150.2L308.1,150.0L308.6,149.8L309.1,149.4L309.6,149.1L310.1,148.7L310.6,148.9L311.1,148.5L311.6,148.1L312.1,148.7L312.6,148.3L313.1,147.9L313.6,147.2L314.1,147.3L314.6,147.1L315.1,146.7L315.6,147.0L316.1,146.6L316.6,145.7L317.1,145.9L317.6,144.9L318.1,145.3L318.6,145.1L319.1,145.0L319.6,143.4L320.1,144.4L320.6,143.2L321.1,143.5L321.6,142.5L322.1,142.6L322.6,142.4L323.1,141.8L323.6,141.7L324.1,140.9L324.6,140.4L325.1,140.0L325.6,139.3L326.1,139.6L326.6,138.9L327.1,139.4L327.6,138.2L328.1,138.5L328.6,136.3L329.1,137.4L329.6,136.9L330.1,136.8L330.6,136.8L331.1,135.7L331.6,135.9L332.1,134.5L332.6,134.0L333.1,134.4L333.6,133.6L334.1,133.6L334.6,132.1L335.1,132.0L335.6,131.9L336.1,131.4L336.6,131.6L337.1,132.3L337.6,130.2L338.1,130.8L338.6,129.5L339.1,128.4L339.6,128.1L340.1,128.1L340.6,127.1L341.1,128.0L341.6,128.3L342.1,126.3L342.6,127.2L343.1,126.5L343.6,127.9L344.1,127.8L344.6,127.1L345.1,126.8L345.6,126.4L346.1,126.6L346.6,127.6L347.1,127.0L347.6,126.8L348.1,127.8L348.6,126.8L349.1,126.9L349.6,126.5L350.1,125.8L350.6,127.0L351.1,126.8L351.6,127.7L352.1,126.4L352.6,126.5L353.1,127.5L353.6,127.2L354.1,127.5L354.6,128.0L355.1,127.5L355.6,128.2L356.1,129.7L356.6,128.8L357.1,128.7L357.6,129.3L358.1,128.9L358.6,129.9L359.1,130.4L359.6,129.8L360.1,130.0L360.6,130.9L361.1,129.8L361.6,131.9L362.1,130.9L362.6,130.6L363.1,131.9L363.6,131.6L364.1,131.7L364.6,132.2L365.1,133.0L365.6,133.5L366.1,132.5L366.6,133.8L367.1,133.6L367.6,134.2L368.1,134.9L368.6,135.1L369.1,135.8L369.6,135.0L370.1,135.8L370.6,136.2L371.1,136.0L371.6,136.2L372.1,136.1L372.6,136.4L373.1,138.2L373.6,137.4L374.1,138.0L374.6,138.3L375.1,138.3L375.6,138.8L376.1,139.2L376.6,138.9L377.1,140.0L377.6,139.8L378.1,139.8L378.6,140.1L379.1,140.9L379.6,141.3L380.1,140.6L380.6,141.3L381.1,141.1L381.6,141.1L382.1,141.7L382.6,142.1L383.1,142.9L383.6,142.0L384.1,142.2L384.6,142.0L385.1,142.5L385.6,143.4L386.1,143.6L386.6,144.2L387.1,144.1L387.6,143.9L388.1,144.4L388.6,144.8L389.1,143.9L389.6,144.0L390.1,144.9L390.6,145.2L391.1,144.5L391.6,145.2L392.1,145.1L392.6,145.7L393.1,146.2L393.6,146.2L394.1,146.5L394.6,146.1L395.1,146.2L395.6,146.8L396.1,146.5L396.6,146.8L397.1,147.1L397.6,146.7L398.1,146.5L398.6,147.7L399.1,147.4L399.6,147.8L400.1,147.8L400.6,147.3L401.1,148.0L401.6,147.9L402.1,148.1L402.6,148.1L403.1,148.3L403.6,148.5L404.1,148.3L404.6,148.8L405.1,149.3L405.6,148.8L406.1,149.4L406.6,149.0L407.1,149.0L407.6,149.0L408.1,149.7L408.6,149.4L409.1,149.3L409.6,149.9L410.1,149.6L410.6,149.8L411.1,149.4L411.6,149.7L412.1,149.9L412.6,150.2L413.1,150.3L413.6,150.3L414.1,150.1L414.6,150.7L415.1,150.4L415.6,150.4L416.1,150.2L416.6,150.8L417.1,150.9L417.6,151.0L418.1,150.7L418.6,151.2L419.1,151.0L419.6,150.5L420.1,151.1L420.6,151.0L421.1,151.3L421.6,151.0L422.1,151.0L422.6,151.3L423.1,151.9L423.6,151.3L424.1,151.3L424.6,151.3L425.1,151.2L425.6,151.4L426.1,151.8L426.6,151.4L427.1,151.6L427.6,151.7L428.1,152.0L428.6,151.9L429.1,151.9L429.6,152.4L430.1,152.4L430.6,152.2L431.1,151.9L431.6,152.2" fill="none" stroke="#f00000" stroke-width="2.0" stroke-linejoin="round"/>
<path d="M263.1,190.6L263.6,190.6L264.1,190.8L264.6,190.9L265.1,191.0L265.6,190.8L266.1,190.6L266.6,190.8L267.1,190.8L267.6,190.9L268.1,191.0L268.6,190.9L269.1,191.0L269.6,190.9L270.1,190.8L270.6,191.0L271.1,190.8L271.6,190.5L272.1,190.9L272.6,190.8L273.1,190.6L273.6,190.9L274.1,190.5L274.6,191.0L275.1,190.3L275.6,190.7L276.1,190.5L276.6,190.6L277.1,190.7L277.6,190.7L278.1,190.7L278.6,190.8L279.1,190.4L279.6,190.5L280.1,190.4L280.6,190.5L281.1,190.1L281.6,190.6L282.1,190.5L282.6,190.5L283.1,190.5L283.6,190.2L284.1,190.2L284.6,190.2L285.1,190.0L285.6,190.1L286.1,190.2L286.6,190.2L287.1,190.1L287.6,190.5L288.1,190.0L288.6,190.1L289.1,190.1L289.6,189.8L290.1,190.1L290.6,189.6L291.1,189.8L291.6,189.8L292.1,189.8L292.6,189.9L293.1,190.0L293.6,189.8L294.1,189.8L294.6,189.5L295.1,189.4L295.6,189.6L296.1,189.3L296.6,189.5L297.1,189.6L297.6,189.6L298.1,189.6L298.6,189.0L299.1,189.3L299.6,189.1L300.1,189.0L300.6,188.8L301.1,188.9L301.6,189.1L302.1,188.7L302.6,188.6L303.1,188.9L303.6,188.4L304.1,188.4L304.6,188.6L305.1,188.5L305.6,188.0L306.1,187.9L306.6,187.7L307.1,187.5L307.6,187.4L308.1,187.5L308.6,187.5L309.1,186.8L309.6,186.8L310.1,186.8L310.6,186.5L311.1,186.1L311.6,185.8L312.1,185.5L312.6,185.7L313.1,185.5L313.6,185.2L314.1,185.1L314.6,184.6L315.1,184.3L315.6,183.5L316.1,184.3L316.6,183.2L317.1,183.4L317.6,183.3L318.1,182.6L318.6,182.4L319.1,181.9L319.6,181.7L320.1,181.0L320.6,180.2L321.1,180.2L321.6,179.3L322.1,179.6L322.6,179.0L323.1,178.9L323.6,177.8L324.1,177.1L324.6,177.2L325.1,176.4L325.6,175.9L326.1,175.2L326.6,174.7L327.1,174.8L327.6,173.9L328.1,173.5L328.6,173.8L329.1,172.9L329.6,171.8L330.1,171.8L330.6,170.3L331.1,169.7L331.6,169.7L332.1,169.2L332.6,168.6L333.1,168.9L333.6,166.7L334.1,167.4L334.6,166.7L335.1,166.3L335.6,165.2L336.1,164.5L336.6,164.4L337.1,164.1L337.6,163.0L338.1,163.8L338.6,162.6L339.1,161.9L339.6,162.9L340.1,162.4L340.6,161.4L341.1,161.8L341.6,161.6L342.1,161.5L342.6,161.2L343.1,162.0L343.6,162.4L344.1,161.8L344.6,162.8L345.1,162.5L345.6,163.3L346.1,162.8L346.6,162.4L347.1,163.1L347.6,163.2L348.1,162.5L348.6,163.0L349.1,164.1L349.6,163.5L350.1,164.7L350.6,163.7L351.1,164.9L351.6,164.9L352.1,164.8L352.6,165.4L353.1,165.6L353.6,167.4L354.1,167.1L354.6,166.8L355.1,168.3L355.6,167.8L356.1,168.0L356.6,168.9L357.1,168.9L357.6,169.1L358.1,169.1L358.6,169.7L359.1,169.9L359.6,170.0L360.1,170.6L360.6,170.9L361.1,171.1L361.6,171.5L362.1,172.7L362.6,173.1L363.1,173.1L363.6,173.0L364.1,173.4L364.6,174.0L365.1,174.7L365.6,174.4L366.1,174.5L366.6,174.9L367.1,175.5L367.6,176.0L368.1,176.7L368.6,175.7L369.1,176.5L369.6,177.1L370.1,176.8L370.6,177.4L371.1,177.2L371.6,178.0L372.1,178.7L372.6,179.2L373.1,178.7L373.6,179.1L374.1,179.8L374.6,179.9L375.1,180.0L375.6,180.3L376.1,180.2L376.6,180.2L377.1,180.6L377.6,181.2L378.1,181.1L378.6,181.6L379.1,181.7L379.6,181.8L380.1,182.1L380.6,181.7L381.1,182.1L381.6,182.6L382.1,182.5L382.6,182.5L383.1,182.9L383.6,182.8L384.1,183.6L384.6,183.6L385.1,183.5L385.6,183.9L386.1,183.8L386.6,184.4L387.1,183.9L387.6,184.6L388.1,184.4L388.6,184.6L389.1,184.5L389.6,184.7L390.1,185.0L390.6,185.0L391.1,185.1L391.6,185.7L392.1,185.1L392.6,185.3L393.1,185.3L393.6,185.2L394.1,185.8L394.6,185.9L395.1,185.7L395.6,185.8L396.1,186.3L396.6,186.0L397.1,186.7L397.6,186.7L398.1,186.6L398.6,186.5L399.1,186.8L399.6,186.4L400.1,187.0L400.6,187.2L401.1,186.6L401.6,186.9L402.1,187.2L402.6,187.1L403.1,187.1L403.6,187.6L404.1,187.4L404.6,187.6L405.1,187.4L405.6,187.5L406.1,187.3L406.6,187.3L407.1,187.5L407.6,187.8L408.1,188.0L408.6,187.6L409.1,188.1L409.6,187.8L410.1,187.7L410.6,188.1L411.1,188.2L411.6,188.0L412.1,188.2L412.6,188.3L413.1,188.4L413.6,188.2L414.1,188.2L414.6,189.0L415.1,188.6L415.6,188.3L416.1,188.6L416.6,188.7L417.1,188.7L417.6,188.3L418.1,188.6L418.6,188.8L419.1,188.9L419.6,189.0L420.1,188.9L420.6,188.7L421.1,189.3L421.6,188.7L422.1,189.0L422.6,189.2L423.1,189.0L423.6,189.3L424.1,189.2L424.6,189.3L425.1,189.4L425.6,189.2L426.1,188.9L426.6,189.4L427.1,189.4L427.6,189.3L428.1,189.4L428.6,189.2L429.1,189.2L429.6,189.5L430.1,189.3L430.6,189.6L431.1,189.4L431.6,189.4" fill="none" stroke="#000" stroke-width="2.1" stroke-linejoin="round"/>
<path d="M263.1,190.3L263.6,190.4L264.1,190.5L264.6,190.5L265.1,190.5L265.6,190.5L266.1,190.4L266.6,190.4L267.1,190.3L267.6,190.5L268.1,190.6L268.6,190.5L269.1,190.6L269.6,190.3L270.1,190.2L270.6,190.3L271.1,190.7L271.6,190.4L272.1,190.4L272.6,190.3L273.1,190.4L273.6,190.3L274.1,190.5L274.6,190.4L275.1,190.5L275.6,189.9L276.1,190.1L276.6,190.2L277.1,189.9L277.6,190.1L278.1,190.3L278.6,190.2L279.1,190.3L279.6,189.9L280.1,190.3L280.6,190.0L281.1,190.2L281.6,189.9L282.1,190.2L282.6,190.0L283.1,189.9L283.6,189.9L284.1,190.0L284.6,190.2L285.1,189.7L285.6,190.0L286.1,189.9L286.6,189.9L287.1,189.9L287.6,189.9L288.1,189.7L288.6,189.6L289.1,189.6L289.6,189.8L290.1,189.8L290.6,189.8L291.1,189.6L291.6,189.5L292.1,189.4L292.6,189.5L293.1,189.3L293.6,189.2L294.1,189.2L294.6,189.0L295.1,189.3L295.6,189.2L296.1,189.4L296.6,189.0L297.1,189.5L297.6,189.0L298.1,188.8L298.6,189.0L299.1,188.7L299.6,189.0L300.1,188.5L300.6,188.4L301.1,189.0L301.6,188.6L302.1,188.4L302.6,188.2L303.1,188.1L303.6,188.0L304.1,188.1L304.6,188.0L305.1,187.4L305.6,187.9L306.1,187.7L306.6,187.7L307.1,187.0L307.6,187.1L308.1,186.9L308.6,186.9L309.1,186.3L309.6,186.7L310.1,186.3L310.6,185.6L311.1,186.2L311.6,185.6L312.1,185.9L312.6,185.0L313.1,185.1L313.6,184.6L314.1,184.8L314.6,184.2L315.1,183.9L315.6,183.7L316.1,183.4L316.6,183.7L317.1,182.9L317.6,182.6L318.1,182.4L318.6,182.1L319.1,181.8L319.6,181.2L320.1,180.9L320.6,180.5L321.1,180.2L321.6,179.8L322.1,179.8L322.6,178.6L323.1,178.1L323.6,178.1L324.1,177.7L324.6,177.5L325.1,176.9L325.6,176.4L326.1,176.5L326.6,175.6L327.1,174.4L327.6,174.4L328.1,173.3L328.6,173.2L329.1,172.4L329.6,171.9L330.1,171.1L330.6,171.0L331.1,170.7L331.6,170.2L332.1,169.5L332.6,168.8L333.1,168.5L333.6,168.5L334.1,166.9L334.6,166.1L335.1,166.3L335.6,165.8L336.1,166.1L336.6,165.8L337.1,165.6L337.6,163.6L338.1,164.6L338.6,164.7L339.1,164.0L339.6,164.3L340.1,163.8L340.6,163.0L341.1,163.7L341.6,163.1L342.1,161.9L342.6,163.2L343.1,162.2L343.6,162.7L344.1,161.7L344.6,162.6L345.1,163.5L345.6,163.0L346.1,162.2L346.6,162.8L347.1,164.4L347.6,163.6L348.1,164.4L348.6,165.3L349.1,164.6L349.6,164.8L350.1,165.9L350.6,164.0L351.1,165.7L351.6,165.9L352.1,166.4L352.6,166.6L353.1,166.4L353.6,166.4L354.1,168.1L354.6,168.0L355.1,167.0L355.6,167.8L356.1,169.0L356.6,169.2L357.1,169.1L357.6,169.5L358.1,169.8L358.6,170.5L359.1,170.5L359.6,170.9L360.1,170.8L360.6,172.2L361.1,171.5L361.6,172.2L362.1,172.6L362.6,172.8L363.1,172.7L363.6,173.3L364.1,173.8L364.6,173.3L365.1,174.6L365.6,175.9L366.1,174.8L366.6,175.1L367.1,175.8L367.6,175.8L368.1,175.8L368.6,176.6L369.1,176.6L369.6,176.9L370.1,177.7L370.6,177.8L371.1,178.1L371.6,178.6L372.1,178.6L372.6,179.0L373.1,178.9L373.6,179.4L374.1,179.9L374.6,179.5L375.1,179.9L375.6,179.7L376.1,180.2L376.6,180.5L377.1,180.9L377.6,180.8L378.1,181.5L378.6,181.7L379.1,181.7L379.6,182.3L380.1,181.6L380.6,181.4L381.1,182.0L381.6,182.1L382.1,182.2L382.6,182.5L383.1,183.0L383.6,183.3L384.1,183.0L384.6,183.5L385.1,183.4L385.6,183.6L386.1,184.1L386.6,183.8L387.1,184.1L387.6,184.1L388.1,184.0L388.6,184.6L389.1,185.1L389.6,184.6L390.1,184.9L390.6,185.2L391.1,185.0L391.6,185.1L392.1,185.1L392.6,184.9L393.1,185.2L393.6,185.6L394.1,185.7L394.6,185.4L395.1,186.1L395.6,185.4L396.1,185.6L396.6,186.0L397.1,185.8L397.6,186.0L398.1,186.3L398.6,186.0L399.1,186.1L399.6,186.6L400.1,186.8L400.6,186.6L401.1,186.9L401.6,186.3L402.1,186.6L402.6,187.1L403.1,187.0L403.6,187.0L404.1,186.8L404.6,186.7L405.1,187.3L405.6,187.4L406.1,187.3L406.6,187.4L407.1,187.4L407.6,187.3L408.1,187.3L408.6,187.4L409.1,187.4L409.6,187.9L410.1,187.7L410.6,187.7L411.1,188.0L411.6,187.9L412.1,187.9L412.6,187.9L413.1,188.1L413.6,187.8L414.1,188.1L414.6,187.9L415.1,188.0L415.6,188.1L416.1,188.1L416.6,188.3L417.1,188.3L417.6,188.7L418.1,188.4L418.6,188.5L419.1,188.3L419.6,188.4L420.1,188.5L420.6,188.7L421.1,188.6L421.6,188.5L422.1,188.5L422.6,188.6L423.1,188.8L423.6,188.4L424.1,188.9L424.6,188.7L425.1,188.5L425.6,188.7L426.1,189.0L426.6,189.0L427.1,188.7L427.6,188.8L428.1,189.2L428.6,189.1L429.1,189.3L429.6,189.2L430.1,189.0L430.6,189.1L431.1,188.9L431.6,189.1" fill="none" stroke="#f00000" stroke-width="2.0" stroke-linejoin="round"/>
<path d="M263.1,232.6L263.6,232.5L264.1,232.3L264.6,232.2L265.1,232.4L265.6,232.0L266.1,232.3L266.6,232.6L267.1,232.3L267.6,232.0L268.1,232.3L268.6,232.2L269.1,232.4L269.6,232.0L270.1,232.3L270.6,232.1L271.1,232.4L271.6,232.3L272.1,232.0L272.6,232.3L273.1,232.1L273.6,232.3L274.1,232.2L274.6,232.2L275.1,232.0L275.6,232.0L276.1,231.9L276.6,232.0L277.1,231.6L277.6,232.2L278.1,231.9L278.6,231.9L279.1,231.6L279.6,231.7L280.1,231.6L280.6,231.9L281.1,231.6L281.6,231.6L282.1,231.9L282.6,231.6L283.1,231.4L283.6,231.2L284.1,231.6L284.6,231.9L285.1,231.7L285.6,231.6L286.1,231.3L286.6,231.7L287.1,231.3L287.6,231.6L288.1,231.8L288.6,231.4L289.1,231.0L289.6,231.2L290.1,231.1L290.6,231.1L291.1,231.3L291.6,231.4L292.1,231.2L292.6,230.9L293.1,231.0L293.6,230.7L294.1,230.8L294.6,230.7L295.1,230.8L295.6,230.7L296.1,230.6L296.6,230.4L297.1,230.3L297.6,230.5L298.1,230.4L298.6,230.3L299.1,229.9L299.6,230.1L300.1,229.9L300.6,229.9L301.1,230.1L301.6,229.7L302.1,229.5L302.6,228.9L303.1,229.1L303.6,228.7L304.1,228.8L304.6,229.0L305.1,229.0L305.6,228.5L306.1,227.9L306.6,228.5L307.1,228.2L307.6,227.8L308.1,227.1L308.6,227.7L309.1,227.2L309.6,227.1L310.1,226.3L310.6,226.4L311.1,226.8L311.6,225.9L312.1,226.1L312.6,225.6L313.1,225.4L313.6,225.3L314.1,224.6L314.6,224.6L315.1,224.3L315.6,223.7L316.1,223.7L316.6,223.2L317.1,222.6L317.6,223.1L318.1,222.5L318.6,221.8L319.1,221.7L319.6,220.6L320.1,220.7L320.6,220.4L321.1,220.1L321.6,219.1L322.1,219.0L322.6,218.7L323.1,217.8L323.6,218.5L324.1,217.0L324.6,216.0L325.1,216.1L325.6,216.4L326.1,214.6L326.6,215.6L327.1,214.7L327.6,213.9L328.1,213.4L328.6,213.5L329.1,211.7L329.6,211.6L330.1,210.9L330.6,211.0L331.1,209.9L331.6,209.4L332.1,208.9L332.6,208.8L333.1,208.5L333.6,207.2L334.1,207.1L334.6,206.6L335.1,206.5L335.6,206.6L336.1,204.9L336.6,204.3L337.1,204.2L337.6,204.0L338.1,204.3L338.6,203.3L339.1,203.5L339.6,202.9L340.1,203.5L340.6,202.5L341.1,203.1L341.6,202.6L342.1,200.9L342.6,201.7L343.1,201.3L343.6,201.2L344.1,201.7L344.6,200.9L345.1,202.1L345.6,203.0L346.1,203.0L346.6,202.1L347.1,202.4L347.6,201.7L348.1,202.6L348.6,202.2L349.1,202.6L349.6,202.9L350.1,203.5L350.6,203.2L351.1,204.5L351.6,203.6L352.1,204.7L352.6,204.6L353.1,204.5L353.6,205.7L354.1,205.5L354.6,205.3L355.1,206.5L355.6,205.9L356.1,206.7L356.6,206.3L357.1,207.6L357.6,206.3L358.1,207.4L358.6,208.2L359.1,209.1L359.6,208.7L360.1,210.1L360.6,209.8L361.1,210.1L361.6,209.7L362.1,211.5L362.6,211.1L363.1,211.6L363.6,212.3L364.1,213.0L364.6,212.8L365.1,213.7L365.6,213.5L366.1,213.7L366.6,214.4L367.1,215.5L367.6,215.2L368.1,215.0L368.6,215.9L369.1,216.2L369.6,216.1L370.1,216.8L370.6,217.0L371.1,216.6L371.6,217.8L372.1,217.2L372.6,218.3L373.1,218.0L373.6,218.4L374.1,218.9L374.6,219.0L375.1,219.6L375.6,219.8L376.1,220.6L376.6,220.0L377.1,220.4L377.6,220.8L378.1,220.7L378.6,220.8L379.1,221.2L379.6,221.6L380.1,222.5L380.6,221.4L381.1,222.1L381.6,221.9L382.1,223.3L382.6,222.7L383.1,223.2L383.6,222.6L384.1,223.5L384.6,223.7L385.1,223.9L385.6,224.3L386.1,224.3L386.6,224.8L387.1,224.4L387.6,224.2L388.1,224.9L388.6,225.0L389.1,224.8L389.6,225.2L390.1,225.3L390.6,225.2L391.1,225.3L391.6,226.2L392.1,225.9L392.6,226.1L393.1,226.4L393.6,225.9L394.1,226.2L394.6,226.5L395.1,226.8L395.6,226.8L396.1,226.8L396.6,226.9L397.1,227.0L397.6,227.2L398.1,226.7L398.6,227.7L399.1,227.1L399.6,227.5L400.1,227.7L400.6,227.4L401.1,227.5L401.6,227.8L402.1,227.8L402.6,228.0L403.1,228.0L403.6,228.3L404.1,228.3L404.6,228.1L405.1,228.3L405.6,228.5L406.1,228.3L406.6,228.2L407.1,228.5L407.6,228.6L408.1,228.5L408.6,228.6L409.1,229.3L409.6,229.1L410.1,229.0L410.6,229.4L411.1,229.5L411.6,229.2L412.1,229.7L412.6,229.1L413.1,228.9L413.6,229.2L414.1,229.6L414.6,229.6L415.1,230.1L415.6,230.0L416.1,229.7L416.6,229.5L417.1,229.5L417.6,230.0L418.1,229.7L418.6,229.9L419.1,229.9L419.6,230.1L420.1,230.5L420.6,230.1L421.1,230.5L421.6,230.1L422.1,229.9L422.6,230.4L423.1,229.7L423.6,230.4L424.1,230.2L424.6,230.3L425.1,230.2L425.6,230.4L426.1,230.3L426.6,230.3L427.1,230.5L427.6,230.8L428.1,230.7L428.6,230.7L429.1,230.4L429.6,230.7L430.1,230.7L430.6,230.8L431.1,230.7L431.6,230.6" fill="none" stroke="#000" stroke-width="2.1" stroke-linejoin="round"/>
<path d="M263.1,232.0L263.6,231.7L264.1,232.1L264.6,232.2L265.1,232.1L265.6,231.6L266.1,231.7L266.6,231.9L267.1,231.8L267.6,231.8L268.1,231.9L268.6,231.6L269.1,231.9L269.6,231.9L270.1,231.9L270.6,231.6L271.1,231.8L271.6,231.7L272.1,231.8L272.6,231.4L273.1,231.5L273.6,231.5L274.1,231.7L274.6,231.4L275.1,231.3L275.6,231.4L276.1,231.7L276.6,231.9L277.1,231.8L277.6,231.6L278.1,231.2L278.6,231.5L279.1,231.4L279.6,231.5L280.1,231.4L280.6,231.4L281.1,231.1L281.6,231.3L282.1,231.2L282.6,231.5L283.1,230.8L283.6,230.9L284.1,231.2L284.6,231.1L285.1,231.4L285.6,231.1L286.1,231.0L286.6,230.9L287.1,231.0L287.6,231.1L288.1,230.9L288.6,230.9L289.1,230.9L289.6,230.3L290.1,230.3L290.6,230.8L291.1,230.8L291.6,230.7L292.1,230.6L292.6,230.6L293.1,230.3L293.6,230.3L294.1,230.4L294.6,230.1L295.1,230.2L295.6,230.3L296.1,229.9L296.6,230.3L297.1,230.1L297.6,229.9L298.1,229.7L298.6,230.0L299.1,229.5L299.6,229.9L300.1,229.8L300.6,229.3L301.1,229.5L301.6,229.7L302.1,229.2L302.6,229.0L303.1,229.1L303.6,228.7L304.1,228.7L304.6,228.2L305.1,228.2L305.6,228.3L306.1,228.1L306.6,227.8L307.1,227.5L307.6,227.4L308.1,227.5L308.6,227.2L309.1,227.1L309.6,226.7L310.1,226.5L310.6,226.2L311.1,226.4L311.6,225.8L312.1,225.5L312.6,225.8L313.1,225.0L313.6,225.1L314.1,225.0L314.6,224.8L315.1,223.6L315.6,223.7L316.1,223.6L316.6,223.2L317.1,222.7L317.6,223.1L318.1,221.9L318.6,221.3L319.1,221.3L319.6,220.7L320.1,220.6L320.6,220.1L321.1,219.7L321.6,218.9L322.1,219.9L322.6,218.6L323.1,217.8L323.6,217.5L324.1,216.9L324.6,217.2L325.1,216.1L325.6,215.5L326.1,215.7L326.6,214.9L327.1,215.5L327.6,213.3L328.1,212.4L328.6,213.3L329.1,212.3L329.6,212.6L330.1,211.4L330.6,211.5L331.1,210.0L331.6,210.4L332.1,208.8L332.6,207.7L333.1,207.9L333.6,207.6L334.1,208.3L334.6,207.0L335.1,207.0L335.6,206.6L336.1,204.6L336.6,205.9L337.1,204.8L337.6,205.0L338.1,204.5L338.6,203.7L339.1,204.1L339.6,202.7L340.1,202.3L340.6,203.6L341.1,202.3L341.6,202.5L342.1,202.8L342.6,203.0L343.1,201.8L343.6,201.8L344.1,203.0L344.6,202.0L345.1,202.7L345.6,202.6L346.1,202.4L346.6,202.8L347.1,202.7L347.6,202.6L348.1,204.2L348.6,203.8L349.1,203.0L349.6,203.2L350.1,203.0L350.6,203.9L351.1,203.7L351.6,204.5L352.1,204.2L352.6,204.2L353.1,204.8L353.6,205.6L354.1,206.2L354.6,206.3L355.1,206.4L355.6,207.2L356.1,207.3L356.6,208.7L357.1,208.0L357.6,208.2L358.1,208.8L358.6,208.9L359.1,209.4L359.6,209.4L360.1,209.2L360.6,211.0L361.1,209.8L361.6,210.5L362.1,211.7L362.6,212.3L363.1,212.1L363.6,212.1L364.1,212.7L364.6,213.1L365.1,213.3L365.6,213.3L366.1,214.1L366.6,214.2L367.1,214.8L367.6,215.1L368.1,215.1L368.6,216.3L369.1,215.5L369.6,215.9L370.1,217.2L370.6,217.0L371.1,217.3L371.6,217.2L372.1,217.1L372.6,217.8L373.1,217.2L373.6,219.1L374.1,218.9L374.6,218.6L375.1,219.0L375.6,219.9L376.1,219.7L376.6,220.6L377.1,220.5L377.6,220.6L378.1,221.3L378.6,221.3L379.1,221.4L379.6,221.2L380.1,222.5L380.6,221.9L381.1,221.9L381.6,222.4L382.1,222.6L382.6,222.8L383.1,223.3L383.6,223.1L384.1,223.5L384.6,223.5L385.1,223.6L385.6,224.1L386.1,223.3L386.6,223.2L387.1,224.2L387.6,224.0L388.1,224.1L388.6,224.8L389.1,224.7L389.6,224.9L390.1,225.1L390.6,225.0L391.1,225.5L391.6,225.4L392.1,225.4L392.6,225.6L393.1,226.2L393.6,225.9L394.1,226.2L394.6,226.0L395.1,226.2L395.6,226.1L396.1,226.6L396.6,226.6L397.1,226.6L397.6,227.2L398.1,226.8L398.6,227.2L399.1,227.4L399.6,227.1L400.1,227.5L400.6,227.4L401.1,227.6L401.6,228.0L402.1,227.4L402.6,227.4L403.1,228.0L403.6,227.5L404.1,227.7L404.6,228.0L405.1,228.1L405.6,228.1L406.1,228.0L406.6,228.2L407.1,228.4L407.6,228.0L408.1,228.5L408.6,227.8L409.1,228.5L409.6,228.7L410.1,228.4L410.6,228.6L411.1,229.0L411.6,229.1L412.1,228.6L412.6,229.0L413.1,229.1L413.6,228.8L414.1,229.1L414.6,229.3L415.1,229.4L415.6,229.4L416.1,229.6L416.6,229.8L417.1,229.2L417.6,229.5L418.1,229.1L418.6,229.4L419.1,229.4L419.6,229.7L420.1,230.1L420.6,229.4L421.1,229.8L421.6,229.7L422.1,230.0L422.6,230.0L423.1,229.7L423.6,229.7L424.1,229.6L424.6,229.7L425.1,230.1L425.6,230.2L426.1,230.1L426.6,229.9L427.1,230.2L427.6,229.9L428.1,230.0L428.6,230.3L429.1,230.3L429.6,230.3L430.1,230.3L430.6,230.2L431.1,230.6L431.6,230.6" fill="none" stroke="#f00000" stroke-width="2.0" stroke-linejoin="round"/>
<rect x="262.5" y="9.6" width="169.8" height="224.4" fill="none" stroke="#222" stroke-width="1.2"/>
<line x1="290.85" y1="234.0" x2="290.85" y2="230.0" stroke="#222" stroke-width="1"/>
<line x1="319.20" y1="234.0" x2="319.20" y2="231.4" stroke="#222" stroke-width="1"/>
<line x1="347.55" y1="234.0" x2="347.55" y2="230.0" stroke="#222" stroke-width="1"/>
<line x1="375.90" y1="234.0" x2="375.90" y2="231.4" stroke="#222" stroke-width="1"/>
<line x1="404.25" y1="234.0" x2="404.25" y2="230.0" stroke="#222" stroke-width="1"/>
<text x="290.85" y="250.30" font-family='"Liberation Sans", sans-serif' font-size="14.2" fill="#0a0a0a" stroke="#0a0a0a" stroke-width="0.2" text-anchor="middle" font-weight="normal" font-style="normal" >620</text>
<text x="347.55" y="250.30" font-family='"Liberation Sans", sans-serif' font-size="14.2" fill="#0a0a0a" stroke="#0a0a0a" stroke-width="0.2" text-anchor="middle" font-weight="normal" font-style="normal" >640</text>
<text x="404.25" y="250.30" font-family='"Liberation Sans", sans-serif' font-size="14.2" fill="#0a0a0a" stroke="#0a0a0a" stroke-width="0.2" text-anchor="middle" font-weight="normal" font-style="normal" >660</text>
<text x="346.40" y="269.30" font-family='"Liberation Sans", sans-serif' font-size="14.4" fill="#0a0a0a" stroke="#0a0a0a" stroke-width="0.2" text-anchor="middle" font-weight="normal" font-style="normal" >Wavelength (nm)</text>
<text transform="translate(253.4,114.1) rotate(-90)" font-family='"Liberation Sans", sans-serif' font-size="14.5" fill="#0a0a0a" stroke="#0a0a0a" stroke-width="0.2" text-anchor="middle" xml:space="preserve">PL intensity  (a.u.)</text>
<text x="265.80" y="25.80" font-family='"Liberation Sans", sans-serif' font-size="14.4" fill="#0a0a0a" stroke="#0a0a0a" stroke-width="0.2" text-anchor="start">WS<tspan font-size="10.37" dy="3.6">2</tspan></text>
<text x="241.00" y="13.20" font-family='"Liberation Sans", sans-serif' font-size="19" fill="#000" stroke="#000" stroke-width="0" text-anchor="start" font-weight="bold" font-style="normal" >b</text>
<rect x="498.8" y="9.3" width="185.59999999999997" height="224.89999999999998" fill="none" stroke="#222" stroke-width="1.2"/>
<line x1="519.40" y1="234.2" x2="519.40" y2="231.6" stroke="#222" stroke-width="1"/>
<line x1="540.00" y1="234.2" x2="540.00" y2="230.2" stroke="#222" stroke-width="1"/>
<line x1="560.60" y1="234.2" x2="560.60" y2="231.6" stroke="#222" stroke-width="1"/>
<line x1="581.20" y1="234.2" x2="581.20" y2="230.2" stroke="#222" stroke-width="1"/>
<line x1="601.80" y1="234.2" x2="601.80" y2="231.6" stroke="#222" stroke-width="1"/>
<line x1="622.40" y1="234.2" x2="622.40" y2="230.2" stroke="#222" stroke-width="1"/>
<line x1="643.00" y1="234.2" x2="643.00" y2="231.6" stroke="#222" stroke-width="1"/>
<line x1="663.60" y1="234.2" x2="663.60" y2="230.2" stroke="#222" stroke-width="1"/>
<line x1="498.8" y1="212.85" x2="501.40000000000003" y2="212.85" stroke="#222" stroke-width="1"/>
<line x1="498.8" y1="191.20" x2="502.8" y2="191.20" stroke="#222" stroke-width="1"/>
<line x1="498.8" y1="169.55" x2="501.40000000000003" y2="169.55" stroke="#222" stroke-width="1"/>
<line x1="498.8" y1="147.90" x2="502.8" y2="147.90" stroke="#222" stroke-width="1"/>
<line x1="498.8" y1="126.25" x2="501.40000000000003" y2="126.25" stroke="#222" stroke-width="1"/>
<line x1="498.8" y1="104.60" x2="502.8" y2="104.60" stroke="#222" stroke-width="1"/>
<line x1="498.8" y1="82.95" x2="501.40000000000003" y2="82.95" stroke="#222" stroke-width="1"/>
<line x1="498.8" y1="61.30" x2="502.8" y2="61.30" stroke="#222" stroke-width="1"/>
<line x1="498.8" y1="39.65" x2="501.40000000000003" y2="39.65" stroke="#222" stroke-width="1"/>
<line x1="498.8" y1="18.00" x2="502.8" y2="18.00" stroke="#222" stroke-width="1"/>
<text x="498.80" y="251.00" font-family='"Liberation Sans", sans-serif' font-size="13.8" fill="#0a0a0a" stroke="#0a0a0a" stroke-width="0.2" text-anchor="middle" font-weight="normal" font-style="normal" >8</text>
<text x="540.00" y="251.00" font-family='"Liberation Sans", sans-serif' font-size="13.8" fill="#0a0a0a" stroke="#0a0a0a" stroke-width="0.2" text-anchor="middle" font-weight="normal" font-style="normal" >12</text>
<text x="581.20" y="251.00" font-family='"Liberation Sans", sans-serif' font-size="13.8" fill="#0a0a0a" stroke="#0a0a0a" stroke-width="0.2" text-anchor="middle" font-weight="normal" font-style="normal" >16</text>
<text x="622.40" y="251.00" font-family='"Liberation Sans", sans-serif' font-size="13.8" fill="#0a0a0a" stroke="#0a0a0a" stroke-width="0.2" text-anchor="middle" font-weight="normal" font-style="normal" >20</text>
<text x="663.60" y="251.00" font-family='"Liberation Sans", sans-serif' font-size="13.8" fill="#0a0a0a" stroke="#0a0a0a" stroke-width="0.2" text-anchor="middle" font-weight="normal" font-style="normal" >24</text>
<text x="492.20" y="22.80" font-family='"Liberation Sans", sans-serif' font-size="13.8" fill="#0a0a0a" stroke="#0a0a0a" stroke-width="0.2" text-anchor="end" font-weight="normal" font-style="normal" >1.0</text>
<text x="492.20" y="66.10" font-family='"Liberation Sans", sans-serif' font-size="13.8" fill="#0a0a0a" stroke="#0a0a0a" stroke-width="0.2" text-anchor="end" font-weight="normal" font-style="normal" >0.9</text>
<text x="492.20" y="109.40" font-family='"Liberation Sans", sans-serif' font-size="13.8" fill="#0a0a0a" stroke="#0a0a0a" stroke-width="0.2" text-anchor="end" font-weight="normal" font-style="normal" >0.8</text>
<text x="492.20" y="152.70" font-family='"Liberation Sans", sans-serif' font-size="13.8" fill="#0a0a0a" stroke="#0a0a0a" stroke-width="0.2" text-anchor="end" font-weight="normal" font-style="normal" >0.7</text>
<text x="492.20" y="196.00" font-family='"Liberation Sans", sans-serif' font-size="13.8" fill="#0a0a0a" stroke="#0a0a0a" stroke-width="0.2" text-anchor="end" font-weight="normal" font-style="normal" >0.6</text>
<text x="492.20" y="239.30" font-family='"Liberation Sans", sans-serif' font-size="13.8" fill="#0a0a0a" stroke="#0a0a0a" stroke-width="0.2" text-anchor="end" font-weight="normal" font-style="normal" >0.5</text>
<text x="591.50" y="270.00" font-family='"Liberation Sans", sans-serif' font-size="14.4" fill="#0a0a0a" stroke="#0a0a0a" stroke-width="0.2" text-anchor="middle" font-weight="normal" font-style="normal" >Thickness (nm)</text>
<text transform="translate(461.8,122) rotate(-90)" font-family='"Liberation Serif", serif' font-size="14" font-style="italic" fill="#1a1a1a" text-anchor="middle">&#961;</text>
<text x="633.60" y="199.80" font-family='"Liberation Sans", sans-serif' font-size="14.4" fill="#0a0a0a" stroke="#0a0a0a" stroke-width="0.2" text-anchor="start">PbI<tspan font-size="10.37" dy="3.6">2</tspan></text>
<text x="449.00" y="13.50" font-family='"Liberation Sans", sans-serif' font-size="19" fill="#000" stroke="#000" stroke-width="0" text-anchor="start" font-weight="bold" font-style="normal" >c</text>
<line x1="585.1" y1="52.1" x2="602" y2="52.1" stroke="#0a14f0" stroke-width="2"/>
<text x="607.20" y="35.20" font-family='"Liberation Sans", sans-serif' font-size="12.8" fill="#0a0a0a" stroke="#0a0a0a" stroke-width="0.2" text-anchor="start" font-weight="normal" font-style="normal" >Experimental</text>
<text x="607.20" y="56.40" font-family='"Liberation Sans", sans-serif' font-size="12.8" fill="#0a0a0a" stroke="#0a0a0a" stroke-width="0.2" text-anchor="start" font-weight="normal" font-style="normal" >Simulation</text>
<circle cx="594.10" cy="30.90" r="4.9" fill="url(#gblk)"/>
<circle cx="511.16" cy="18.00" r="4.8" fill="url(#gblk)"/>
<circle cx="533.82" cy="56.75" r="4.8" fill="url(#gblk)"/>
<circle cx="556.48" cy="81.87" r="4.8" fill="url(#gblk)"/>
<circle cx="599.74" cy="128.20" r="4.8" fill="url(#gblk)"/>
<circle cx="603.86" cy="130.80" r="4.8" fill="url(#gblk)"/>
<circle cx="649.18" cy="150.71" r="4.8" fill="url(#gblk)"/>
<path d="M508.1,18.1L509.1,18.6L510.1,19.0L511.1,19.5L512.1,20.1L513.0,20.8L514.0,21.5L515.0,22.2L516.0,23.0L517.0,23.8L518.0,24.7L519.0,25.7L520.0,26.7L520.9,27.7L521.9,28.8L522.9,29.9L523.9,31.0L524.9,32.2L525.9,33.5L526.9,34.7L527.9,36.1L528.8,37.4L529.8,38.8L530.8,40.2L531.8,41.6L532.8,43.1L533.8,44.6L534.8,46.1L535.8,47.6L536.7,49.2L537.7,50.8L538.7,52.4L539.7,54.0L540.7,55.6L541.7,57.3L542.7,59.0L543.7,60.6L544.6,62.3L545.6,64.0L546.6,65.8L547.6,67.5L548.6,69.2L549.6,71.0L550.6,72.7L551.6,74.4L552.5,76.2L553.5,77.9L554.5,79.7L555.5,81.4L556.5,83.2L557.5,84.9L558.5,86.6L559.5,88.3L560.4,90.0L561.4,91.7L562.4,93.4L563.4,95.1L564.4,96.7L565.4,98.4L566.4,100.0L567.4,101.6L568.3,103.2L569.3,104.7L570.3,106.3L571.3,107.8L572.3,109.3L573.3,110.7L574.3,112.2L575.3,113.6L576.2,114.9L577.2,116.3L578.2,117.6L579.2,118.9L580.2,120.2L581.2,121.4L582.2,122.6L583.2,123.8L584.1,125.0L585.1,126.1L586.1,127.2L587.1,128.3L588.1,129.4L589.1,130.4L590.1,131.5L591.1,132.5L592.0,133.4L593.0,134.4L594.0,135.3L595.0,136.2L596.0,137.1L597.0,138.0L598.0,138.9L599.0,139.7L599.9,140.5L600.9,141.3L601.9,142.1L602.9,142.8L603.9,143.6L604.9,144.3L605.9,145.0L606.9,145.7L607.8,146.4L608.8,147.1L609.8,147.7L610.8,148.3L611.8,149.0L612.8,149.6L613.8,150.2L614.8,150.7L615.7,151.3L616.7,151.9L617.7,152.4L618.7,152.9L619.7,153.4L620.7,153.9L621.7,154.4L622.7,154.9L623.6,155.4L624.6,155.8L625.6,156.3L626.6,156.7L627.6,157.1L628.6,157.6L629.6,158.0L630.6,158.4L631.5,158.8L632.5,159.2L633.5,159.5L634.5,159.9L635.5,160.3L636.5,160.6L637.5,160.9L638.5,161.3L639.4,161.6L640.4,161.9L641.4,162.3L642.4,162.6L643.4,162.9L644.4,163.2L645.4,163.5L646.4,163.8L647.3,164.1L648.3,164.4L649.3,164.6L650.3,164.9L651.3,165.2L652.3,165.5L653.3,165.7L654.3,166.0L655.2,166.3L656.2,166.5L657.2,166.8L658.2,167.0L659.2,167.3L660.2,167.6L661.2,167.8L662.2,168.1L663.1,168.3L664.1,168.6L665.1,168.9L666.1,169.1L667.1,169.4L668.1,169.6L669.1,169.9L670.1,170.2L671.0,170.4L672.0,170.7L673.0,171.0L674.0,171.3L675.0,171.5" fill="none" stroke="#0a14f0" stroke-width="2.1"/>
<text x="-0.60" y="302.30" font-family='"Liberation Sans", sans-serif' font-size="19" fill="#000" stroke="#000" stroke-width="0" text-anchor="start" font-weight="bold" font-style="normal" >d</text>
<g opacity="0.6">
<ellipse cx="137.00" cy="340.00" rx="26" ry="24" fill="url(#glowO)"/>
</g>
<g transform="rotate(35 220 347)" opacity="0.6">
<ellipse cx="220.00" cy="347.00" rx="14" ry="28" fill="url(#glowPL)"/>
</g>
<path d="M123.4,332.3L122.5,332.8L121.7,333.2L120.9,333.5L120.2,333.8L119.5,334.0L119.0,334.2L118.5,334.3L118.1,334.4L117.8,334.4L117.5,334.4L117.4,334.3L117.4,334.1L117.4,333.9L117.5,333.7L117.7,333.4L118.0,333.0L118.4,332.6L118.9,332.2L119.5,331.8L120.1,331.3L120.8,330.8L121.6,330.2L122.4,329.7L123.3,329.1L124.3,328.5L125.3,327.9L126.3,327.4L127.4,326.8L128.6,326.2L129.7,325.6L130.9,325.1L132.1,324.5L133.3,324.0L134.5,323.5L135.7,323.0L136.8,322.6L138.0,322.2L139.1,321.9L140.2,321.5L141.3,321.3L142.3,321.0L143.3,320.8L144.2,320.7L145.0,320.6L145.8,320.6L146.6,320.6L147.2,320.7L147.8,320.8L148.3,321.0L148.7,321.2L149.1,321.5L149.3,321.8L149.5,322.2L149.6,322.6L149.6,323.0L149.6,323.5L149.4,324.1L149.2,324.7L148.9,325.3L148.5,325.9L148.1,326.6L147.5,327.3L147.0,328.0L146.3,328.7L145.6,329.5L144.8,330.2L144.0,331.0L143.2,331.8L142.3,332.5L141.4,333.3L140.5,334.0L139.5,334.8L138.5,335.5L137.6,336.2L136.6,336.9L135.6,337.5L134.7,338.1L133.7,338.7L132.8,339.3L131.9,339.8L131.1,340.3L130.3,340.7L129.5,341.1L128.8,341.4L128.1,341.7L127.5,342.0L127.0,342.2L126.5,342.4L126.1,342.5L125.7,342.5L125.4,342.6L125.2,342.5L125.1,342.5L125.1,342.4L125.1,342.2L125.2,342.0L125.4,341.8L125.7,341.5L126.0,341.2L126.4,340.8L126.9,340.5L127.4,340.1L128.0,339.7L128.7,339.2L129.4,338.8L130.2,338.3L131.0,337.9L131.8,337.4L132.7,336.9L133.7,336.4L134.6,336.0L135.6,335.5L136.6,335.1L137.6,334.6L138.6,334.2L139.7,333.8L140.7,333.4L141.7,333.1L142.7,332.8L143.6,332.5L144.6,332.2L145.5,332.0L146.3,331.8L147.2,331.7L147.9,331.6L148.7,331.5L149.4,331.5L150.0,331.5L150.5,331.6L151.0,331.7L151.5,331.9L151.9,332.1L152.2,332.3L152.4,332.6L152.6,332.9L152.7,333.2L152.7,333.6L152.6,334.1L152.5,334.5L152.3,335.0L152.1,335.5L151.8,336.1L151.4,336.6L151.0,337.2L150.5,337.8L150.0,338.4L149.4,339.1L148.8,339.7L148.1,340.3L147.4,341.0L146.7,341.6L145.9,342.2L145.2,342.9L144.4,343.5L143.6,344.1L142.8,344.7L142.0,345.2L141.2,345.8L140.4,346.3L139.6,346.8L138.9,347.3L138.1,347.7L137.4,348.1L136.7,348.5L136.1,348.8L135.5,349.1L135.0,349.4L134.5,349.6L134.0,349.8L133.6,349.9L133.3,350.0L133.0,350.1L132.8,350.1L132.6,350.1L132.5,350.1L132.5,350.0L132.5,349.9L132.6,349.7L132.8,349.5L133.0,349.3L133.3,349.1L133.6,348.8L134.0,348.5L134.5,348.2L135.0,347.9L135.5,347.6L136.1,347.2L136.7,346.9L137.4,346.5L138.1,346.1L138.9,345.7L139.6,345.4L140.4,345.0L141.3,344.6L142.1,344.3L142.9,343.9L143.8,343.6L144.6,343.3L145.4,343.0L146.3,342.7L147.1,342.5L147.9,342.3L148.6,342.1L149.4,341.9L150.1,341.8L150.8,341.7L151.4,341.6L152.0,341.6L152.6,341.6L153.1,341.6L153.6,341.6L154.0,341.7L154.4,341.9L154.7,342.0L155.0,342.2L155.2,342.5L155.3,342.7L155.4,343.0L155.4,343.4L155.4,343.7L155.3,344.1L155.2,344.5L155.0,344.9L154.8,345.4L154.5,345.8L154.1,346.3L153.8,346.8L153.3,347.3L152.9,347.8L152.4,348.3L151.9,348.9L151.3,349.4L150.8,349.9L150.2,350.4L149.5,351.0L148.9,351.5L148.3,352.0L147.7,352.4L147.0,352.9L146.4,353.4L145.8,353.8L145.2,354.2L144.6,354.6L144.0,355.0L143.4,355.3L142.9,355.6L142.4,355.9L141.9,356.1L141.5,356.4L141.1,356.6L140.8,356.7L140.5,356.8L140.2,356.9L140.0,357.0L139.8,357.1L139.7,357.1L139.6,357.0L139.6,357.0L139.7,356.9L139.7,356.8L139.9,356.7L140.1,356.5L140.3,356.4L140.6,356.2L140.9,356.0L141.2,355.7L141.6,355.5L142.1,355.2L142.5,355.0L143.1,354.7L143.6,354.4L144.2,354.1L144.7,353.8L145.4,353.6L146.0,353.3L146.6,353.0L147.3,352.7L147.9,352.5L148.6,352.2L149.3,352.0L149.9,351.8L150.6,351.6L151.2,351.4L151.9,351.2L152.5,351.1L153.1,350.9L153.6,350.8L154.2,350.8L154.7,350.7L155.1,350.7L155.6,350.7L156.0,350.7L156.4,350.8L156.7,350.9L157.0,351.0L157.2,351.1L157.5,351.3L157.6,351.5L157.7,351.7L157.7,351.7L157.8,352.2L157.9,352.8L157.9,353.3L157.9,353.8L157.9,354.3L157.8,354.8L157.7,355.2L157.6,355.7L157.4,356.1L157.2,356.6L157.0,357.0L156.7,357.5L156.4,357.9L156.0,358.3L155.6,358.7L155.2,359.1L154.8,359.4L154.3,359.8L153.8,360.2L153.2,360.5L152.6,360.8L152.0,361.2L151.3,361.5L150.6,361.8L149.9,362.1L149.1,362.4L148.3,362.7L147.5,362.9L146.6,363.2" fill="none" stroke="#fbb070" stroke-width="7" stroke-opacity="0.35" stroke-linecap="round" stroke-linejoin="round" filter="url(#blur3)"/>
<path d="M117.4,334.1L117.4,333.9L117.5,333.7L117.7,333.4L118.0,333.0L118.4,332.6L118.9,332.2L119.5,331.8L120.1,331.3L120.8,330.8L121.6,330.2L122.4,329.7L123.3,329.1L124.3,328.5L125.3,327.9L126.3,327.4L127.4,326.8L128.6,326.2L129.7,325.6L130.9,325.1L132.1,324.5L133.3,324.0L134.5,323.5L135.7,323.0L136.8,322.6L138.0,322.2L139.1,321.9L140.2,321.5L141.3,321.3L142.3,321.0L143.3,320.8L144.2,320.7L145.0,320.6L145.8,320.6L146.6,320.6L147.2,320.7L147.8,320.8L148.3,321.0L148.7,321.2L149.1,321.5L149.3,321.8L149.5,322.2" fill="none" stroke="#f89a48" stroke-width="1.2" stroke-linecap="round" stroke-linejoin="round"/>
<path d="M125.1,342.4L125.1,342.2L125.2,342.0L125.4,341.8L125.7,341.5L126.0,341.2L126.4,340.8L126.9,340.5L127.4,340.1L128.0,339.7L128.7,339.2L129.4,338.8L130.2,338.3L131.0,337.9L131.8,337.4L132.7,336.9L133.7,336.4L134.6,336.0L135.6,335.5L136.6,335.1L137.6,334.6L138.6,334.2L139.7,333.8L140.7,333.4L141.7,333.1L142.7,332.8L143.6,332.5L144.6,332.2L145.5,332.0L146.3,331.8L147.2,331.7L147.9,331.6L148.7,331.5L149.4,331.5L150.0,331.5L150.5,331.6L151.0,331.7L151.5,331.9L151.9,332.1L152.2,332.3L152.4,332.6L152.6,332.9" fill="none" stroke="#f89a48" stroke-width="1.2" stroke-linecap="round" stroke-linejoin="round"/>
<path d="M132.5,350.0L132.5,349.9L132.6,349.7L132.8,349.5L133.0,349.3L133.3,349.1L133.6,348.8L134.0,348.5L134.5,348.2L135.0,347.9L135.5,347.6L136.1,347.2L136.7,346.9L137.4,346.5L138.1,346.1L138.9,345.7L139.6,345.4L140.4,345.0L141.3,344.6L142.1,344.3L142.9,343.9L143.8,343.6L144.6,343.3L145.4,343.0L146.3,342.7L147.1,342.5L147.9,342.3L148.6,342.1L149.4,341.9L150.1,341.8L150.8,341.7L151.4,341.6L152.0,341.6L152.6,341.6L153.1,341.6L153.6,341.6L154.0,341.7L154.4,341.9L154.7,342.0L155.0,342.2L155.2,342.5L155.3,342.7" fill="none" stroke="#f89a48" stroke-width="1.2" stroke-linecap="round" stroke-linejoin="round"/>
<path d="M139.6,357.0L139.7,356.9L139.7,356.8L139.9,356.7L140.1,356.5L140.3,356.4L140.6,356.2L140.9,356.0L141.2,355.7L141.6,355.5L142.1,355.2L142.5,355.0L143.1,354.7L143.6,354.4L144.2,354.1L144.7,353.8L145.4,353.6L146.0,353.3L146.6,353.0L147.3,352.7L147.9,352.5L148.6,352.2L149.3,352.0L149.9,351.8L150.6,351.6L151.2,351.4L151.9,351.2L152.5,351.1L153.1,350.9L153.6,350.8L154.2,350.8L154.7,350.7L155.1,350.7L155.6,350.7L156.0,350.7L156.4,350.8L156.7,350.9L157.0,351.0L157.2,351.1L157.5,351.3L157.6,351.5L157.7,351.7" fill="none" stroke="#f89a48" stroke-width="1.2" stroke-linecap="round" stroke-linejoin="round"/>
<path d="M123.4,332.3L122.5,332.8L121.7,333.2L120.9,333.5L120.2,333.8L119.5,334.0L119.0,334.2L118.5,334.3L118.1,334.4L117.8,334.4L117.5,334.4L117.4,334.3L117.4,334.1" fill="none" stroke="#f47a20" stroke-width="1.5" stroke-linecap="round" stroke-linejoin="round"/>
<path d="M149.5,322.2L149.6,322.6L149.6,323.0L149.6,323.5L149.4,324.1L149.2,324.7L148.9,325.3L148.5,325.9L148.1,326.6L147.5,327.3L147.0,328.0L146.3,328.7L145.6,329.5L144.8,330.2L144.0,331.0L143.2,331.8L142.3,332.5L141.4,333.3L140.5,334.0L139.5,334.8L138.5,335.5L137.6,336.2L136.6,336.9L135.6,337.5L134.7,338.1L133.7,338.7L132.8,339.3L131.9,339.8L131.1,340.3L130.3,340.7L129.5,341.1L128.8,341.4L128.1,341.7L127.5,342.0L127.0,342.2L126.5,342.4L126.1,342.5L125.7,342.5L125.4,342.6L125.2,342.5L125.1,342.5L125.1,342.4" fill="none" stroke="#f47a20" stroke-width="1.5" stroke-linecap="round" stroke-linejoin="round"/>
<path d="M152.6,332.9L152.7,333.2L152.7,333.6L152.6,334.1L152.5,334.5L152.3,335.0L152.1,335.5L151.8,336.1L151.4,336.6L151.0,337.2L150.5,337.8L150.0,338.4L149.4,339.1L148.8,339.7L148.1,340.3L147.4,341.0L146.7,341.6L145.9,342.2L145.2,342.9L144.4,343.5L143.6,344.1L142.8,344.7L142.0,345.2L141.2,345.8L140.4,346.3L139.6,346.8L138.9,347.3L138.1,347.7L137.4,348.1L136.7,348.5L136.1,348.8L135.5,349.1L135.0,349.4L134.5,349.6L134.0,349.8L133.6,349.9L133.3,350.0L133.0,350.1L132.8,350.1L132.6,350.1L132.5,350.1L132.5,350.0" fill="none" stroke="#f47a20" stroke-width="1.5" stroke-linecap="round" stroke-linejoin="round"/>
<path d="M155.3,342.7L155.4,343.0L155.4,343.4L155.4,343.7L155.3,344.1L155.2,344.5L155.0,344.9L154.8,345.4L154.5,345.8L154.1,346.3L153.8,346.8L153.3,347.3L152.9,347.8L152.4,348.3L151.9,348.9L151.3,349.4L150.8,349.9L150.2,350.4L149.5,351.0L148.9,351.5L148.3,352.0L147.7,352.4L147.0,352.9L146.4,353.4L145.8,353.8L145.2,354.2L144.6,354.6L144.0,355.0L143.4,355.3L142.9,355.6L142.4,355.9L141.9,356.1L141.5,356.4L141.1,356.6L140.8,356.7L140.5,356.8L140.2,356.9L140.0,357.0L139.8,357.1L139.7,357.1L139.6,357.0L139.6,357.0" fill="none" stroke="#f47a20" stroke-width="1.5" stroke-linecap="round" stroke-linejoin="round"/>
<path d="M157.7,351.7L157.8,352.2L157.9,352.8L157.9,353.3L157.9,353.8L157.9,354.3L157.8,354.8L157.7,355.2L157.6,355.7L157.4,356.1L157.2,356.6L157.0,357.0L156.7,357.5L156.4,357.9L156.0,358.3L155.6,358.7L155.2,359.1L154.8,359.4L154.3,359.8L153.8,360.2L153.2,360.5L152.6,360.8L152.0,361.2L151.3,361.5L150.6,361.8L149.9,362.1" fill="none" stroke="#f47a20" stroke-width="1.5" stroke-linecap="round" stroke-linejoin="round"/>
<path d="M145.18,363.69 L151.21,358.20 L153.32,364.25 Z" fill="#f47a20"/>
<path d="M220.6,365.8L220.6,365.8L220.6,365.8L220.6,365.7L220.6,365.6L220.5,365.6L220.5,365.5L220.3,365.4L220.2,365.2L220.0,365.1L219.9,365.0L219.7,364.8L219.4,364.6L219.2,364.5L218.9,364.3L218.6,364.1L218.3,363.8L218.0,363.6L217.7,363.4L217.3,363.1L217.0,362.8L216.6,362.6L216.3,362.3L215.9,362.0L215.5,361.7L215.2,361.4L214.8,361.1L214.5,360.8L214.2,360.5L213.9,360.1L213.6,359.8L213.3,359.5L213.0,359.2L212.8,358.9L212.6,358.6L212.4,358.3L212.2,358.0L212.1,357.8L211.9,357.5L211.9,357.2L211.8,357.0L211.8,356.8L211.8,356.6L211.9,356.4L212.0,356.2L212.1,356.0L212.3,355.9L212.5,355.7L212.7,355.6L213.0,355.5L213.3,355.4L213.6,355.4L214.0,355.3L214.4,355.3L214.8,355.3L215.2,355.3L215.7,355.3L216.2,355.4L216.7,355.4L217.2,355.5L217.8,355.6L218.3,355.7L218.9,355.8L219.5,356.0L220.1,356.1L220.7,356.3L221.3,356.4L221.8,356.6L222.4,356.7L223.0,356.9L223.5,357.1L224.1,357.2L224.6,357.4L225.1,357.6L225.5,357.7L226.0,357.9L226.4,358.1L226.8,358.2L227.2,358.3L227.5,358.4L227.8,358.5L228.0,358.6L228.2,358.7L228.4,358.7L228.5,358.8L228.6,358.8L228.6,358.8L228.6,358.7L228.6,358.7L228.5,358.6L228.3,358.5L228.1,358.4L227.9,358.2L227.7,358.1L227.4,357.9L227.0,357.7L226.7,357.4L226.3,357.2L225.8,356.9L225.4,356.6L224.9,356.2L224.4,355.9L223.9,355.5L223.3,355.1L222.8,354.8L222.2,354.3L221.6,353.9L221.0,353.5L220.5,353.0L219.9,352.6L219.3,352.1L218.8,351.7L218.2,351.2L217.7,350.7L217.2,350.3L216.7,349.8L216.3,349.3L215.8,348.9L215.5,348.5L215.1,348.0L214.8,347.6L214.5,347.2L214.3,346.8L214.1,346.5L214.0,346.1L213.9,345.8L213.8,345.5L213.8,345.2L213.9,345.0L214.0,344.8L214.1,344.6L214.4,344.4L214.6,344.3L214.9,344.1L215.3,344.1L215.7,344.0L216.1,344.0L216.6,344.0L217.2,344.0L217.8,344.1L218.4,344.2L219.0,344.3L219.7,344.4L220.4,344.6L221.2,344.7L221.9,344.9L222.7,345.2L223.5,345.4L224.3,345.6L225.1,345.9L225.9,346.2L226.7,346.5L227.5,346.8L228.3,347.1L229.0,347.4L229.8,347.7L230.5,348.0L231.2,348.3L231.9,348.6L232.5,348.8L233.1,349.1L233.7,349.4L234.2,349.6L234.7,349.9L235.1,350.1L235.5,350.2L235.8,350.4L236.1,350.5L236.3,350.7L236.5,350.7L236.6,350.8L236.6,350.8L236.6,350.8L236.5,350.8L236.4,350.7L236.2,350.6L235.9,350.5L235.6,350.3L235.3,350.1L234.9,349.9L234.4,349.6L233.9,349.3L233.3,348.9L232.8,348.6L232.1,348.2L231.5,347.8L230.8,347.3L230.0,346.9L229.3,346.4L228.5,345.8L227.8,345.3L227.0,344.8L226.2,344.2L225.4,343.6L224.6,343.0L223.9,342.4L223.1,341.8L222.4,341.2L221.6,340.6L220.9,340.0L220.3,339.4L219.7,338.9L219.1,338.3L218.5,337.7L218.0,337.2L217.6,336.7L217.2,336.2L216.9,335.7L216.6,335.2L216.4,334.8L216.2,334.4L216.1,334.0L216.1,333.7L216.2,333.4L216.3,333.1L216.4,332.9L216.7,332.7L217.0,332.5L217.4,332.4L217.8,332.3L218.3,332.3L218.8,332.3L219.5,332.3L220.1,332.4L220.8,332.5L221.6,332.6L222.4,332.8L223.3,333.0L224.2,333.2L225.1,333.5L226.0,333.7L227.0,334.0L228.0,334.4L229.0,334.7L230.0,335.1L231.0,335.5L232.0,335.9L233.0,336.3L234.0,336.7L235.0,337.1L235.9,337.5L236.9,337.9L237.8,338.3L238.6,338.7L239.4,339.1L240.2,339.5L240.9,339.8L241.6,340.2L242.2,340.5L242.7,340.8L243.2,341.0L243.6,341.3L244.0,341.5L244.2,341.6L244.4,341.8L244.6,341.9L244.6,341.9L244.6,342.0L244.5,342.0L244.4,341.9L244.1,341.8L243.8,341.7L243.4,341.5L243.0,341.3L242.5,341.0L241.9,340.7L241.3,340.4L240.6,340.0L239.9,339.6L239.1,339.1L238.3,338.6L237.4,338.1L236.5,337.5L235.6,337.0L234.6,336.3L233.7,335.7L232.7,335.1L231.7,334.4L230.7,333.7L229.7,333.0L228.7,332.3L227.8,331.6L226.9,330.9L225.9,330.2L225.1,329.5L224.2,328.8L223.4,328.1L222.7,327.4L222.0,326.7L221.4,326.1L220.8,325.5L220.3,324.9L219.8,324.3L219.5,323.8L219.2,323.3L218.9,322.8L218.8,322.4L218.7,322.0L218.7,321.6L218.8,321.3L218.8,321.3L218.8,321.0L218.8,320.8L218.9,320.6L219.0,320.4L219.1,320.2L219.3,320.1L219.4,320.0L219.6,319.9L219.9,319.8L220.2,319.8L220.5,319.7L220.8,319.7L221.2,319.7L221.5,319.7L222.0,319.8L222.4,319.9L222.9,320.0L223.4,320.1L224.0,320.2L224.6,320.4L225.2,320.6L225.8,320.8L226.5,321.0L227.2,321.2L227.9,321.5L228.7,321.8L229.5,322.1L230.3,322.4L231.2,322.8" fill="none" stroke="#e8485a" stroke-width="8" stroke-opacity="0.3" stroke-linecap="round" stroke-linejoin="round" filter="url(#blur3)"/>
<path d="M211.9,356.4L212.0,356.2L212.1,356.0L212.3,355.9L212.5,355.7L212.7,355.6L213.0,355.5L213.3,355.4L213.6,355.4L214.0,355.3L214.4,355.3L214.8,355.3L215.2,355.3L215.7,355.3L216.2,355.4L216.7,355.4L217.2,355.5L217.8,355.6L218.3,355.7L218.9,355.8L219.5,356.0L220.1,356.1L220.7,356.3L221.3,356.4L221.8,356.6L222.4,356.7L223.0,356.9L223.5,357.1L224.1,357.2L224.6,357.4L225.1,357.6L225.5,357.7L226.0,357.9L226.4,358.1L226.8,358.2L227.2,358.3L227.5,358.4L227.8,358.5L228.0,358.6L228.2,358.7L228.4,358.7L228.5,358.8L228.6,358.8L228.6,358.8" fill="none" stroke="#e0606a" stroke-width="1.0" stroke-linecap="round" stroke-linejoin="round"/>
<path d="M214.0,344.8L214.1,344.6L214.4,344.4L214.6,344.3L214.9,344.1L215.3,344.1L215.7,344.0L216.1,344.0L216.6,344.0L217.2,344.0L217.8,344.1L218.4,344.2L219.0,344.3L219.7,344.4L220.4,344.6L221.2,344.7L221.9,344.9L222.7,345.2L223.5,345.4L224.3,345.6L225.1,345.9L225.9,346.2L226.7,346.5L227.5,346.8L228.3,347.1L229.0,347.4L229.8,347.7L230.5,348.0L231.2,348.3L231.9,348.6L232.5,348.8L233.1,349.1L233.7,349.4L234.2,349.6L234.7,349.9L235.1,350.1L235.5,350.2L235.8,350.4L236.1,350.5L236.3,350.7L236.5,350.7L236.6,350.8L236.6,350.8" fill="none" stroke="#e0606a" stroke-width="1.0" stroke-linecap="round" stroke-linejoin="round"/>
<path d="M216.3,333.1L216.4,332.9L216.7,332.7L217.0,332.5L217.4,332.4L217.8,332.3L218.3,332.3L218.8,332.3L219.5,332.3L220.1,332.4L220.8,332.5L221.6,332.6L222.4,332.8L223.3,333.0L224.2,333.2L225.1,333.5L226.0,333.7L227.0,334.0L228.0,334.4L229.0,334.7L230.0,335.1L231.0,335.5L232.0,335.9L233.0,336.3L234.0,336.7L235.0,337.1L235.9,337.5L236.9,337.9L237.8,338.3L238.6,338.7L239.4,339.1L240.2,339.5L240.9,339.8L241.6,340.2L242.2,340.5L242.7,340.8L243.2,341.0L243.6,341.3L244.0,341.5L244.2,341.6L244.4,341.8L244.6,341.9L244.6,341.9L244.6,342.0" fill="none" stroke="#e0606a" stroke-width="1.0" stroke-linecap="round" stroke-linejoin="round"/>
<path d="M220.6,365.8L220.6,365.8L220.6,365.8L220.6,365.7L220.6,365.6L220.5,365.6L220.5,365.5L220.3,365.4L220.2,365.2L220.0,365.1L219.9,365.0L219.7,364.8L219.4,364.6L219.2,364.5L218.9,364.3L218.6,364.1L218.3,363.8L218.0,363.6L217.7,363.4L217.3,363.1L217.0,362.8L216.6,362.6L216.3,362.3L215.9,362.0L215.5,361.7L215.2,361.4L214.8,361.1L214.5,360.8L214.2,360.5L213.9,360.1L213.6,359.8L213.3,359.5L213.0,359.2L212.8,358.9L212.6,358.6L212.4,358.3L212.2,358.0L212.1,357.8L211.9,357.5L211.9,357.2L211.8,357.0L211.8,356.8L211.8,356.6L211.9,356.4" fill="none" stroke="#d41e28" stroke-width="1.6" stroke-linecap="round" stroke-linejoin="round"/>
<path d="M228.6,358.8L228.6,358.7L228.6,358.7L228.5,358.6L228.3,358.5L228.1,358.4L227.9,358.2L227.7,358.1L227.4,357.9L227.0,357.7L226.7,357.4L226.3,357.2L225.8,356.9L225.4,356.6L224.9,356.2L224.4,355.9L223.9,355.5L223.3,355.1L222.8,354.8L222.2,354.3L221.6,353.9L221.0,353.5L220.5,353.0L219.9,352.6L219.3,352.1L218.8,351.7L218.2,351.2L217.7,350.7L217.2,350.3L216.7,349.8L216.3,349.3L215.8,348.9L215.5,348.5L215.1,348.0L214.8,347.6L214.5,347.2L214.3,346.8L214.1,346.5L214.0,346.1L213.9,345.8L213.8,345.5L213.8,345.2L213.9,345.0L214.0,344.8" fill="none" stroke="#d41e28" stroke-width="1.6" stroke-linecap="round" stroke-linejoin="round"/>
<path d="M236.6,350.8L236.6,350.8L236.5,350.8L236.4,350.7L236.2,350.6L235.9,350.5L235.6,350.3L235.3,350.1L234.9,349.9L234.4,349.6L233.9,349.3L233.3,348.9L232.8,348.6L232.1,348.2L231.5,347.8L230.8,347.3L230.0,346.9L229.3,346.4L228.5,345.8L227.8,345.3L227.0,344.8L226.2,344.2L225.4,343.6L224.6,343.0L223.9,342.4L223.1,341.8L222.4,341.2L221.6,340.6L220.9,340.0L220.3,339.4L219.7,338.9L219.1,338.3L218.5,337.7L218.0,337.2L217.6,336.7L217.2,336.2L216.9,335.7L216.6,335.2L216.4,334.8L216.2,334.4L216.1,334.0L216.1,333.7L216.2,333.4L216.3,333.1" fill="none" stroke="#d41e28" stroke-width="1.6" stroke-linecap="round" stroke-linejoin="round"/>
<path d="M244.6,342.0L244.5,342.0L244.4,341.9L244.1,341.8L243.8,341.7L243.4,341.5L243.0,341.3L242.5,341.0L241.9,340.7L241.3,340.4L240.6,340.0L239.9,339.6L239.1,339.1L238.3,338.6L237.4,338.1L236.5,337.5L235.6,337.0L234.6,336.3L233.7,335.7L232.7,335.1L231.7,334.4L230.7,333.7L229.7,333.0L228.7,332.3L227.8,331.6L226.9,330.9L225.9,330.2L225.1,329.5L224.2,328.8L223.4,328.1L222.7,327.4L222.0,326.7L221.4,326.1L220.8,325.5L220.3,324.9L219.8,324.3L219.5,323.8L219.2,323.3L218.9,322.8L218.8,322.4L218.7,322.0L218.7,321.6L218.8,321.3" fill="none" stroke="#d41e28" stroke-width="1.6" stroke-linecap="round" stroke-linejoin="round"/>
<path d="M218.8,321.3L218.8,321.0L218.8,320.8L218.9,320.6L219.0,320.4L219.1,320.2L219.3,320.1L219.4,320.0L219.6,319.9L219.9,319.8L220.2,319.8L220.5,319.7L220.8,319.7L221.2,319.7L221.5,319.7L222.0,319.8L222.4,319.9L222.9,320.0L223.4,320.1L224.0,320.2L224.6,320.4L225.2,320.6L225.8,320.8L226.5,321.0L227.2,321.2L227.9,321.5" fill="none" stroke="#d41e28" stroke-width="1.6" stroke-linecap="round" stroke-linejoin="round"/>
<path d="M232.60,323.35 L224.52,323.41 L226.70,317.82 Z" fill="#d41e28"/>
<text x="102.60" y="320.60" font-size="15" fill="#f7941d"><tspan font-family='"Liberation Serif", serif' font-style="italic">&#963;</tspan><tspan font-family='"Liberation Sans", sans-serif' stroke="#f7941d" stroke-width="0.35" font-size="13.95" dx="0.2">&#8722;</tspan></text>
<text x="36.50" y="361.20" font-family='"Liberation Sans", sans-serif' font-size="14.6" fill="#f7941d" stroke="#f7941d" stroke-width="0.2" text-anchor="start" font-weight="normal" font-style="normal" >488 nm laser</text>
<text x="241.60" y="319.80" font-size="15" fill="#ee1c25"><tspan font-family='"Liberation Serif", serif' font-style="italic">&#963;</tspan><tspan font-family='"Liberation Sans", sans-serif' stroke="#ee1c25" stroke-width="0.35" font-size="13.95" dx="0.2">&#8722;</tspan></text>
<text x="255.60" y="353.50" font-family='"Liberation Sans", sans-serif' font-size="14.6" fill="#ee1c25" stroke="#ee1c25" stroke-width="0.2" text-anchor="start" font-weight="normal" font-style="normal" >PL</text>
<path d="M62.30,375.8 L303.32,375.8 L296.82,393.5 L55.80,393.5 Z" fill="url(#band1)"/>
<path d="M62.30,375.8 L74.34,393.5 L55.80,393.5 Z" fill="url(#tri1)"/>
<path d="M80.84,375.8 L92.88,393.5 L74.34,393.5 Z" fill="url(#tri1)"/>
<path d="M99.38,375.8 L111.42,393.5 L92.88,393.5 Z" fill="url(#tri1)"/>
<path d="M117.92,375.8 L129.96,393.5 L111.42,393.5 Z" fill="url(#tri1)"/>
<path d="M136.46,375.8 L148.50,393.5 L129.96,393.5 Z" fill="url(#tri1)"/>
<path d="M155.00,375.8 L167.04,393.5 L148.50,393.5 Z" fill="url(#tri1)"/>
<path d="M173.54,375.8 L185.58,393.5 L167.04,393.5 Z" fill="url(#tri1)"/>
<path d="M192.08,375.8 L204.12,393.5 L185.58,393.5 Z" fill="url(#tri1)"/>
<path d="M210.62,375.8 L222.66,393.5 L204.12,393.5 Z" fill="url(#tri1)"/>
<path d="M229.16,375.8 L241.20,393.5 L222.66,393.5 Z" fill="url(#tri1)"/>
<path d="M247.70,375.8 L259.74,393.5 L241.20,393.5 Z" fill="url(#tri1)"/>
<path d="M266.24,375.8 L278.28,393.5 L259.74,393.5 Z" fill="url(#tri1)"/>
<path d="M284.78,375.8 L296.82,393.5 L278.28,393.5 Z" fill="url(#tri1)"/>
<circle cx="68.60" cy="384.95" r="2.6" fill="url(#gPb)" />
<circle cx="87.14" cy="384.95" r="2.6" fill="url(#gPb)" />
<circle cx="105.68" cy="384.95" r="2.6" fill="url(#gPb)" />
<circle cx="124.22" cy="384.95" r="2.6" fill="url(#gPb)" />
<circle cx="142.76" cy="384.95" r="2.6" fill="url(#gPb)" />
<circle cx="161.30" cy="384.95" r="2.6" fill="url(#gPb)" />
<circle cx="179.84" cy="384.95" r="2.6" fill="url(#gPb)" />
<circle cx="198.38" cy="384.95" r="2.6" fill="url(#gPb)" />
<circle cx="216.92" cy="384.95" r="2.6" fill="url(#gPb)" />
<circle cx="235.46" cy="384.95" r="2.6" fill="url(#gPb)" />
<circle cx="254.00" cy="384.95" r="2.6" fill="url(#gPb)" />
<circle cx="272.54" cy="384.95" r="2.6" fill="url(#gPb)" />
<circle cx="291.08" cy="384.95" r="2.6" fill="url(#gPb)" />
<circle cx="62.30" cy="375.8" r="2.4" fill="url(#gI)"/>
<circle cx="55.80" cy="393.5" r="2.4" fill="url(#gI)"/>
<circle cx="80.84" cy="375.8" r="2.4" fill="url(#gI)"/>
<circle cx="74.34" cy="393.5" r="2.4" fill="url(#gI)"/>
<circle cx="99.38" cy="375.8" r="2.4" fill="url(#gI)"/>
<circle cx="92.88" cy="393.5" r="2.4" fill="url(#gI)"/>
<circle cx="117.92" cy="375.8" r="2.4" fill="url(#gI)"/>
<circle cx="111.42" cy="393.5" r="2.4" fill="url(#gI)"/>
<circle cx="136.46" cy="375.8" r="2.4" fill="url(#gI)"/>
<circle cx="129.96" cy="393.5" r="2.4" fill="url(#gI)"/>
<circle cx="155.00" cy="375.8" r="2.4" fill="url(#gI)"/>
<circle cx="148.50" cy="393.5" r="2.4" fill="url(#gI)"/>
<circle cx="173.54" cy="375.8" r="2.4" fill="url(#gI)"/>
<circle cx="167.04" cy="393.5" r="2.4" fill="url(#gI)"/>
<circle cx="192.08" cy="375.8" r="2.4" fill="url(#gI)"/>
<circle cx="185.58" cy="393.5" r="2.4" fill="url(#gI)"/>
<circle cx="210.62" cy="375.8" r="2.4" fill="url(#gI)"/>
<circle cx="204.12" cy="393.5" r="2.4" fill="url(#gI)"/>
<circle cx="229.16" cy="375.8" r="2.4" fill="url(#gI)"/>
<circle cx="222.66" cy="393.5" r="2.4" fill="url(#gI)"/>
<circle cx="247.70" cy="375.8" r="2.4" fill="url(#gI)"/>
<circle cx="241.20" cy="393.5" r="2.4" fill="url(#gI)"/>
<circle cx="266.24" cy="375.8" r="2.4" fill="url(#gI)"/>
<circle cx="259.74" cy="393.5" r="2.4" fill="url(#gI)"/>
<circle cx="284.78" cy="375.8" r="2.4" fill="url(#gI)"/>
<circle cx="278.28" cy="393.5" r="2.4" fill="url(#gI)"/>
<circle cx="303.32" cy="375.8" r="2.4" fill="url(#gI)"/>
<circle cx="296.82" cy="393.5" r="2.4" fill="url(#gI)"/>
<path d="M60.60,405.9 L301.62,405.9 L295.22,423.5 L54.20,423.5 Z" fill="url(#band2)"/>
<path d="M60.60,405.9 L72.74,423.5 L54.20,423.5 Z" fill="url(#tri2)"/>
<path d="M79.14,405.9 L91.28,423.5 L72.74,423.5 Z" fill="url(#tri2)"/>
<path d="M97.68,405.9 L109.82,423.5 L91.28,423.5 Z" fill="url(#tri2)"/>
<path d="M116.22,405.9 L128.36,423.5 L109.82,423.5 Z" fill="url(#tri2)"/>
<path d="M134.76,405.9 L146.90,423.5 L128.36,423.5 Z" fill="url(#tri2)"/>
<path d="M153.30,405.9 L165.44,423.5 L146.90,423.5 Z" fill="url(#tri2)"/>
<path d="M171.84,405.9 L183.98,423.5 L165.44,423.5 Z" fill="url(#tri2)"/>
<path d="M190.38,405.9 L202.52,423.5 L183.98,423.5 Z" fill="url(#tri2)"/>
<path d="M208.92,405.9 L221.06,423.5 L202.52,423.5 Z" fill="url(#tri2)"/>
<path d="M227.46,405.9 L239.60,423.5 L221.06,423.5 Z" fill="url(#tri2)"/>
<path d="M246.00,405.9 L258.14,423.5 L239.60,423.5 Z" fill="url(#tri2)"/>
<path d="M264.54,405.9 L276.68,423.5 L258.14,423.5 Z" fill="url(#tri2)"/>
<path d="M283.08,405.9 L295.22,423.5 L276.68,423.5 Z" fill="url(#tri2)"/>
<circle cx="66.90" cy="415.00" r="2.6" fill="url(#gPb)" />
<circle cx="85.44" cy="415.00" r="2.6" fill="url(#gPb)" />
<circle cx="103.98" cy="415.00" r="2.6" fill="url(#gPb)" />
<circle cx="122.52" cy="415.00" r="2.6" fill="url(#gPb)" />
<circle cx="141.06" cy="415.00" r="2.6" fill="url(#gPb)" />
<circle cx="159.60" cy="415.00" r="2.6" fill="url(#gPb)" />
<circle cx="178.14" cy="415.00" r="2.6" fill="url(#gPb)" />
<circle cx="196.68" cy="415.00" r="2.6" fill="url(#gPb)" />
<circle cx="215.22" cy="415.00" r="2.6" fill="url(#gPb)" />
<circle cx="233.76" cy="415.00" r="2.6" fill="url(#gPb)" />
<circle cx="252.30" cy="415.00" r="2.6" fill="url(#gPb)" />
<circle cx="270.84" cy="415.00" r="2.6" fill="url(#gPb)" />
<circle cx="289.38" cy="415.00" r="2.6" fill="url(#gPb)" />
<circle cx="60.60" cy="405.9" r="2.4" fill="url(#gI)"/>
<circle cx="54.20" cy="423.5" r="2.4" fill="url(#gI)"/>
<circle cx="79.14" cy="405.9" r="2.4" fill="url(#gI)"/>
<circle cx="72.74" cy="423.5" r="2.4" fill="url(#gI)"/>
<circle cx="97.68" cy="405.9" r="2.4" fill="url(#gI)"/>
<circle cx="91.28" cy="423.5" r="2.4" fill="url(#gI)"/>
<circle cx="116.22" cy="405.9" r="2.4" fill="url(#gI)"/>
<circle cx="109.82" cy="423.5" r="2.4" fill="url(#gI)"/>
<circle cx="134.76" cy="405.9" r="2.4" fill="url(#gI)"/>
<circle cx="128.36" cy="423.5" r="2.4" fill="url(#gI)"/>
<circle cx="153.30" cy="405.9" r="2.4" fill="url(#gI)"/>
<circle cx="146.90" cy="423.5" r="2.4" fill="url(#gI)"/>
<circle cx="171.84" cy="405.9" r="2.4" fill="url(#gI)"/>
<circle cx="165.44" cy="423.5" r="2.4" fill="url(#gI)"/>
<circle cx="190.38" cy="405.9" r="2.4" fill="url(#gI)"/>
<circle cx="183.98" cy="423.5" r="2.4" fill="url(#gI)"/>
<circle cx="208.92" cy="405.9" r="2.4" fill="url(#gI)"/>
<circle cx="202.52" cy="423.5" r="2.4" fill="url(#gI)"/>
<circle cx="227.46" cy="405.9" r="2.4" fill="url(#gI)"/>
<circle cx="221.06" cy="423.5" r="2.4" fill="url(#gI)"/>
<circle cx="246.00" cy="405.9" r="2.4" fill="url(#gI)"/>
<circle cx="239.60" cy="423.5" r="2.4" fill="url(#gI)"/>
<circle cx="264.54" cy="405.9" r="2.4" fill="url(#gI)"/>
<circle cx="258.14" cy="423.5" r="2.4" fill="url(#gI)"/>
<circle cx="283.08" cy="405.9" r="2.4" fill="url(#gI)"/>
<circle cx="276.68" cy="423.5" r="2.4" fill="url(#gI)"/>
<circle cx="301.62" cy="405.9" r="2.4" fill="url(#gI)"/>
<circle cx="295.22" cy="423.5" r="2.4" fill="url(#gI)"/>
<path d="M57.3,443.0L63.4,453.0L75.8,443.0L81.8,453.0L94.2,443.0L100.3,453.0L112.7,443.0L118.8,453.0L131.1,443.0L137.2,453.0L149.6,443.0L155.7,453.0L168.0,443.0L174.1,453.0L186.5,443.0L192.6,453.0L204.9,443.0L211.0,453.0L223.3,443.0L229.4,453.0L241.8,443.0L247.9,453.0L260.2,443.0L266.3,453.0L278.7,443.0L284.8,453.0L297.1,443.0L303.2,453.0" fill="none" stroke="#4cc4da" stroke-width="1.7" stroke-linejoin="round"/>
<path d="M57.3,463.5L63.4,453.0L75.8,463.5L81.8,453.0L94.2,463.5L100.3,453.0L112.7,463.5L118.8,453.0L131.1,463.5L137.2,453.0L149.6,463.5L155.7,453.0L168.0,463.5L174.1,453.0L186.5,463.5L192.6,453.0L204.9,463.5L211.0,453.0L223.3,463.5L229.4,453.0L241.8,463.5L247.9,453.0L260.2,463.5L266.3,453.0L278.7,463.5L284.8,453.0L297.1,463.5L303.2,453.0" fill="none" stroke="#4cc4da" stroke-width="1.7" stroke-linejoin="round"/>
<circle cx="57.30" cy="443.0" r="2.8" fill="url(#gS)"/>
<circle cx="57.30" cy="463.5" r="2.8" fill="url(#gS)"/>
<circle cx="75.75" cy="443.0" r="2.8" fill="url(#gS)"/>
<circle cx="75.75" cy="463.5" r="2.8" fill="url(#gS)"/>
<circle cx="94.20" cy="443.0" r="2.8" fill="url(#gS)"/>
<circle cx="94.20" cy="463.5" r="2.8" fill="url(#gS)"/>
<circle cx="112.65" cy="443.0" r="2.8" fill="url(#gS)"/>
<circle cx="112.65" cy="463.5" r="2.8" fill="url(#gS)"/>
<circle cx="131.10" cy="443.0" r="2.8" fill="url(#gS)"/>
<circle cx="131.10" cy="463.5" r="2.8" fill="url(#gS)"/>
<circle cx="149.55" cy="443.0" r="2.8" fill="url(#gS)"/>
<circle cx="149.55" cy="463.5" r="2.8" fill="url(#gS)"/>
<circle cx="168.00" cy="443.0" r="2.8" fill="url(#gS)"/>
<circle cx="168.00" cy="463.5" r="2.8" fill="url(#gS)"/>
<circle cx="186.45" cy="443.0" r="2.8" fill="url(#gS)"/>
<circle cx="186.45" cy="463.5" r="2.8" fill="url(#gS)"/>
<circle cx="204.90" cy="443.0" r="2.8" fill="url(#gS)"/>
<circle cx="204.90" cy="463.5" r="2.8" fill="url(#gS)"/>
<circle cx="223.35" cy="443.0" r="2.8" fill="url(#gS)"/>
<circle cx="223.35" cy="463.5" r="2.8" fill="url(#gS)"/>
<circle cx="241.80" cy="443.0" r="2.8" fill="url(#gS)"/>
<circle cx="241.80" cy="463.5" r="2.8" fill="url(#gS)"/>
<circle cx="260.25" cy="443.0" r="2.8" fill="url(#gS)"/>
<circle cx="260.25" cy="463.5" r="2.8" fill="url(#gS)"/>
<circle cx="278.70" cy="443.0" r="2.8" fill="url(#gS)"/>
<circle cx="278.70" cy="463.5" r="2.8" fill="url(#gS)"/>
<circle cx="297.15" cy="443.0" r="2.8" fill="url(#gS)"/>
<circle cx="297.15" cy="463.5" r="2.8" fill="url(#gS)"/>
<circle cx="63.40" cy="453.0" r="3.9" fill="url(#gW)"/>
<circle cx="81.85" cy="453.0" r="3.9" fill="url(#gW)"/>
<circle cx="100.30" cy="453.0" r="3.9" fill="url(#gW)"/>
<circle cx="118.75" cy="453.0" r="3.9" fill="url(#gW)"/>
<circle cx="137.20" cy="453.0" r="3.9" fill="url(#gW)"/>
<circle cx="155.65" cy="453.0" r="3.9" fill="url(#gW)"/>
<circle cx="174.10" cy="453.0" r="3.9" fill="url(#gW)"/>
<circle cx="192.55" cy="453.0" r="3.9" fill="url(#gW)"/>
<circle cx="211.00" cy="453.0" r="3.9" fill="url(#gW)"/>
<circle cx="229.45" cy="453.0" r="3.9" fill="url(#gW)"/>
<circle cx="247.90" cy="453.0" r="3.9" fill="url(#gW)"/>
<circle cx="266.35" cy="453.0" r="3.9" fill="url(#gW)"/>
<circle cx="284.80" cy="453.0" r="3.9" fill="url(#gW)"/>
<circle cx="303.25" cy="453.0" r="3.9" fill="url(#gW)"/>
<ellipse cx="144.40" cy="382.20" rx="13.5" ry="19" fill="url(#glowR)"/>
<ellipse cx="174.30" cy="387.40" rx="13.5" ry="19" fill="url(#glowR)"/>
<ellipse cx="208.30" cy="382.20" rx="13.5" ry="19" fill="url(#glowR)"/>
<ellipse cx="241.60" cy="384.80" rx="13.5" ry="19" fill="url(#glowR)"/>
<ellipse cx="158.90" cy="415.80" rx="13.5" ry="19" fill="url(#glowR)"/>
<ellipse cx="207.40" cy="416.70" rx="13.5" ry="19" fill="url(#glowR)"/>
<ellipse cx="195.50" cy="448.90" rx="13.5" ry="19" fill="url(#glowR)"/>
<ellipse cx="166.30" cy="452.00" rx="12" ry="13" fill="url(#glowB)"/>
<line x1="144.40" y1="378.70" x2="144.40" y2="385.70" stroke="#c00010" stroke-width="1.3"/>
<path d="M141.70,384.80 L147.10,384.80 L144.40,393.60 Z" fill="#dc0012"/>
<circle cx="144.40" cy="378.70" r="4.6" fill="url(#gR)"/>
<ellipse cx="142.90" cy="377.10" rx="1.9" ry="1.6" fill="url(#gHL)"/>
<circle cx="144.40" cy="373.80" r="0.9" fill="#fff" opacity="0.8"/>
<line x1="174.30" y1="383.90" x2="174.30" y2="390.90" stroke="#c00010" stroke-width="1.3"/>
<path d="M171.60,389.20 L177.00,389.20 L174.30,398.00 Z" fill="#dc0012"/>
<circle cx="174.30" cy="383.90" r="4.6" fill="url(#gR)"/>
<ellipse cx="172.80" cy="382.30" rx="1.9" ry="1.6" fill="url(#gHL)"/>
<circle cx="174.30" cy="379.00" r="0.9" fill="#fff" opacity="0.8"/>
<line x1="208.30" y1="378.70" x2="208.30" y2="385.70" stroke="#c00010" stroke-width="1.3"/>
<path d="M205.60,384.00 L211.00,384.00 L208.30,392.80 Z" fill="#dc0012"/>
<circle cx="208.30" cy="378.70" r="4.6" fill="url(#gR)"/>
<ellipse cx="206.80" cy="377.10" rx="1.9" ry="1.6" fill="url(#gHL)"/>
<circle cx="208.30" cy="373.80" r="0.9" fill="#fff" opacity="0.8"/>
<line x1="241.60" y1="381.30" x2="241.60" y2="388.30" stroke="#c00010" stroke-width="1.3"/>
<path d="M238.90,386.60 L244.30,386.60 L241.60,395.40 Z" fill="#dc0012"/>
<circle cx="241.60" cy="381.30" r="4.6" fill="url(#gR)"/>
<ellipse cx="240.10" cy="379.70" rx="1.9" ry="1.6" fill="url(#gHL)"/>
<circle cx="241.60" cy="376.40" r="0.9" fill="#fff" opacity="0.8"/>
<line x1="158.90" y1="412.30" x2="158.90" y2="419.30" stroke="#c00010" stroke-width="1.3"/>
<path d="M156.20,417.20 L161.60,417.20 L158.90,426.00 Z" fill="#dc0012"/>
<circle cx="158.90" cy="412.30" r="4.6" fill="url(#gR)"/>
<ellipse cx="157.40" cy="410.70" rx="1.9" ry="1.6" fill="url(#gHL)"/>
<circle cx="158.90" cy="407.40" r="0.9" fill="#fff" opacity="0.8"/>
<line x1="207.40" y1="413.20" x2="207.40" y2="420.20" stroke="#c00010" stroke-width="1.3"/>
<path d="M204.70,418.50 L210.10,418.50 L207.40,427.30 Z" fill="#dc0012"/>
<circle cx="207.40" cy="413.20" r="4.6" fill="url(#gR)"/>
<ellipse cx="205.90" cy="411.60" rx="1.9" ry="1.6" fill="url(#gHL)"/>
<circle cx="207.40" cy="408.30" r="0.9" fill="#fff" opacity="0.8"/>
<line x1="195.50" y1="445.40" x2="195.50" y2="452.40" stroke="#c00010" stroke-width="1.3"/>
<path d="M192.80,451.80 L198.20,451.80 L195.50,460.60 Z" fill="#dc0012"/>
<circle cx="195.50" cy="445.40" r="4.6" fill="url(#gR)"/>
<ellipse cx="194.00" cy="443.80" rx="1.9" ry="1.6" fill="url(#gHL)"/>
<circle cx="195.50" cy="440.50" r="0.9" fill="#fff" opacity="0.8"/>
<path d="M163.30,449.80 L169.30,449.80 L166.30,442.80 Z" fill="#1a1aff"/>
<line x1="166.30" y1="454.90" x2="166.30" y2="461.40" stroke="#1a1aff" stroke-width="1.2"/>
<circle cx="166.30" cy="454.90" r="4.4" fill="url(#gB)"/>
<ellipse cx="164.80" cy="453.50" rx="1.9" ry="1.6" fill="url(#gHL)"/>
<path d="M128.4,384 C112,395 109.5,415 129,421.2" fill="none" stroke="#ef6c0e" stroke-width="3.0" stroke-linecap="round"/>
<path d="M136.6,425.6 L126.10,424.61 L130.51,416.99 Z" fill="#ef6c0e"/>
<path d="M238.8,415.7 C257,425 257.5,447 241,452.3" fill="none" stroke="#ef6c0e" stroke-width="3.0" stroke-linecap="round"/>
<path d="M231.6,456.5 L239.94,447.96 L243.53,455.99 Z" fill="#ef6c0e"/>
<text x="309.00" y="395.60" font-family='"Liberation Sans", sans-serif' font-size="14.6" fill="#0a0a0a" stroke="#0a0a0a" stroke-width="0.2" text-anchor="start" font-weight="normal" font-style="normal" >Thin</text>
<text x="319.40" y="417.80" font-family='"Liberation Sans", sans-serif' font-size="14.6" fill="#0a0a0a" stroke="#0a0a0a" stroke-width="0.2" text-anchor="start">PbI<tspan font-size="10.51" dy="3.6">2</tspan></text>
<text x="318.40" y="458.80" font-family='"Liberation Sans", sans-serif' font-size="14.6" fill="#0a0a0a" stroke="#0a0a0a" stroke-width="0.2" text-anchor="start">WS<tspan font-size="10.51" dy="3.6">2</tspan></text>
<text x="381.00" y="301.70" font-family='"Liberation Sans", sans-serif' font-size="19" fill="#000" stroke="#000" stroke-width="0" text-anchor="start" font-weight="bold" font-style="normal" >e</text>
<g opacity="0.6">
<ellipse cx="453.00" cy="332.00" rx="28" ry="26" fill="url(#glowO)"/>
</g>
<g transform="rotate(35 527 332)" opacity="0.6">
<ellipse cx="527.00" cy="332.00" rx="15" ry="30" fill="url(#glowPL)"/>
</g>
<g transform="rotate(35 600 344)" opacity="0.6">
<ellipse cx="600.00" cy="344.00" rx="10" ry="18" fill="url(#glowBL)"/>
</g>
<path d="M437.4,324.7L436.3,325.1L435.3,325.5L434.4,325.8L433.6,326.1L432.8,326.3L432.1,326.5L431.6,326.6L431.1,326.7L430.7,326.6L430.4,326.6L430.3,326.4L430.2,326.2L430.2,326.0L430.4,325.7L430.6,325.4L431.0,325.0L431.4,324.6L432.0,324.1L432.6,323.6L433.4,323.1L434.2,322.5L435.1,321.9L436.0,321.3L437.1,320.7L438.2,320.1L439.4,319.5L440.6,318.8L441.8,318.2L443.1,317.6L444.5,317.0L445.8,316.4L447.2,315.8L448.6,315.2L449.9,314.7L451.3,314.2L452.6,313.7L454.0,313.3L455.3,312.9L456.5,312.6L457.7,312.3L458.9,312.1L460.0,311.9L461.0,311.7L462.0,311.6L462.9,311.6L463.7,311.6L464.4,311.7L465.1,311.8L465.7,312.0L466.1,312.3L466.5,312.6L466.8,312.9L467.0,313.3L467.1,313.8L467.1,314.3L467.0,314.8L466.8,315.4L466.5,316.0L466.1,316.7L465.7,317.4L465.1,318.1L464.5,318.9L463.8,319.6L463.1,320.4L462.3,321.2L461.4,322.0L460.4,322.9L459.5,323.7L458.4,324.5L457.4,325.3L456.3,326.1L455.2,326.9L454.1,327.7L453.0,328.4L451.8,329.1L450.7,329.8L449.6,330.5L448.5,331.1L447.5,331.7L446.5,332.3L445.5,332.8L444.6,333.2L443.7,333.7L442.8,334.0L442.1,334.3L441.4,334.6L440.8,334.8L440.2,335.0L439.7,335.1L439.3,335.2L439.0,335.2L438.8,335.1L438.7,335.0L438.6,334.9L438.6,334.7L438.8,334.5L439.0,334.2L439.3,333.9L439.6,333.6L440.1,333.2L440.6,332.8L441.2,332.4L441.9,331.9L442.7,331.4L443.5,330.9L444.3,330.4L445.2,329.9L446.2,329.4L447.2,328.9L448.3,328.3L449.4,327.8L450.5,327.3L451.6,326.8L452.7,326.3L453.9,325.8L455.0,325.4L456.1,325.0L457.3,324.6L458.4,324.3L459.5,323.9L460.5,323.7L461.5,323.4L462.5,323.2L463.4,323.0L464.3,322.9L465.1,322.9L465.9,322.8L466.6,322.9L467.2,322.9L467.8,323.1L468.2,323.2L468.6,323.4L469.0,323.7L469.2,324.0L469.4,324.3L469.5,324.7L469.5,325.2L469.5,325.6L469.3,326.1L469.1,326.7L468.9,327.2L468.5,327.8L468.1,328.4L467.6,329.1L467.0,329.8L466.4,330.4L465.8,331.1L465.1,331.8L464.3,332.5L463.5,333.2L462.7,333.9L461.9,334.6L461.0,335.3L460.1,336.0L459.2,336.7L458.3,337.3L457.4,338.0L456.5,338.6L455.6,339.1L454.7,339.7L453.9,340.2L453.0,340.7L452.2,341.1L451.5,341.5L450.8,341.9L450.1,342.2L449.5,342.5L448.9,342.8L448.4,343.0L448.0,343.1L447.6,343.3L447.3,343.3L447.0,343.4L446.8,343.4L446.7,343.3L446.7,343.2L446.7,343.1L446.8,342.9L447.0,342.7L447.2,342.5L447.5,342.2L447.9,341.9L448.3,341.6L448.8,341.3L449.4,340.9L450.0,340.5L450.7,340.1L451.4,339.7L452.1,339.3L452.9,338.9L453.8,338.4L454.6,338.0L455.5,337.6L456.4,337.2L457.4,336.8L458.3,336.4L459.3,336.0L460.2,335.7L461.1,335.3L462.1,335.0L463.0,334.8L463.9,334.5L464.7,334.3L465.6,334.1L466.4,333.9L467.2,333.8L467.9,333.7L468.6,333.7L469.2,333.7L469.8,333.7L470.3,333.8L470.8,333.9L471.2,334.0L471.6,334.2L471.9,334.5L472.1,334.7L472.2,335.0L472.4,335.3L472.4,335.7L472.4,336.1L472.3,336.5L472.1,337.0L471.9,337.5L471.6,338.0L471.3,338.5L471.0,339.0L470.5,339.6L470.1,340.2L469.5,340.7L469.0,341.3L468.4,341.9L467.8,342.5L467.1,343.1L466.4,343.7L465.8,344.3L465.0,344.9L464.3,345.4L463.6,346.0L462.9,346.5L462.2,347.0L461.4,347.5L460.8,348.0L460.1,348.4L459.4,348.8L458.8,349.2L458.2,349.6L457.6,349.9L457.1,350.2L456.6,350.4L456.1,350.6L455.7,350.8L455.4,351.0L455.1,351.1L454.8,351.2L454.6,351.2L454.5,351.2L454.4,351.2L454.4,351.2L454.4,351.1L454.5,350.9L454.6,350.8L454.8,350.6L455.1,350.4L455.4,350.2L455.8,350.0L456.2,349.7L456.6,349.4L457.1,349.2L457.7,348.9L458.3,348.6L458.9,348.2L459.5,347.9L460.2,347.6L460.9,347.3L461.7,347.0L462.4,346.6L463.2,346.3L463.9,346.1L464.7,345.8L465.5,345.5L466.2,345.3L467.0,345.0L467.8,344.8L468.5,344.7L469.2,344.5L469.9,344.4L470.6,344.3L471.2,344.2L471.8,344.1L472.4,344.1L472.9,344.1L473.4,344.2L473.8,344.3L474.2,344.4L474.6,344.5L474.9,344.7L475.1,344.9L475.3,345.1L475.5,345.3L475.5,345.3L475.6,345.9L475.7,346.5L475.7,347.0L475.7,347.5L475.7,348.0L475.6,348.6L475.5,349.1L475.3,349.6L475.1,350.1L474.8,350.5L474.6,351.0L474.2,351.5L473.9,351.9L473.4,352.4L473.0,352.8L472.5,353.2L472.0,353.7L471.4,354.1L470.8,354.5L470.1,354.9L469.4,355.2L468.7,355.6L467.9,356.0L467.1,356.3L466.2,356.7L465.3,357.0L464.4,357.4L463.4,357.7L462.4,358.0" fill="none" stroke="#fbb070" stroke-width="7" stroke-opacity="0.35" stroke-linecap="round" stroke-linejoin="round" filter="url(#blur3)"/>
<path d="M430.2,326.2L430.2,326.0L430.4,325.7L430.6,325.4L431.0,325.0L431.4,324.6L432.0,324.1L432.6,323.6L433.4,323.1L434.2,322.5L435.1,321.9L436.0,321.3L437.1,320.7L438.2,320.1L439.4,319.5L440.6,318.8L441.8,318.2L443.1,317.6L444.5,317.0L445.8,316.4L447.2,315.8L448.6,315.2L449.9,314.7L451.3,314.2L452.6,313.7L454.0,313.3L455.3,312.9L456.5,312.6L457.7,312.3L458.9,312.1L460.0,311.9L461.0,311.7L462.0,311.6L462.9,311.6L463.7,311.6L464.4,311.7L465.1,311.8L465.7,312.0L466.1,312.3L466.5,312.6L466.8,312.9L467.0,313.3" fill="none" stroke="#f89a48" stroke-width="1.2" stroke-linecap="round" stroke-linejoin="round"/>
<path d="M438.6,334.9L438.6,334.7L438.8,334.5L439.0,334.2L439.3,333.9L439.6,333.6L440.1,333.2L440.6,332.8L441.2,332.4L441.9,331.9L442.7,331.4L443.5,330.9L444.3,330.4L445.2,329.9L446.2,329.4L447.2,328.9L448.3,328.3L449.4,327.8L450.5,327.3L451.6,326.8L452.7,326.3L453.9,325.8L455.0,325.4L456.1,325.0L457.3,324.6L458.4,324.3L459.5,323.9L460.5,323.7L461.5,323.4L462.5,323.2L463.4,323.0L464.3,322.9L465.1,322.9L465.9,322.8L466.6,322.9L467.2,322.9L467.8,323.1L468.2,323.2L468.6,323.4L469.0,323.7L469.2,324.0L469.4,324.3" fill="none" stroke="#f89a48" stroke-width="1.2" stroke-linecap="round" stroke-linejoin="round"/>
<path d="M446.7,343.2L446.7,343.1L446.8,342.9L447.0,342.7L447.2,342.5L447.5,342.2L447.9,341.9L448.3,341.6L448.8,341.3L449.4,340.9L450.0,340.5L450.7,340.1L451.4,339.7L452.1,339.3L452.9,338.9L453.8,338.4L454.6,338.0L455.5,337.6L456.4,337.2L457.4,336.8L458.3,336.4L459.3,336.0L460.2,335.7L461.1,335.3L462.1,335.0L463.0,334.8L463.9,334.5L464.7,334.3L465.6,334.1L466.4,333.9L467.2,333.8L467.9,333.7L468.6,333.7L469.2,333.7L469.8,333.7L470.3,333.8L470.8,333.9L471.2,334.0L471.6,334.2L471.9,334.5L472.1,334.7L472.2,335.0" fill="none" stroke="#f89a48" stroke-width="1.2" stroke-linecap="round" stroke-linejoin="round"/>
<path d="M454.4,351.2L454.4,351.1L454.5,350.9L454.6,350.8L454.8,350.6L455.1,350.4L455.4,350.2L455.8,350.0L456.2,349.7L456.6,349.4L457.1,349.2L457.7,348.9L458.3,348.6L458.9,348.2L459.5,347.9L460.2,347.6L460.9,347.3L461.7,347.0L462.4,346.6L463.2,346.3L463.9,346.1L464.7,345.8L465.5,345.5L466.2,345.3L467.0,345.0L467.8,344.8L468.5,344.7L469.2,344.5L469.9,344.4L470.6,344.3L471.2,344.2L471.8,344.1L472.4,344.1L472.9,344.1L473.4,344.2L473.8,344.3L474.2,344.4L474.6,344.5L474.9,344.7L475.1,344.9L475.3,345.1L475.5,345.3" fill="none" stroke="#f89a48" stroke-width="1.2" stroke-linecap="round" stroke-linejoin="round"/>
<path d="M437.4,324.7L436.3,325.1L435.3,325.5L434.4,325.8L433.6,326.1L432.8,326.3L432.1,326.5L431.6,326.6L431.1,326.7L430.7,326.6L430.4,326.6L430.3,326.4L430.2,326.2" fill="none" stroke="#f47a20" stroke-width="1.5" stroke-linecap="round" stroke-linejoin="round"/>
<path d="M467.0,313.3L467.1,313.8L467.1,314.3L467.0,314.8L466.8,315.4L466.5,316.0L466.1,316.7L465.7,317.4L465.1,318.1L464.5,318.9L463.8,319.6L463.1,320.4L462.3,321.2L461.4,322.0L460.4,322.9L459.5,323.7L458.4,324.5L457.4,325.3L456.3,326.1L455.2,326.9L454.1,327.7L453.0,328.4L451.8,329.1L450.7,329.8L449.6,330.5L448.5,331.1L447.5,331.7L446.5,332.3L445.5,332.8L444.6,333.2L443.7,333.7L442.8,334.0L442.1,334.3L441.4,334.6L440.8,334.8L440.2,335.0L439.7,335.1L439.3,335.2L439.0,335.2L438.8,335.1L438.7,335.0L438.6,334.9" fill="none" stroke="#f47a20" stroke-width="1.5" stroke-linecap="round" stroke-linejoin="round"/>
<path d="M469.4,324.3L469.5,324.7L469.5,325.2L469.5,325.6L469.3,326.1L469.1,326.7L468.9,327.2L468.5,327.8L468.1,328.4L467.6,329.1L467.0,329.8L466.4,330.4L465.8,331.1L465.1,331.8L464.3,332.5L463.5,333.2L462.7,333.9L461.9,334.6L461.0,335.3L460.1,336.0L459.2,336.7L458.3,337.3L457.4,338.0L456.5,338.6L455.6,339.1L454.7,339.7L453.9,340.2L453.0,340.7L452.2,341.1L451.5,341.5L450.8,341.9L450.1,342.2L449.5,342.5L448.9,342.8L448.4,343.0L448.0,343.1L447.6,343.3L447.3,343.3L447.0,343.4L446.8,343.4L446.7,343.3L446.7,343.2" fill="none" stroke="#f47a20" stroke-width="1.5" stroke-linecap="round" stroke-linejoin="round"/>
<path d="M472.2,335.0L472.4,335.3L472.4,335.7L472.4,336.1L472.3,336.5L472.1,337.0L471.9,337.5L471.6,338.0L471.3,338.5L471.0,339.0L470.5,339.6L470.1,340.2L469.5,340.7L469.0,341.3L468.4,341.9L467.8,342.5L467.1,343.1L466.4,343.7L465.8,344.3L465.0,344.9L464.3,345.4L463.6,346.0L462.9,346.5L462.2,347.0L461.4,347.5L460.8,348.0L460.1,348.4L459.4,348.8L458.8,349.2L458.2,349.6L457.6,349.9L457.1,350.2L456.6,350.4L456.1,350.6L455.7,350.8L455.4,351.0L455.1,351.1L454.8,351.2L454.6,351.2L454.5,351.2L454.4,351.2L454.4,351.2" fill="none" stroke="#f47a20" stroke-width="1.5" stroke-linecap="round" stroke-linejoin="round"/>
<path d="M475.5,345.3L475.6,345.9L475.7,346.5L475.7,347.0L475.7,347.5L475.7,348.0L475.6,348.6L475.5,349.1L475.3,349.6L475.1,350.1L474.8,350.5L474.6,351.0L474.2,351.5L473.9,351.9L473.4,352.4L473.0,352.8L472.5,353.2L472.0,353.7L471.4,354.1L470.8,354.5L470.1,354.9L469.4,355.2L468.7,355.6L467.9,356.0L467.1,356.3L466.2,356.7" fill="none" stroke="#f47a20" stroke-width="1.5" stroke-linecap="round" stroke-linejoin="round"/>
<path d="M460.99,358.50 L466.99,352.98 L469.12,359.02 Z" fill="#f47a20"/>
<path d="M527.7,355.0L527.7,354.9L527.7,354.9L527.7,354.8L527.6,354.7L527.5,354.6L527.4,354.5L527.3,354.3L527.1,354.1L526.9,353.9L526.7,353.7L526.4,353.5L526.1,353.2L525.8,352.9L525.5,352.6L525.2,352.3L524.8,352.0L524.4,351.6L524.0,351.2L523.6,350.9L523.2,350.5L522.8,350.1L522.4,349.7L522.0,349.2L521.6,348.8L521.2,348.4L520.8,348.0L520.4,347.5L520.0,347.1L519.6,346.7L519.3,346.2L519.0,345.8L518.7,345.4L518.4,345.0L518.2,344.6L517.9,344.2L517.8,343.9L517.6,343.5L517.5,343.2L517.4,342.9L517.3,342.6L517.3,342.3L517.4,342.1L517.4,341.9L517.5,341.7L517.7,341.5L517.9,341.3L518.1,341.2L518.3,341.1L518.6,341.0L519.0,341.0L519.4,341.0L519.8,341.0L520.2,341.0L520.7,341.1L521.2,341.2L521.7,341.3L522.2,341.4L522.8,341.6L523.4,341.7L524.0,341.9L524.6,342.1L525.3,342.3L525.9,342.6L526.6,342.8L527.2,343.1L527.9,343.3L528.5,343.6L529.1,343.9L529.7,344.1L530.4,344.4L530.9,344.7L531.5,344.9L532.1,345.2L532.6,345.4L533.1,345.7L533.5,345.9L533.9,346.1L534.3,346.3L534.7,346.5L535.0,346.6L535.2,346.8L535.4,346.9L535.6,346.9L535.7,347.0L535.8,347.0L535.8,347.0L535.8,347.0L535.8,346.9L535.7,346.8L535.5,346.7L535.3,346.5L535.0,346.3L534.8,346.1L534.4,345.8L534.1,345.5L533.6,345.2L533.2,344.9L532.7,344.5L532.2,344.1L531.7,343.7L531.1,343.2L530.5,342.8L529.9,342.3L529.3,341.7L528.7,341.2L528.0,340.7L527.4,340.1L526.8,339.5L526.1,339.0L525.5,338.4L524.9,337.8L524.3,337.2L523.7,336.6L523.2,336.1L522.7,335.5L522.2,334.9L521.7,334.4L521.3,333.9L520.9,333.3L520.6,332.8L520.3,332.4L520.0,331.9L519.8,331.5L519.7,331.1L519.6,330.7L519.5,330.4L519.5,330.1L519.6,329.8L519.7,329.5L519.9,329.3L520.1,329.2L520.4,329.0L520.8,328.9L521.1,328.9L521.6,328.8L522.1,328.8L522.6,328.9L523.2,329.0L523.9,329.1L524.5,329.2L525.2,329.4L526.0,329.6L526.8,329.8L527.6,330.1L528.4,330.4L529.2,330.7L530.1,331.0L531.0,331.3L531.8,331.7L532.7,332.1L533.6,332.5L534.5,332.8L535.3,333.2L536.2,333.6L537.0,334.0L537.8,334.4L538.5,334.8L539.3,335.2L540.0,335.5L540.6,335.9L541.2,336.2L541.8,336.5L542.3,336.8L542.8,337.1L543.2,337.3L543.5,337.5L543.8,337.7L544.1,337.8L544.2,337.9L544.3,338.0L544.4,338.0L544.3,338.0L544.3,337.9L544.1,337.8L543.9,337.7L543.6,337.5L543.3,337.3L542.9,337.1L542.4,336.8L541.9,336.5L541.4,336.1L540.8,335.7L540.2,335.2L539.5,334.8L538.7,334.3L538.0,333.7L537.2,333.1L536.4,332.5L535.6,331.9L534.7,331.3L533.9,330.6L533.0,330.0L532.2,329.3L531.3,328.6L530.5,327.9L529.7,327.2L528.9,326.5L528.1,325.7L527.4,325.0L526.6,324.3L526.0,323.7L525.3,323.0L524.8,322.4L524.2,321.7L523.8,321.1L523.3,320.5L523.0,320.0L522.7,319.5L522.5,319.0L522.3,318.5L522.2,318.1L522.2,317.8L522.2,317.4L522.4,317.1L522.6,316.9L522.8,316.7L523.2,316.5L523.6,316.4L524.0,316.3L524.6,316.3L525.2,316.3L525.9,316.4L526.6,316.5L527.4,316.6L528.2,316.8L529.1,317.0L530.0,317.2L531.0,317.5L532.0,317.9L533.0,318.2L534.1,318.6L535.2,319.0L536.2,319.4L537.3,319.9L538.4,320.3L539.5,320.8L540.6,321.3L541.7,321.8L542.8,322.3L543.8,322.7L544.8,323.2L545.8,323.7L546.7,324.2L547.6,324.6L548.4,325.1L549.2,325.5L549.9,325.9L550.6,326.2L551.2,326.6L551.7,326.9L552.1,327.2L552.5,327.4L552.8,327.6L553.0,327.7L553.2,327.9L553.2,327.9L553.2,327.9L553.1,327.9L553.0,327.9L552.7,327.7L552.4,327.6L552.0,327.3L551.5,327.1L551.0,326.8L550.3,326.4L549.7,326.0L548.9,325.6L548.1,325.1L547.3,324.6L546.4,324.0L545.5,323.4L544.5,322.8L543.5,322.1L542.5,321.4L541.4,320.7L540.4,319.9L539.3,319.2L538.2,318.4L537.2,317.6L536.1,316.8L535.1,316.0L534.1,315.2L533.1,314.4L532.2,313.6L531.3,312.8L530.4,312.0L529.6,311.2L528.9,310.5L528.2,309.7L527.6,309.0L527.0,308.4L526.5,307.7L526.1,307.1L525.8,306.6L525.6,306.0L525.4,305.6L525.4,305.1L525.4,304.7L525.5,304.4L525.5,304.4L525.5,304.1L525.5,303.9L525.5,303.7L525.6,303.5L525.8,303.3L525.9,303.2L526.1,303.1L526.3,303.0L526.6,302.9L526.9,302.8L527.2,302.8L527.5,302.8L527.9,302.8L528.3,302.9L528.8,302.9L529.3,303.0L529.8,303.1L530.4,303.3L531.0,303.4L531.6,303.6L532.3,303.8L533.0,304.0L533.7,304.3L534.5,304.5L535.3,304.8L536.1,305.1L537.0,305.5L537.9,305.8L538.8,306.2" fill="none" stroke="#e8485a" stroke-width="8" stroke-opacity="0.3" stroke-linecap="round" stroke-linejoin="round" filter="url(#blur3)"/>
<path d="M517.4,341.9L517.5,341.7L517.7,341.5L517.9,341.3L518.1,341.2L518.3,341.1L518.6,341.0L519.0,341.0L519.4,341.0L519.8,341.0L520.2,341.0L520.7,341.1L521.2,341.2L521.7,341.3L522.2,341.4L522.8,341.6L523.4,341.7L524.0,341.9L524.6,342.1L525.3,342.3L525.9,342.6L526.6,342.8L527.2,343.1L527.9,343.3L528.5,343.6L529.1,343.9L529.7,344.1L530.4,344.4L530.9,344.7L531.5,344.9L532.1,345.2L532.6,345.4L533.1,345.7L533.5,345.9L533.9,346.1L534.3,346.3L534.7,346.5L535.0,346.6L535.2,346.8L535.4,346.9L535.6,346.9L535.7,347.0L535.8,347.0L535.8,347.0" fill="none" stroke="#e0606a" stroke-width="1.0" stroke-linecap="round" stroke-linejoin="round"/>
<path d="M519.7,329.5L519.9,329.3L520.1,329.2L520.4,329.0L520.8,328.9L521.1,328.9L521.6,328.8L522.1,328.8L522.6,328.9L523.2,329.0L523.9,329.1L524.5,329.2L525.2,329.4L526.0,329.6L526.8,329.8L527.6,330.1L528.4,330.4L529.2,330.7L530.1,331.0L531.0,331.3L531.8,331.7L532.7,332.1L533.6,332.5L534.5,332.8L535.3,333.2L536.2,333.6L537.0,334.0L537.8,334.4L538.5,334.8L539.3,335.2L540.0,335.5L540.6,335.9L541.2,336.2L541.8,336.5L542.3,336.8L542.8,337.1L543.2,337.3L543.5,337.5L543.8,337.7L544.1,337.8L544.2,337.9L544.3,338.0L544.4,338.0" fill="none" stroke="#e0606a" stroke-width="1.0" stroke-linecap="round" stroke-linejoin="round"/>
<path d="M522.4,317.1L522.6,316.9L522.8,316.7L523.2,316.5L523.6,316.4L524.0,316.3L524.6,316.3L525.2,316.3L525.9,316.4L526.6,316.5L527.4,316.6L528.2,316.8L529.1,317.0L530.0,317.2L531.0,317.5L532.0,317.9L533.0,318.2L534.1,318.6L535.2,319.0L536.2,319.4L537.3,319.9L538.4,320.3L539.5,320.8L540.6,321.3L541.7,321.8L542.8,322.3L543.8,322.7L544.8,323.2L545.8,323.7L546.7,324.2L547.6,324.6L548.4,325.1L549.2,325.5L549.9,325.9L550.6,326.2L551.2,326.6L551.7,326.9L552.1,327.2L552.5,327.4L552.8,327.6L553.0,327.7L553.2,327.9L553.2,327.9L553.2,327.9" fill="none" stroke="#e0606a" stroke-width="1.0" stroke-linecap="round" stroke-linejoin="round"/>
<path d="M527.7,355.0L527.7,354.9L527.7,354.9L527.7,354.8L527.6,354.7L527.5,354.6L527.4,354.5L527.3,354.3L527.1,354.1L526.9,353.9L526.7,353.7L526.4,353.5L526.1,353.2L525.8,352.9L525.5,352.6L525.2,352.3L524.8,352.0L524.4,351.6L524.0,351.2L523.6,350.9L523.2,350.5L522.8,350.1L522.4,349.7L522.0,349.2L521.6,348.8L521.2,348.4L520.8,348.0L520.4,347.5L520.0,347.1L519.6,346.7L519.3,346.2L519.0,345.8L518.7,345.4L518.4,345.0L518.2,344.6L517.9,344.2L517.8,343.9L517.6,343.5L517.5,343.2L517.4,342.9L517.3,342.6L517.3,342.3L517.4,342.1L517.4,341.9" fill="none" stroke="#d41e28" stroke-width="1.6" stroke-linecap="round" stroke-linejoin="round"/>
<path d="M535.8,347.0L535.8,347.0L535.8,346.9L535.7,346.8L535.5,346.7L535.3,346.5L535.0,346.3L534.8,346.1L534.4,345.8L534.1,345.5L533.6,345.2L533.2,344.9L532.7,344.5L532.2,344.1L531.7,343.7L531.1,343.2L530.5,342.8L529.9,342.3L529.3,341.7L528.7,341.2L528.0,340.7L527.4,340.1L526.8,339.5L526.1,339.0L525.5,338.4L524.9,337.8L524.3,337.2L523.7,336.6L523.2,336.1L522.7,335.5L522.2,334.9L521.7,334.4L521.3,333.9L520.9,333.3L520.6,332.8L520.3,332.4L520.0,331.9L519.8,331.5L519.7,331.1L519.6,330.7L519.5,330.4L519.5,330.1L519.6,329.8L519.7,329.5" fill="none" stroke="#d41e28" stroke-width="1.6" stroke-linecap="round" stroke-linejoin="round"/>
<path d="M544.4,338.0L544.3,338.0L544.3,337.9L544.1,337.8L543.9,337.7L543.6,337.5L543.3,337.3L542.9,337.1L542.4,336.8L541.9,336.5L541.4,336.1L540.8,335.7L540.2,335.2L539.5,334.8L538.7,334.3L538.0,333.7L537.2,333.1L536.4,332.5L535.6,331.9L534.7,331.3L533.9,330.6L533.0,330.0L532.2,329.3L531.3,328.6L530.5,327.9L529.7,327.2L528.9,326.5L528.1,325.7L527.4,325.0L526.6,324.3L526.0,323.7L525.3,323.0L524.8,322.4L524.2,321.7L523.8,321.1L523.3,320.5L523.0,320.0L522.7,319.5L522.5,319.0L522.3,318.5L522.2,318.1L522.2,317.8L522.2,317.4L522.4,317.1" fill="none" stroke="#d41e28" stroke-width="1.6" stroke-linecap="round" stroke-linejoin="round"/>
<path d="M553.2,327.9L553.1,327.9L553.0,327.9L552.7,327.7L552.4,327.6L552.0,327.3L551.5,327.1L551.0,326.8L550.3,326.4L549.7,326.0L548.9,325.6L548.1,325.1L547.3,324.6L546.4,324.0L545.5,323.4L544.5,322.8L543.5,322.1L542.5,321.4L541.4,320.7L540.4,319.9L539.3,319.2L538.2,318.4L537.2,317.6L536.1,316.8L535.1,316.0L534.1,315.2L533.1,314.4L532.2,313.6L531.3,312.8L530.4,312.0L529.6,311.2L528.9,310.5L528.2,309.7L527.6,309.0L527.0,308.4L526.5,307.7L526.1,307.1L525.8,306.6L525.6,306.0L525.4,305.6L525.4,305.1L525.4,304.7L525.5,304.4" fill="none" stroke="#d41e28" stroke-width="1.6" stroke-linecap="round" stroke-linejoin="round"/>
<path d="M525.5,304.4L525.5,304.1L525.5,303.9L525.5,303.7L525.6,303.5L525.8,303.3L525.9,303.2L526.1,303.1L526.3,303.0L526.6,302.9L526.9,302.8L527.2,302.8L527.5,302.8L527.9,302.8L528.3,302.9L528.8,302.9L529.3,303.0L529.8,303.1L530.4,303.3L531.0,303.4L531.6,303.6L532.3,303.8L533.0,304.0L533.7,304.3L534.5,304.5L535.3,304.8" fill="none" stroke="#d41e28" stroke-width="1.6" stroke-linecap="round" stroke-linejoin="round"/>
<path d="M540.20,306.74 L532.12,306.83 L534.29,301.23 Z" fill="#d41e28"/>
<path d="M600.4,354.7L600.4,354.7L600.4,354.7L600.4,354.6L600.4,354.6L600.4,354.5L600.3,354.4L600.3,354.4L600.2,354.3L600.1,354.2L600.0,354.1L599.9,353.9L599.7,353.8L599.6,353.7L599.4,353.5L599.3,353.4L599.1,353.2L598.9,353.1L598.7,352.9L598.5,352.7L598.3,352.5L598.1,352.3L597.8,352.1L597.6,351.9L597.4,351.7L597.2,351.5L597.0,351.3L596.8,351.1L596.6,350.9L596.4,350.7L596.2,350.5L596.0,350.3L595.8,350.1L595.7,349.9L595.5,349.8L595.4,349.6L595.3,349.4L595.2,349.2L595.1,349.1L595.1,348.9L595.0,348.8L595.0,348.7L595.0,348.6L595.0,348.5L595.0,348.4L595.1,348.3L595.2,348.2L595.3,348.2L595.4,348.1L595.6,348.1L595.7,348.1L595.9,348.1L596.1,348.1L596.3,348.1L596.6,348.1L596.8,348.2L597.1,348.2L597.4,348.3L597.7,348.4L598.0,348.4L598.3,348.5L598.6,348.6L598.9,348.7L599.3,348.9L599.6,349.0L599.9,349.1L600.3,349.2L600.6,349.3L600.9,349.5L601.3,349.6L601.6,349.7L601.9,349.9L602.2,350.0L602.5,350.1L602.8,350.2L603.0,350.3L603.3,350.4L603.5,350.5L603.7,350.6L603.9,350.7L604.1,350.7L604.2,350.8L604.3,350.8L604.4,350.8L604.5,350.8L604.6,350.8L604.6,350.8L604.6,350.8L604.6,350.8L604.5,350.7L604.4,350.6L604.3,350.5L604.2,350.4L604.1,350.3L603.9,350.2L603.7,350.0L603.5,349.8L603.3,349.7L603.0,349.5L602.8,349.3L602.5,349.1L602.2,348.8L601.9,348.6L601.6,348.4L601.2,348.1L600.9,347.8L600.6,347.6L600.3,347.3L599.9,347.0L599.6,346.8L599.3,346.5L598.9,346.2L598.6,346.0L598.3,345.7L598.0,345.4L597.7,345.2L597.5,344.9L597.2,344.7L597.0,344.4L596.8,344.2L596.6,344.0L596.4,343.8L596.3,343.6L596.2,343.4L596.1,343.2L596.0,343.0L596.0,342.9L596.0,342.8L596.0,342.7L596.0,342.6L596.1,342.5L596.2,342.4L596.4,342.4L596.5,342.4L596.7,342.4L597.0,342.4L597.2,342.4L597.5,342.4L597.8,342.5L598.1,342.6L598.4,342.6L598.8,342.7L599.2,342.8L599.6,343.0L600.0,343.1L600.4,343.2L600.8,343.4L601.3,343.5L601.7,343.7L602.2,343.9L602.6,344.0L603.1,344.2L603.5,344.4L604.0,344.6L604.4,344.8L604.8,344.9L605.2,345.1L605.6,345.3L606.0,345.4L606.4,345.6L606.7,345.7L607.0,345.8L607.3,346.0L607.6,346.1L607.8,346.2L608.1,346.3L608.2,346.3L608.4,346.4L608.5,346.4L608.6,346.5L608.7,346.5L608.7,346.5L608.7,346.4L608.7,346.4L608.6,346.3L608.5,346.3L608.4,346.2L608.2,346.1L608.1,345.9L607.8,345.8L607.6,345.6L607.3,345.5L607.1,345.3L606.7,345.1L606.4,344.9L606.1,344.6L605.7,344.4L605.3,344.2L604.9,343.9L604.5,343.6L604.1,343.4L603.7,343.1L603.3,342.8L602.9,342.5L602.5,342.3L602.0,342.0L601.6,341.7L601.2,341.4L600.9,341.1L600.5,340.9L600.2,340.6L599.8,340.3L599.5,340.1L599.2,339.8L599.0,339.6L598.7,339.4L598.5,339.2L598.4,339.0L598.2,338.8L598.1,338.6L598.0,338.5L598.0,338.3L598.0,338.2L598.0,338.1L598.0,338.0L598.1,337.9L598.2,337.9L598.4,337.8L598.6,337.8L598.8,337.8L599.1,337.8L599.4,337.8L599.7,337.9L600.0,337.9L600.4,338.0L600.8,338.1L601.2,338.1L601.7,338.3L602.1,338.4L602.6,338.5L603.1,338.6L603.6,338.8L604.1,338.9L604.6,339.1L605.1,339.2L605.6,339.4L606.2,339.5L606.7,339.7L607.2,339.9L607.7,340.0L608.2,340.2L608.7,340.3L609.1,340.5L609.6,340.6L610.0,340.8L610.4,340.9L610.8,341.0L611.1,341.1L611.4,341.2L611.7,341.3L612.0,341.4L612.2,341.5L612.4,341.5L612.5,341.6L612.7,341.6L612.7,341.6L612.8,341.6L612.8,341.6L612.8,341.5L612.7,341.5L612.6,341.4L612.5,341.3L612.3,341.3L612.1,341.1L611.9,341.0L611.6,340.9L611.3,340.8L611.0,340.6L610.7,340.4L610.3,340.3L609.9,340.1L609.5,339.9L609.1,339.7L608.7,339.5L608.2,339.2L607.8,339.0L607.3,338.8L606.9,338.6L606.4,338.3L606.0,338.1L605.5,337.9L605.1,337.7L604.6,337.4L604.2,337.2L603.8,337.0L603.4,336.8L603.1,336.6L602.7,336.3L602.4,336.1L602.1,336.0L601.8,335.8L601.6,335.6L601.4,335.4L601.2,335.3L601.1,335.2L601.0,335.0L601.0,334.9L600.9,334.8L600.9,334.7L601.0,334.6L601.0,334.6L600.9,334.5L600.7,334.3L600.6,334.1L600.5,334.0L600.3,333.8L600.2,333.6L600.1,333.4L599.9,333.3L599.8,333.1L599.6,332.9L599.5,332.7L599.3,332.5L599.2,332.3L599.0,332.1L598.8,331.9L598.7,331.7L598.5,331.5L598.3,331.3L598.2,331.1L598.0,330.9L597.8,330.6L597.6,330.4L597.5,330.2L597.3,330.0L597.1,329.7L596.9,329.5L596.7,329.3L596.5,329.0L596.3,328.8" fill="none" stroke="#5060f0" stroke-width="7" stroke-opacity="0.35" stroke-linecap="round" stroke-linejoin="round" filter="url(#blur3)"/>
<path d="M595.0,348.5L595.0,348.4L595.1,348.3L595.2,348.2L595.3,348.2L595.4,348.1L595.6,348.1L595.7,348.1L595.9,348.1L596.1,348.1L596.3,348.1L596.6,348.1L596.8,348.2L597.1,348.2L597.4,348.3L597.7,348.4L598.0,348.4L598.3,348.5L598.6,348.6L598.9,348.7L599.3,348.9L599.6,349.0L599.9,349.1L600.3,349.2L600.6,349.3L600.9,349.5L601.3,349.6L601.6,349.7L601.9,349.9L602.2,350.0L602.5,350.1L602.8,350.2L603.0,350.3L603.3,350.4L603.5,350.5L603.7,350.6L603.9,350.7L604.1,350.7L604.2,350.8L604.3,350.8L604.4,350.8L604.5,350.8L604.6,350.8L604.6,350.8" fill="none" stroke="#5050d8" stroke-width="0.9" stroke-linecap="round" stroke-linejoin="round"/>
<path d="M596.0,342.6L596.1,342.5L596.2,342.4L596.4,342.4L596.5,342.4L596.7,342.4L597.0,342.4L597.2,342.4L597.5,342.4L597.8,342.5L598.1,342.6L598.4,342.6L598.8,342.7L599.2,342.8L599.6,343.0L600.0,343.1L600.4,343.2L600.8,343.4L601.3,343.5L601.7,343.7L602.2,343.9L602.6,344.0L603.1,344.2L603.5,344.4L604.0,344.6L604.4,344.8L604.8,344.9L605.2,345.1L605.6,345.3L606.0,345.4L606.4,345.6L606.7,345.7L607.0,345.8L607.3,346.0L607.6,346.1L607.8,346.2L608.1,346.3L608.2,346.3L608.4,346.4L608.5,346.4L608.6,346.5L608.7,346.5L608.7,346.5" fill="none" stroke="#5050d8" stroke-width="0.9" stroke-linecap="round" stroke-linejoin="round"/>
<path d="M598.0,338.0L598.1,337.9L598.2,337.9L598.4,337.8L598.6,337.8L598.8,337.8L599.1,337.8L599.4,337.8L599.7,337.9L600.0,337.9L600.4,338.0L600.8,338.1L601.2,338.1L601.7,338.3L602.1,338.4L602.6,338.5L603.1,338.6L603.6,338.8L604.1,338.9L604.6,339.1L605.1,339.2L605.6,339.4L606.2,339.5L606.7,339.7L607.2,339.9L607.7,340.0L608.2,340.2L608.7,340.3L609.1,340.5L609.6,340.6L610.0,340.8L610.4,340.9L610.8,341.0L611.1,341.1L611.4,341.2L611.7,341.3L612.0,341.4L612.2,341.5L612.4,341.5L612.5,341.6L612.7,341.6L612.7,341.6L612.8,341.6L612.8,341.6" fill="none" stroke="#5050d8" stroke-width="0.9" stroke-linecap="round" stroke-linejoin="round"/>
<path d="M600.4,354.7L600.4,354.7L600.4,354.7L600.4,354.6L600.4,354.6L600.4,354.5L600.3,354.4L600.3,354.4L600.2,354.3L600.1,354.2L600.0,354.1L599.9,353.9L599.7,353.8L599.6,353.7L599.4,353.5L599.3,353.4L599.1,353.2L598.9,353.1L598.7,352.9L598.5,352.7L598.3,352.5L598.1,352.3L597.8,352.1L597.6,351.9L597.4,351.7L597.2,351.5L597.0,351.3L596.8,351.1L596.6,350.9L596.4,350.7L596.2,350.5L596.0,350.3L595.8,350.1L595.7,349.9L595.5,349.8L595.4,349.6L595.3,349.4L595.2,349.2L595.1,349.1L595.1,348.9L595.0,348.8L595.0,348.7L595.0,348.6L595.0,348.5" fill="none" stroke="#1010c8" stroke-width="1.4" stroke-linecap="round" stroke-linejoin="round"/>
<path d="M604.6,350.8L604.6,350.8L604.6,350.8L604.5,350.7L604.4,350.6L604.3,350.5L604.2,350.4L604.1,350.3L603.9,350.2L603.7,350.0L603.5,349.8L603.3,349.7L603.0,349.5L602.8,349.3L602.5,349.1L602.2,348.8L601.9,348.6L601.6,348.4L601.2,348.1L600.9,347.8L600.6,347.6L600.3,347.3L599.9,347.0L599.6,346.8L599.3,346.5L598.9,346.2L598.6,346.0L598.3,345.7L598.0,345.4L597.7,345.2L597.5,344.9L597.2,344.7L597.0,344.4L596.8,344.2L596.6,344.0L596.4,343.8L596.3,343.6L596.2,343.4L596.1,343.2L596.0,343.0L596.0,342.9L596.0,342.8L596.0,342.7L596.0,342.6" fill="none" stroke="#1010c8" stroke-width="1.4" stroke-linecap="round" stroke-linejoin="round"/>
<path d="M608.7,346.5L608.7,346.4L608.7,346.4L608.6,346.3L608.5,346.3L608.4,346.2L608.2,346.1L608.1,345.9L607.8,345.8L607.6,345.6L607.3,345.5L607.1,345.3L606.7,345.1L606.4,344.9L606.1,344.6L605.7,344.4L605.3,344.2L604.9,343.9L604.5,343.6L604.1,343.4L603.7,343.1L603.3,342.8L602.9,342.5L602.5,342.3L602.0,342.0L601.6,341.7L601.2,341.4L600.9,341.1L600.5,340.9L600.2,340.6L599.8,340.3L599.5,340.1L599.2,339.8L599.0,339.6L598.7,339.4L598.5,339.2L598.4,339.0L598.2,338.8L598.1,338.6L598.0,338.5L598.0,338.3L598.0,338.2L598.0,338.1L598.0,338.0" fill="none" stroke="#1010c8" stroke-width="1.4" stroke-linecap="round" stroke-linejoin="round"/>
<path d="M612.8,341.6L612.8,341.5L612.7,341.5L612.6,341.4L612.5,341.3L612.3,341.3L612.1,341.1L611.9,341.0L611.6,340.9L611.3,340.8L611.0,340.6L610.7,340.4L610.3,340.3L609.9,340.1L609.5,339.9L609.1,339.7L608.7,339.5L608.2,339.2L607.8,339.0L607.3,338.8L606.9,338.6L606.4,338.3L606.0,338.1L605.5,337.9L605.1,337.7L604.6,337.4L604.2,337.2L603.8,337.0L603.4,336.8L603.1,336.6L602.7,336.3L602.4,336.1L602.1,336.0L601.8,335.8L601.6,335.6L601.4,335.4L601.2,335.3L601.1,335.2L601.0,335.0L601.0,334.9L600.9,334.8L600.9,334.7L601.0,334.6" fill="none" stroke="#1010c8" stroke-width="1.4" stroke-linecap="round" stroke-linejoin="round"/>
<path d="M601.0,334.6L600.9,334.5L600.7,334.3L600.6,334.1L600.5,334.0L600.3,333.8L600.2,333.6L600.1,333.4L599.9,333.3L599.8,333.1L599.6,332.9L599.5,332.7L599.3,332.5L599.2,332.3L599.0,332.1L598.8,331.9L598.7,331.7L598.5,331.5L598.3,331.3L598.2,331.1L598.0,330.9L597.8,330.6L597.6,330.4L597.5,330.2L597.3,330.0L597.1,329.7" fill="none" stroke="#1010c8" stroke-width="1.4" stroke-linecap="round" stroke-linejoin="round"/>
<path d="M595.35,327.64 L603.06,331.65 L597.82,335.98 Z" fill="#1010c8"/>
<text x="408.20" y="320.90" font-size="15" fill="#f7941d"><tspan font-family='"Liberation Serif", serif' font-style="italic">&#963;</tspan><tspan font-family='"Liberation Sans", sans-serif' stroke="#f7941d" stroke-width="0.35" font-size="13.95" dx="0.2">&#8722;</tspan></text>
<text x="557.40" y="320.20" font-size="15" fill="#ee1c25"><tspan font-family='"Liberation Serif", serif' font-style="italic">&#963;</tspan><tspan font-family='"Liberation Sans", sans-serif' stroke="#ee1c25" stroke-width="0.35" font-size="13.95" dx="0.2">&#8722;</tspan></text>
<text x="549.60" y="354.00" font-family='"Liberation Sans", sans-serif' font-size="14.6" fill="#ee1c25" stroke="#ee1c25" stroke-width="0.2" text-anchor="start" font-weight="normal" font-style="normal" >PL</text>
<text x="611.80" y="330.30" font-size="15" fill="#1a1aff"><tspan font-family='"Liberation Serif", serif' font-style="italic">&#963;</tspan><tspan font-family='"Liberation Sans", sans-serif' stroke="#1a1aff" stroke-width="0.35" font-size="13.95" dx="0.2">+</tspan></text>
<text x="623.60" y="354.00" font-family='"Liberation Sans", sans-serif' font-size="14.6" fill="#1a1aff" stroke="#1a1aff" stroke-width="0.2" text-anchor="start" font-weight="normal" font-style="normal" >PL</text>
<path d="M392.50,361.8 L630.01,361.8 L623.71,379.4 L386.20,379.4 Z" fill="url(#band3)"/>
<path d="M392.50,361.8 L404.47,379.4 L386.20,379.4 Z" fill="url(#tri3)"/>
<path d="M410.77,361.8 L422.74,379.4 L404.47,379.4 Z" fill="url(#tri3)"/>
<path d="M429.04,361.8 L441.01,379.4 L422.74,379.4 Z" fill="url(#tri3)"/>
<path d="M447.31,361.8 L459.28,379.4 L441.01,379.4 Z" fill="url(#tri3)"/>
<path d="M465.58,361.8 L477.55,379.4 L459.28,379.4 Z" fill="url(#tri3)"/>
<path d="M483.85,361.8 L495.82,379.4 L477.55,379.4 Z" fill="url(#tri3)"/>
<path d="M502.12,361.8 L514.09,379.4 L495.82,379.4 Z" fill="url(#tri3)"/>
<path d="M520.39,361.8 L532.36,379.4 L514.09,379.4 Z" fill="url(#tri3)"/>
<path d="M538.66,361.8 L550.63,379.4 L532.36,379.4 Z" fill="url(#tri3)"/>
<path d="M556.93,361.8 L568.90,379.4 L550.63,379.4 Z" fill="url(#tri3)"/>
<path d="M575.20,361.8 L587.17,379.4 L568.90,379.4 Z" fill="url(#tri3)"/>
<path d="M593.47,361.8 L605.44,379.4 L587.17,379.4 Z" fill="url(#tri3)"/>
<path d="M611.74,361.8 L623.71,379.4 L605.44,379.4 Z" fill="url(#tri3)"/>
<circle cx="398.80" cy="370.90" r="2.6" fill="url(#gPb)" />
<circle cx="417.07" cy="370.90" r="2.6" fill="url(#gPb)" />
<circle cx="435.34" cy="370.90" r="2.6" fill="url(#gPb)" />
<circle cx="453.61" cy="370.90" r="2.6" fill="url(#gPb)" />
<circle cx="471.88" cy="370.90" r="2.6" fill="url(#gPb)" />
<circle cx="490.15" cy="370.90" r="2.6" fill="url(#gPb)" />
<circle cx="508.42" cy="370.90" r="2.6" fill="url(#gPb)" />
<circle cx="526.69" cy="370.90" r="2.6" fill="url(#gPb)" />
<circle cx="544.96" cy="370.90" r="2.6" fill="url(#gPb)" />
<circle cx="563.23" cy="370.90" r="2.6" fill="url(#gPb)" />
<circle cx="581.50" cy="370.90" r="2.6" fill="url(#gPb)" />
<circle cx="599.77" cy="370.90" r="2.6" fill="url(#gPb)" />
<circle cx="618.04" cy="370.90" r="2.6" fill="url(#gPb)" />
<circle cx="392.50" cy="361.8" r="2.4" fill="url(#gI)"/>
<circle cx="386.20" cy="379.4" r="2.4" fill="url(#gI)"/>
<circle cx="410.77" cy="361.8" r="2.4" fill="url(#gI)"/>
<circle cx="404.47" cy="379.4" r="2.4" fill="url(#gI)"/>
<circle cx="429.04" cy="361.8" r="2.4" fill="url(#gI)"/>
<circle cx="422.74" cy="379.4" r="2.4" fill="url(#gI)"/>
<circle cx="447.31" cy="361.8" r="2.4" fill="url(#gI)"/>
<circle cx="441.01" cy="379.4" r="2.4" fill="url(#gI)"/>
<circle cx="465.58" cy="361.8" r="2.4" fill="url(#gI)"/>
<circle cx="459.28" cy="379.4" r="2.4" fill="url(#gI)"/>
<circle cx="483.85" cy="361.8" r="2.4" fill="url(#gI)"/>
<circle cx="477.55" cy="379.4" r="2.4" fill="url(#gI)"/>
<circle cx="502.12" cy="361.8" r="2.4" fill="url(#gI)"/>
<circle cx="495.82" cy="379.4" r="2.4" fill="url(#gI)"/>
<circle cx="520.39" cy="361.8" r="2.4" fill="url(#gI)"/>
<circle cx="514.09" cy="379.4" r="2.4" fill="url(#gI)"/>
<circle cx="538.66" cy="361.8" r="2.4" fill="url(#gI)"/>
<circle cx="532.36" cy="379.4" r="2.4" fill="url(#gI)"/>
<circle cx="556.93" cy="361.8" r="2.4" fill="url(#gI)"/>
<circle cx="550.63" cy="379.4" r="2.4" fill="url(#gI)"/>
<circle cx="575.20" cy="361.8" r="2.4" fill="url(#gI)"/>
<circle cx="568.90" cy="379.4" r="2.4" fill="url(#gI)"/>
<circle cx="593.47" cy="361.8" r="2.4" fill="url(#gI)"/>
<circle cx="587.17" cy="379.4" r="2.4" fill="url(#gI)"/>
<circle cx="611.74" cy="361.8" r="2.4" fill="url(#gI)"/>
<circle cx="605.44" cy="379.4" r="2.4" fill="url(#gI)"/>
<circle cx="630.01" cy="361.8" r="2.4" fill="url(#gI)"/>
<circle cx="623.71" cy="379.4" r="2.4" fill="url(#gI)"/>
<path d="M392.20,389.1 L629.84,389.1 L623.54,406.8 L385.90,406.8 Z" fill="url(#band4)"/>
<path d="M392.20,389.1 L404.18,406.8 L385.90,406.8 Z" fill="url(#tri4)"/>
<path d="M410.48,389.1 L422.46,406.8 L404.18,406.8 Z" fill="url(#tri4)"/>
<path d="M428.76,389.1 L440.74,406.8 L422.46,406.8 Z" fill="url(#tri4)"/>
<path d="M447.04,389.1 L459.02,406.8 L440.74,406.8 Z" fill="url(#tri4)"/>
<path d="M465.32,389.1 L477.30,406.8 L459.02,406.8 Z" fill="url(#tri4)"/>
<path d="M483.60,389.1 L495.58,406.8 L477.30,406.8 Z" fill="url(#tri4)"/>
<path d="M501.88,389.1 L513.86,406.8 L495.58,406.8 Z" fill="url(#tri4)"/>
<path d="M520.16,389.1 L532.14,406.8 L513.86,406.8 Z" fill="url(#tri4)"/>
<path d="M538.44,389.1 L550.42,406.8 L532.14,406.8 Z" fill="url(#tri4)"/>
<path d="M556.72,389.1 L568.70,406.8 L550.42,406.8 Z" fill="url(#tri4)"/>
<path d="M575.00,389.1 L586.98,406.8 L568.70,406.8 Z" fill="url(#tri4)"/>
<path d="M593.28,389.1 L605.26,406.8 L586.98,406.8 Z" fill="url(#tri4)"/>
<path d="M611.56,389.1 L623.54,406.8 L605.26,406.8 Z" fill="url(#tri4)"/>
<circle cx="398.50" cy="398.25" r="2.6" fill="url(#gPb)" />
<circle cx="416.78" cy="398.25" r="2.6" fill="url(#gPb)" />
<circle cx="435.06" cy="398.25" r="2.6" fill="url(#gPb)" />
<circle cx="453.34" cy="398.25" r="2.6" fill="url(#gPb)" />
<circle cx="471.62" cy="398.25" r="2.6" fill="url(#gPb)" />
<circle cx="489.90" cy="398.25" r="2.6" fill="url(#gPb)" />
<circle cx="508.18" cy="398.25" r="2.6" fill="url(#gPb)" />
<circle cx="526.46" cy="398.25" r="2.6" fill="url(#gPb)" />
<circle cx="544.74" cy="398.25" r="2.6" fill="url(#gPb)" />
<circle cx="563.02" cy="398.25" r="2.6" fill="url(#gPb)" />
<circle cx="581.30" cy="398.25" r="2.6" fill="url(#gPb)" />
<circle cx="599.58" cy="398.25" r="2.6" fill="url(#gPb)" />
<circle cx="617.86" cy="398.25" r="2.6" fill="url(#gPb)" />
<circle cx="392.20" cy="389.1" r="2.4" fill="url(#gI)"/>
<circle cx="385.90" cy="406.8" r="2.4" fill="url(#gI)"/>
<circle cx="410.48" cy="389.1" r="2.4" fill="url(#gI)"/>
<circle cx="404.18" cy="406.8" r="2.4" fill="url(#gI)"/>
<circle cx="428.76" cy="389.1" r="2.4" fill="url(#gI)"/>
<circle cx="422.46" cy="406.8" r="2.4" fill="url(#gI)"/>
<circle cx="447.04" cy="389.1" r="2.4" fill="url(#gI)"/>
<circle cx="440.74" cy="406.8" r="2.4" fill="url(#gI)"/>
<circle cx="465.32" cy="389.1" r="2.4" fill="url(#gI)"/>
<circle cx="459.02" cy="406.8" r="2.4" fill="url(#gI)"/>
<circle cx="483.60" cy="389.1" r="2.4" fill="url(#gI)"/>
<circle cx="477.30" cy="406.8" r="2.4" fill="url(#gI)"/>
<circle cx="501.88" cy="389.1" r="2.4" fill="url(#gI)"/>
<circle cx="495.58" cy="406.8" r="2.4" fill="url(#gI)"/>
<circle cx="520.16" cy="389.1" r="2.4" fill="url(#gI)"/>
<circle cx="513.86" cy="406.8" r="2.4" fill="url(#gI)"/>
<circle cx="538.44" cy="389.1" r="2.4" fill="url(#gI)"/>
<circle cx="532.14" cy="406.8" r="2.4" fill="url(#gI)"/>
<circle cx="556.72" cy="389.1" r="2.4" fill="url(#gI)"/>
<circle cx="550.42" cy="406.8" r="2.4" fill="url(#gI)"/>
<circle cx="575.00" cy="389.1" r="2.4" fill="url(#gI)"/>
<circle cx="568.70" cy="406.8" r="2.4" fill="url(#gI)"/>
<circle cx="593.28" cy="389.1" r="2.4" fill="url(#gI)"/>
<circle cx="586.98" cy="406.8" r="2.4" fill="url(#gI)"/>
<circle cx="611.56" cy="389.1" r="2.4" fill="url(#gI)"/>
<circle cx="605.26" cy="406.8" r="2.4" fill="url(#gI)"/>
<circle cx="629.84" cy="389.1" r="2.4" fill="url(#gI)"/>
<circle cx="623.54" cy="406.8" r="2.4" fill="url(#gI)"/>
<path d="M392.20,414.9 L629.84,414.9 L623.54,432.5 L385.90,432.5 Z" fill="url(#band5)"/>
<path d="M392.20,414.9 L404.18,432.5 L385.90,432.5 Z" fill="url(#tri5)"/>
<path d="M410.48,414.9 L422.46,432.5 L404.18,432.5 Z" fill="url(#tri5)"/>
<path d="M428.76,414.9 L440.74,432.5 L422.46,432.5 Z" fill="url(#tri5)"/>
<path d="M447.04,414.9 L459.02,432.5 L440.74,432.5 Z" fill="url(#tri5)"/>
<path d="M465.32,414.9 L477.30,432.5 L459.02,432.5 Z" fill="url(#tri5)"/>
<path d="M483.60,414.9 L495.58,432.5 L477.30,432.5 Z" fill="url(#tri5)"/>
<path d="M501.88,414.9 L513.86,432.5 L495.58,432.5 Z" fill="url(#tri5)"/>
<path d="M520.16,414.9 L532.14,432.5 L513.86,432.5 Z" fill="url(#tri5)"/>
<path d="M538.44,414.9 L550.42,432.5 L532.14,432.5 Z" fill="url(#tri5)"/>
<path d="M556.72,414.9 L568.70,432.5 L550.42,432.5 Z" fill="url(#tri5)"/>
<path d="M575.00,414.9 L586.98,432.5 L568.70,432.5 Z" fill="url(#tri5)"/>
<path d="M593.28,414.9 L605.26,432.5 L586.98,432.5 Z" fill="url(#tri5)"/>
<path d="M611.56,414.9 L623.54,432.5 L605.26,432.5 Z" fill="url(#tri5)"/>
<circle cx="398.50" cy="424.00" r="2.6" fill="url(#gPb)" />
<circle cx="416.78" cy="424.00" r="2.6" fill="url(#gPb)" />
<circle cx="435.06" cy="424.00" r="2.6" fill="url(#gPb)" />
<circle cx="453.34" cy="424.00" r="2.6" fill="url(#gPb)" />
<circle cx="471.62" cy="424.00" r="2.6" fill="url(#gPb)" />
<circle cx="489.90" cy="424.00" r="2.6" fill="url(#gPb)" />
<circle cx="508.18" cy="424.00" r="2.6" fill="url(#gPb)" />
<circle cx="526.46" cy="424.00" r="2.6" fill="url(#gPb)" />
<circle cx="544.74" cy="424.00" r="2.6" fill="url(#gPb)" />
<circle cx="563.02" cy="424.00" r="2.6" fill="url(#gPb)" />
<circle cx="581.30" cy="424.00" r="2.6" fill="url(#gPb)" />
<circle cx="599.58" cy="424.00" r="2.6" fill="url(#gPb)" />
<circle cx="617.86" cy="424.00" r="2.6" fill="url(#gPb)" />
<circle cx="392.20" cy="414.9" r="2.4" fill="url(#gI)"/>
<circle cx="385.90" cy="432.5" r="2.4" fill="url(#gI)"/>
<circle cx="410.48" cy="414.9" r="2.4" fill="url(#gI)"/>
<circle cx="404.18" cy="432.5" r="2.4" fill="url(#gI)"/>
<circle cx="428.76" cy="414.9" r="2.4" fill="url(#gI)"/>
<circle cx="422.46" cy="432.5" r="2.4" fill="url(#gI)"/>
<circle cx="447.04" cy="414.9" r="2.4" fill="url(#gI)"/>
<circle cx="440.74" cy="432.5" r="2.4" fill="url(#gI)"/>
<circle cx="465.32" cy="414.9" r="2.4" fill="url(#gI)"/>
<circle cx="459.02" cy="432.5" r="2.4" fill="url(#gI)"/>
<circle cx="483.60" cy="414.9" r="2.4" fill="url(#gI)"/>
<circle cx="477.30" cy="432.5" r="2.4" fill="url(#gI)"/>
<circle cx="501.88" cy="414.9" r="2.4" fill="url(#gI)"/>
<circle cx="495.58" cy="432.5" r="2.4" fill="url(#gI)"/>
<circle cx="520.16" cy="414.9" r="2.4" fill="url(#gI)"/>
<circle cx="513.86" cy="432.5" r="2.4" fill="url(#gI)"/>
<circle cx="538.44" cy="414.9" r="2.4" fill="url(#gI)"/>
<circle cx="532.14" cy="432.5" r="2.4" fill="url(#gI)"/>
<circle cx="556.72" cy="414.9" r="2.4" fill="url(#gI)"/>
<circle cx="550.42" cy="432.5" r="2.4" fill="url(#gI)"/>
<circle cx="575.00" cy="414.9" r="2.4" fill="url(#gI)"/>
<circle cx="568.70" cy="432.5" r="2.4" fill="url(#gI)"/>
<circle cx="593.28" cy="414.9" r="2.4" fill="url(#gI)"/>
<circle cx="586.98" cy="432.5" r="2.4" fill="url(#gI)"/>
<circle cx="611.56" cy="414.9" r="2.4" fill="url(#gI)"/>
<circle cx="605.26" cy="432.5" r="2.4" fill="url(#gI)"/>
<circle cx="629.84" cy="414.9" r="2.4" fill="url(#gI)"/>
<circle cx="623.54" cy="432.5" r="2.4" fill="url(#gI)"/>
<path d="M389.7,451.2L396.0,461.0L407.8,451.2L414.1,461.0L425.9,451.2L432.2,461.0L444.0,451.2L450.3,461.0L462.1,451.2L468.4,461.0L480.2,451.2L486.5,461.0L498.3,451.2L504.6,461.0L516.4,451.2L522.7,461.0L534.5,451.2L540.8,461.0L552.6,451.2L558.9,461.0L570.7,451.2L577.0,461.0L588.8,451.2L595.1,461.0L606.9,451.2L613.2,461.0L625.0,451.2L631.3,461.0" fill="none" stroke="#4cc4da" stroke-width="1.7" stroke-linejoin="round"/>
<path d="M389.7,471.3L396.0,461.0L407.8,471.3L414.1,461.0L425.9,471.3L432.2,461.0L444.0,471.3L450.3,461.0L462.1,471.3L468.4,461.0L480.2,471.3L486.5,461.0L498.3,471.3L504.6,461.0L516.4,471.3L522.7,461.0L534.5,471.3L540.8,461.0L552.6,471.3L558.9,461.0L570.7,471.3L577.0,461.0L588.8,471.3L595.1,461.0L606.9,471.3L613.2,461.0L625.0,471.3L631.3,461.0" fill="none" stroke="#4cc4da" stroke-width="1.7" stroke-linejoin="round"/>
<circle cx="389.70" cy="451.2" r="2.8" fill="url(#gS)"/>
<circle cx="389.70" cy="471.3" r="2.8" fill="url(#gS)"/>
<circle cx="407.80" cy="451.2" r="2.8" fill="url(#gS)"/>
<circle cx="407.80" cy="471.3" r="2.8" fill="url(#gS)"/>
<circle cx="425.90" cy="451.2" r="2.8" fill="url(#gS)"/>
<circle cx="425.90" cy="471.3" r="2.8" fill="url(#gS)"/>
<circle cx="444.00" cy="451.2" r="2.8" fill="url(#gS)"/>
<circle cx="444.00" cy="471.3" r="2.8" fill="url(#gS)"/>
<circle cx="462.10" cy="451.2" r="2.8" fill="url(#gS)"/>
<circle cx="462.10" cy="471.3" r="2.8" fill="url(#gS)"/>
<circle cx="480.20" cy="451.2" r="2.8" fill="url(#gS)"/>
<circle cx="480.20" cy="471.3" r="2.8" fill="url(#gS)"/>
<circle cx="498.30" cy="451.2" r="2.8" fill="url(#gS)"/>
<circle cx="498.30" cy="471.3" r="2.8" fill="url(#gS)"/>
<circle cx="516.40" cy="451.2" r="2.8" fill="url(#gS)"/>
<circle cx="516.40" cy="471.3" r="2.8" fill="url(#gS)"/>
<circle cx="534.50" cy="451.2" r="2.8" fill="url(#gS)"/>
<circle cx="534.50" cy="471.3" r="2.8" fill="url(#gS)"/>
<circle cx="552.60" cy="451.2" r="2.8" fill="url(#gS)"/>
<circle cx="552.60" cy="471.3" r="2.8" fill="url(#gS)"/>
<circle cx="570.70" cy="451.2" r="2.8" fill="url(#gS)"/>
<circle cx="570.70" cy="471.3" r="2.8" fill="url(#gS)"/>
<circle cx="588.80" cy="451.2" r="2.8" fill="url(#gS)"/>
<circle cx="588.80" cy="471.3" r="2.8" fill="url(#gS)"/>
<circle cx="606.90" cy="451.2" r="2.8" fill="url(#gS)"/>
<circle cx="606.90" cy="471.3" r="2.8" fill="url(#gS)"/>
<circle cx="625.00" cy="451.2" r="2.8" fill="url(#gS)"/>
<circle cx="625.00" cy="471.3" r="2.8" fill="url(#gS)"/>
<circle cx="396.00" cy="461.0" r="3.9" fill="url(#gW)"/>
<circle cx="414.10" cy="461.0" r="3.9" fill="url(#gW)"/>
<circle cx="432.20" cy="461.0" r="3.9" fill="url(#gW)"/>
<circle cx="450.30" cy="461.0" r="3.9" fill="url(#gW)"/>
<circle cx="468.40" cy="461.0" r="3.9" fill="url(#gW)"/>
<circle cx="486.50" cy="461.0" r="3.9" fill="url(#gW)"/>
<circle cx="504.60" cy="461.0" r="3.9" fill="url(#gW)"/>
<circle cx="522.70" cy="461.0" r="3.9" fill="url(#gW)"/>
<circle cx="540.80" cy="461.0" r="3.9" fill="url(#gW)"/>
<circle cx="558.90" cy="461.0" r="3.9" fill="url(#gW)"/>
<circle cx="577.00" cy="461.0" r="3.9" fill="url(#gW)"/>
<circle cx="595.10" cy="461.0" r="3.9" fill="url(#gW)"/>
<circle cx="613.20" cy="461.0" r="3.9" fill="url(#gW)"/>
<circle cx="631.30" cy="461.0" r="3.9" fill="url(#gW)"/>
<ellipse cx="451.40" cy="372.90" rx="13.5" ry="19" fill="url(#glowR)"/>
<ellipse cx="501.20" cy="372.40" rx="13.5" ry="19" fill="url(#glowR)"/>
<ellipse cx="544.40" cy="373.70" rx="13.5" ry="19" fill="url(#glowR)"/>
<ellipse cx="577.00" cy="371.80" rx="13.5" ry="19" fill="url(#glowR)"/>
<ellipse cx="471.60" cy="400.60" rx="13.5" ry="19" fill="url(#glowR)"/>
<ellipse cx="528.10" cy="396.10" rx="13.5" ry="19" fill="url(#glowR)"/>
<ellipse cx="561.40" cy="400.60" rx="13.5" ry="19" fill="url(#glowR)"/>
<ellipse cx="485.00" cy="425.70" rx="13.5" ry="19" fill="url(#glowR)"/>
<ellipse cx="554.60" cy="425.70" rx="13.5" ry="19" fill="url(#glowR)"/>
<ellipse cx="519.50" cy="458.50" rx="13.5" ry="19" fill="url(#glowR)"/>
<ellipse cx="520.10" cy="418.00" rx="12" ry="13" fill="url(#glowB)"/>
<ellipse cx="486.40" cy="455.00" rx="12" ry="13" fill="url(#glowB)"/>
<line x1="451.40" y1="369.40" x2="451.40" y2="376.40" stroke="#c00010" stroke-width="1.3"/>
<path d="M448.70,374.10 L454.10,374.10 L451.40,382.90 Z" fill="#dc0012"/>
<circle cx="451.40" cy="369.40" r="4.6" fill="url(#gR)"/>
<ellipse cx="449.90" cy="367.80" rx="1.9" ry="1.6" fill="url(#gHL)"/>
<circle cx="451.40" cy="364.50" r="0.9" fill="#fff" opacity="0.8"/>
<line x1="501.20" y1="368.90" x2="501.20" y2="375.90" stroke="#c00010" stroke-width="1.3"/>
<path d="M498.50,374.10 L503.90,374.10 L501.20,382.90 Z" fill="#dc0012"/>
<circle cx="501.20" cy="368.90" r="4.6" fill="url(#gR)"/>
<ellipse cx="499.70" cy="367.30" rx="1.9" ry="1.6" fill="url(#gHL)"/>
<circle cx="501.20" cy="364.00" r="0.9" fill="#fff" opacity="0.8"/>
<line x1="544.40" y1="370.20" x2="544.40" y2="377.20" stroke="#c00010" stroke-width="1.3"/>
<path d="M541.70,376.80 L547.10,376.80 L544.40,385.60 Z" fill="#dc0012"/>
<circle cx="544.40" cy="370.20" r="4.6" fill="url(#gR)"/>
<ellipse cx="542.90" cy="368.60" rx="1.9" ry="1.6" fill="url(#gHL)"/>
<circle cx="544.40" cy="365.30" r="0.9" fill="#fff" opacity="0.8"/>
<line x1="577.00" y1="368.30" x2="577.00" y2="375.30" stroke="#c00010" stroke-width="1.3"/>
<path d="M574.30,372.00 L579.70,372.00 L577.00,380.80 Z" fill="#dc0012"/>
<circle cx="577.00" cy="368.30" r="4.6" fill="url(#gR)"/>
<ellipse cx="575.50" cy="366.70" rx="1.9" ry="1.6" fill="url(#gHL)"/>
<circle cx="577.00" cy="363.40" r="0.9" fill="#fff" opacity="0.8"/>
<line x1="471.60" y1="397.10" x2="471.60" y2="404.10" stroke="#c00010" stroke-width="1.3"/>
<path d="M468.90,402.40 L474.30,402.40 L471.60,411.20 Z" fill="#dc0012"/>
<circle cx="471.60" cy="397.10" r="4.6" fill="url(#gR)"/>
<ellipse cx="470.10" cy="395.50" rx="1.9" ry="1.6" fill="url(#gHL)"/>
<circle cx="471.60" cy="392.20" r="0.9" fill="#fff" opacity="0.8"/>
<line x1="528.10" y1="392.60" x2="528.10" y2="399.60" stroke="#c00010" stroke-width="1.3"/>
<path d="M525.40,397.80 L530.80,397.80 L528.10,406.60 Z" fill="#dc0012"/>
<circle cx="528.10" cy="392.60" r="4.6" fill="url(#gR)"/>
<ellipse cx="526.60" cy="391.00" rx="1.9" ry="1.6" fill="url(#gHL)"/>
<circle cx="528.10" cy="387.70" r="0.9" fill="#fff" opacity="0.8"/>
<line x1="561.40" y1="397.10" x2="561.40" y2="404.10" stroke="#c00010" stroke-width="1.3"/>
<path d="M558.70,401.60 L564.10,401.60 L561.40,410.40 Z" fill="#dc0012"/>
<circle cx="561.40" cy="397.10" r="4.6" fill="url(#gR)"/>
<ellipse cx="559.90" cy="395.50" rx="1.9" ry="1.6" fill="url(#gHL)"/>
<circle cx="561.40" cy="392.20" r="0.9" fill="#fff" opacity="0.8"/>
<line x1="485.00" y1="422.20" x2="485.00" y2="429.20" stroke="#c00010" stroke-width="1.3"/>
<path d="M482.30,427.50 L487.70,427.50 L485.00,436.30 Z" fill="#dc0012"/>
<circle cx="485.00" cy="422.20" r="4.6" fill="url(#gR)"/>
<ellipse cx="483.50" cy="420.60" rx="1.9" ry="1.6" fill="url(#gHL)"/>
<circle cx="485.00" cy="417.30" r="0.9" fill="#fff" opacity="0.8"/>
<line x1="554.60" y1="422.20" x2="554.60" y2="429.20" stroke="#c00010" stroke-width="1.3"/>
<path d="M551.90,425.80 L557.30,425.80 L554.60,434.60 Z" fill="#dc0012"/>
<circle cx="554.60" cy="422.20" r="4.6" fill="url(#gR)"/>
<ellipse cx="553.10" cy="420.60" rx="1.9" ry="1.6" fill="url(#gHL)"/>
<circle cx="554.60" cy="417.30" r="0.9" fill="#fff" opacity="0.8"/>
<line x1="519.50" y1="455.00" x2="519.50" y2="462.00" stroke="#c00010" stroke-width="1.3"/>
<path d="M516.80,461.70 L522.20,461.70 L519.50,470.50 Z" fill="#dc0012"/>
<circle cx="519.50" cy="455.00" r="4.6" fill="url(#gR)"/>
<ellipse cx="518.00" cy="453.40" rx="1.9" ry="1.6" fill="url(#gHL)"/>
<circle cx="519.50" cy="450.10" r="0.9" fill="#fff" opacity="0.8"/>
<path d="M517.10,417.20 L523.10,417.20 L520.10,410.20 Z" fill="#1a1aff"/>
<line x1="520.10" y1="421.40" x2="520.10" y2="427.90" stroke="#1a1aff" stroke-width="1.2"/>
<circle cx="520.10" cy="421.40" r="4.4" fill="url(#gB)"/>
<ellipse cx="518.60" cy="420.00" rx="1.9" ry="1.6" fill="url(#gHL)"/>
<path d="M483.40,454.10 L489.40,454.10 L486.40,447.10 Z" fill="#1a1aff"/>
<line x1="486.40" y1="459.10" x2="486.40" y2="465.60" stroke="#1a1aff" stroke-width="1.2"/>
<circle cx="486.40" cy="459.10" r="4.4" fill="url(#gB)"/>
<ellipse cx="484.90" cy="457.70" rx="1.9" ry="1.6" fill="url(#gHL)"/>
<path d="M438.4,381.5 C421.5,393 420,412 438.2,418.3" fill="none" stroke="#ef6c0e" stroke-width="3.0" stroke-linecap="round"/>
<path d="M447,422.9 L435.45,421.83 L439.53,414.03 Z" fill="#ef6c0e"/>
<path d="M577.9,422.1 C597.5,433 598,453 580.8,459.3" fill="none" stroke="#ef6c0e" stroke-width="3.0" stroke-linecap="round"/>
<path d="M570.4,463.6 L579.86,454.93 L583.22,463.06 Z" fill="#ef6c0e"/>
<text x="638.00" y="398.10" font-family='"Liberation Sans", sans-serif' font-size="14.6" fill="#0a0a0a" stroke="#0a0a0a" stroke-width="0.2" text-anchor="start" font-weight="normal" font-style="normal" >Thick</text>
<text x="647.30" y="422.30" font-family='"Liberation Sans", sans-serif' font-size="14.6" fill="#0a0a0a" stroke="#0a0a0a" stroke-width="0.2" text-anchor="start">PbI<tspan font-size="10.51" dy="3.6">2</tspan></text>
<text x="645.90" y="460.50" font-family='"Liberation Sans", sans-serif' font-size="14.6" fill="#0a0a0a" stroke="#0a0a0a" stroke-width="0.2" text-anchor="start">WS<tspan font-size="10.51" dy="3.6">2</tspan></text>
</svg>
</body></html>
